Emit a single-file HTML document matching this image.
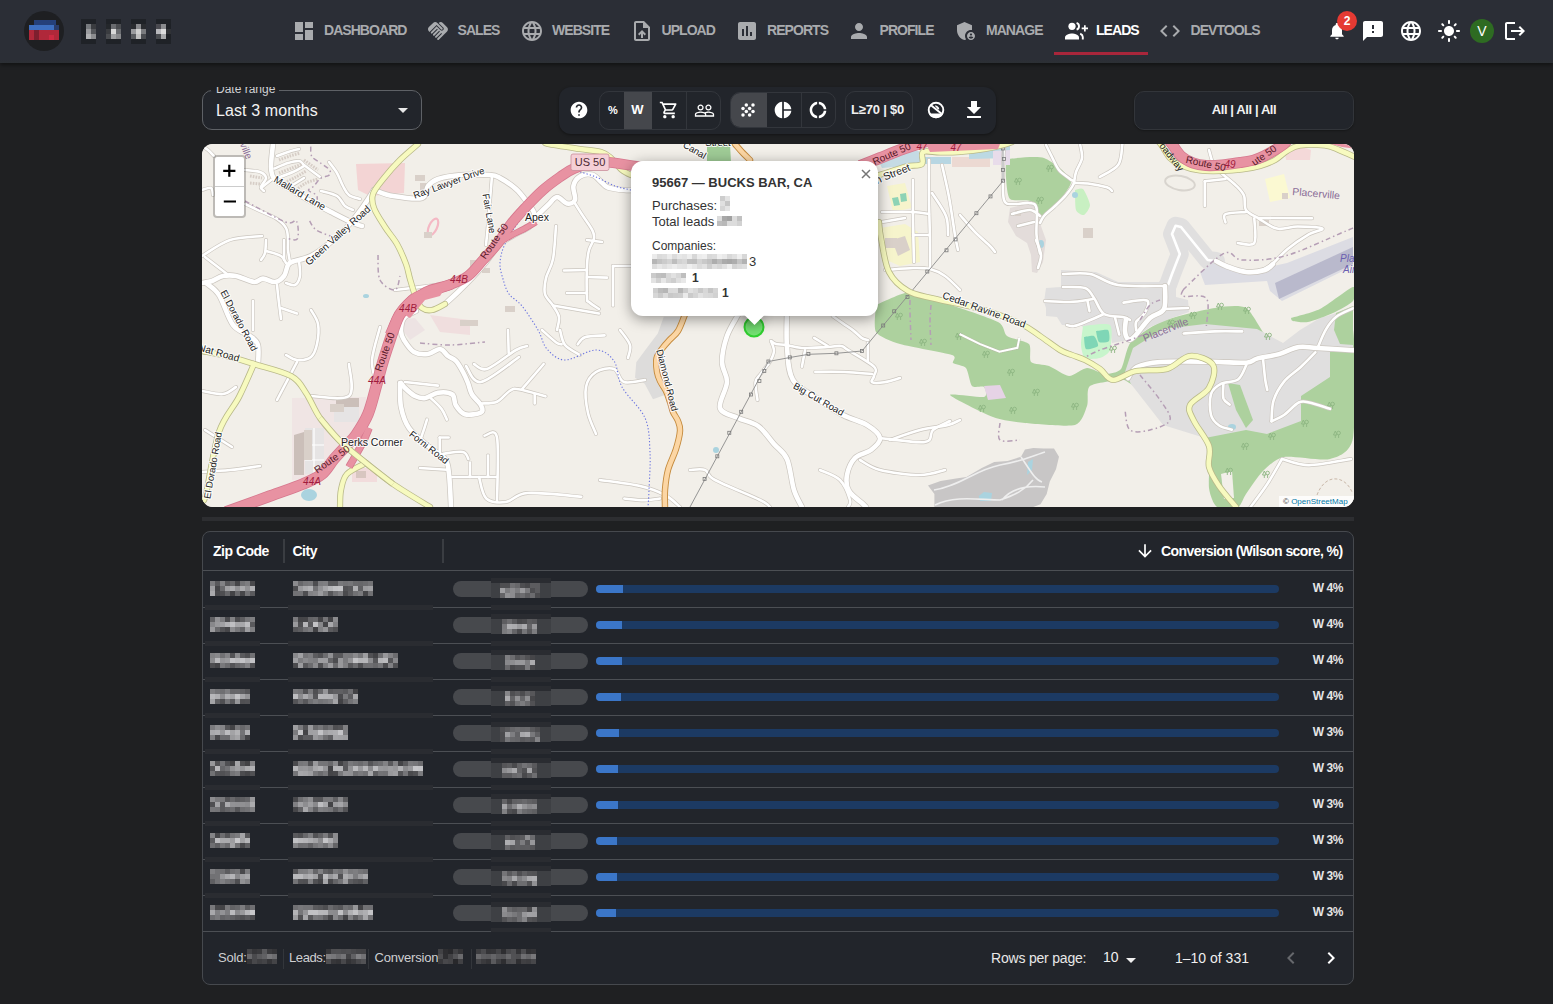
<!DOCTYPE html>
<html><head><meta charset="utf-8">
<style>
*{box-sizing:border-box}
html,body{margin:0;padding:0}
body{width:1553px;height:1004px;overflow:hidden;position:relative;background:#1f2022;font-family:"Liberation Sans",sans-serif;color:#fff}
.a{position:absolute}
svg{display:block}
#hdr{position:absolute;left:0;top:0;width:1553px;height:63px;background:linear-gradient(#2b2e36 0,#2b2e36 59px,#2c3034 63px);box-shadow:0 2px 4px rgba(0,0,0,.45)}
.nv{position:absolute;top:24px;font-size:14px;font-weight:bold;letter-spacing:-0.95px;color:#a9abae;line-height:14px;white-space:nowrap}
.ni{position:absolute;top:19px;width:24px;height:24px;fill:#a9abae}
.px{position:absolute}
.ri{position:absolute;width:24px;height:24px;fill:#fff}
</style></head><body>
<div id="hdr">
  <!-- logo -->
  <div class="a" style="left:24px;top:11px;width:40px;height:40px;border-radius:50%;background:#1e1f22"></div>
  <div class="a" style="left:34px;top:20px;width:22px;height:5px;background:#25407a"></div>
  <div class="a" style="left:29px;top:25px;width:25px;height:5px;background:#3e6fc0"></div>
  <div class="a" style="left:54px;top:25px;width:5px;height:5px;background:#2a3c6a"></div>
  <div class="a" style="left:29px;top:30px;width:30px;height:10px;background:#b0283a"></div>
  <div class="a" style="left:34px;top:30px;width:5px;height:10px;background:#7e1f2e"></div>
  <div class="a" style="left:49px;top:35px;width:5px;height:5px;background:#cc2a42"></div>
  <!-- pixelated name -->
  <div class="a" style="left:81px;top:19px;width:15px;height:25px;background:#1f2227"></div>
  <div class="a" style="left:86px;top:24px;width:5px;height:5px;background:#777a7e"></div>
  <div class="a" style="left:91px;top:24px;width:5px;height:5px;background:#3a3c40"></div>
  <div class="a" style="left:86px;top:29px;width:5px;height:5px;background:#9a9b9e"></div>
  <div class="a" style="left:91px;top:29px;width:5px;height:5px;background:#55575b"></div>
  <div class="a" style="left:86px;top:34px;width:5px;height:5px;background:#b0b1b3"></div>
  <div class="a" style="left:91px;top:34px;width:5px;height:5px;background:#8c8d90"></div>
  <div class="a" style="left:106px;top:19px;width:15px;height:25px;background:#1f2227"></div>
  <div class="a" style="left:106px;top:24px;width:5px;height:5px;background:#24272b"></div>
  <div class="a" style="left:111px;top:24px;width:5px;height:5px;background:#6a6c70"></div>
  <div class="a" style="left:116px;top:24px;width:5px;height:5px;background:#4a4c50"></div>
  <div class="a" style="left:106px;top:29px;width:5px;height:5px;background:#3a3c40"></div>
  <div class="a" style="left:111px;top:29px;width:5px;height:5px;background:#d8d8d8"></div>
  <div class="a" style="left:116px;top:29px;width:5px;height:5px;background:#6a6c70"></div>
  <div class="a" style="left:106px;top:34px;width:5px;height:5px;background:#4a4c50"></div>
  <div class="a" style="left:111px;top:34px;width:5px;height:5px;background:#a0a1a3"></div>
  <div class="a" style="left:116px;top:34px;width:5px;height:5px;background:#88898c"></div>
  <div class="a" style="left:131px;top:19px;width:15px;height:25px;background:#1f2227"></div>
  <div class="a" style="left:131px;top:24px;width:5px;height:5px;background:#2a2c30"></div>
  <div class="a" style="left:136px;top:24px;width:5px;height:5px;background:#8a8b8e"></div>
  <div class="a" style="left:141px;top:24px;width:5px;height:5px;background:#2a2c30"></div>
  <div class="a" style="left:131px;top:29px;width:5px;height:5px;background:#9a9b9e"></div>
  <div class="a" style="left:136px;top:29px;width:5px;height:5px;background:#d0d0d0"></div>
  <div class="a" style="left:141px;top:29px;width:5px;height:5px;background:#7a7b7e"></div>
  <div class="a" style="left:131px;top:34px;width:5px;height:5px;background:#5a5c60"></div>
  <div class="a" style="left:136px;top:34px;width:5px;height:5px;background:#c0c0c0"></div>
  <div class="a" style="left:141px;top:34px;width:5px;height:5px;background:#4a4c50"></div>
  <div class="a" style="left:156px;top:19px;width:15px;height:25px;background:#1f2227"></div>
  <div class="a" style="left:156px;top:24px;width:5px;height:5px;background:#4a4a50"></div>
  <div class="a" style="left:161px;top:24px;width:5px;height:5px;background:#8a8b8e"></div>
  <div class="a" style="left:166px;top:24px;width:5px;height:5px;background:#1e2126"></div>
  <div class="a" style="left:156px;top:29px;width:5px;height:5px;background:#b8b8bc"></div>
  <div class="a" style="left:161px;top:29px;width:5px;height:5px;background:#dcdcdc"></div>
  <div class="a" style="left:166px;top:29px;width:5px;height:5px;background:#303236"></div>
  <div class="a" style="left:156px;top:34px;width:5px;height:5px;background:#4a4c50"></div>
  <div class="a" style="left:161px;top:34px;width:5px;height:5px;background:#a8a9ab"></div>
  <div class="a" style="left:166px;top:34px;width:5px;height:5px;background:#1e2126"></div>
  <!-- nav -->
  <svg class="ni" style="left:292px" viewBox="0 0 24 24"><path d="M3 13h8V3H3v10zm0 8h8v-6H3v6zm10 0h8V11h-8v10zm0-18v6h8V3h-8z"/></svg>
  <div class="nv" style="left:324px;top:23px">DASHBOARD</div>
  <svg class="ni" style="left:426px" viewBox="0 0 24 24"><path d="M16.48 10.41c-.39.39-1.04.39-1.43 0l-4.47-4.46-7.05 7.04-.66-.63c-1.17-1.17-1.17-3.07 0-4.24l4.24-4.24c1.17-1.17 3.07-1.17 4.24 0L16.48 9c.39.39.39 1.02 0 1.41zm.7-2.12c.78.78.78 2.05 0 2.83-1.27 1.27-2.61.22-2.83 0l-3.76-3.76-5.57 5.57c-.39.39-.39 1.02 0 1.41.39.39 1.02.39 1.42 0l4.6-4.6.71.71-4.6 4.6c-.39.39-.39 1.02 0 1.41.39.39 1.02.39 1.42 0l4.6-4.6.71.71-4.6 4.6c-.39.39-.39 1.02 0 1.41.39.39 1.02.39 1.41 0l4.6-4.6.71.71-4.6 4.6c-.39.39-.39 1.02 0 1.41.39.39 1.02.39 1.41 0l8.26-8.26c1.17-1.17 1.17-3.07 0-4.24l-4.24-4.24c-1.15-1.15-3.01-1.17-4.18-.06l4.47 4.48z"/></svg>
  <div class="nv" style="left:457.5px;top:23px">SALES</div>
  <svg class="ni" style="left:520px" viewBox="0 0 24 24"><path d="M11.99 2C6.47 2 2 6.48 2 12s4.47 10 9.99 10C17.52 22 22 17.52 22 12S17.52 2 11.99 2zm6.93 6h-2.95c-.32-1.25-.78-2.45-1.38-3.56 1.84.63 3.370 1.91 4.33 3.56zM12 4.04c.83 1.2 1.48 2.53 1.91 3.96h-3.82c.43-1.43 1.08-2.76 1.91-3.96zM4.26 14C4.1 13.36 4 12.69 4 12s.1-1.36.26-2h3.38c-.08.66-.14 1.32-.14 2 0 .68.06 1.34.14 2H4.26zm.82 2h2.95c.32 1.25.78 2.45 1.38 3.56-1.84-.63-3.37-1.9-4.33-3.56zm2.95-8H5.08c.96-1.66 2.49-2.93 4.33-3.56C8.81 5.55 8.35 6.75 8.03 8zM12 19.96c-.83-1.2-1.48-2.53-1.91-3.96h3.82c-.43 1.430-1.08 2.76-1.91 3.96zM14.34 14H9.660c-.09-.66-.16-1.32-.16-2 0-.68.07-1.35.16-2h4.68c.09.65.16 1.32.16 2 0 .68-.07 1.34-.16 2zm.25 5.56c.6-1.11 1.06-2.31 1.38-3.56h2.95c-.96 1.65-2.49 2.93-4.33 3.56zM16.36 14c.08-.66.14-1.32.14-2 0-.68-.06-1.34-.14-2h3.38c.16.64.26 1.31.26 2s-.1 1.36-.26 2h-3.38z"/></svg>
  <div class="nv" style="left:552px;top:23px">WEBSITE</div>
  <svg class="ni" style="left:630px" viewBox="0 0 24 24"><path d="M14 2H6c-1.1 0-1.99.9-1.99 2L4 20c0 1.1.89 2 1.990 2H18c1.1 0 2-.9 2-2V8l-6-6zm4 18H6V4h7v5h5v11zM8 15.01l1.41 1.41L11 14.84V19h2v-4.16l1.59 1.59L16 15.01 12.01 11 8 15.01z"/></svg>
  <div class="nv" style="left:661.5px;top:23px">UPLOAD</div>
  <svg class="ni" style="left:735px" viewBox="0 0 24 24"><path d="M19 3H5c-1.1 0-2 .9-2 2v14c0 1.1.9 2 2 2h14c1.1 0 2-.9 2-2V5c0-1.1-.9-2-2-2zM9 17H7v-7h2v7zm4 0h-2V7h2v10zm4 0h-2v-4h2v4z"/></svg>
  <div class="nv" style="left:767px;top:23px">REPORTS</div>
  <svg class="ni" style="left:847px" viewBox="0 0 24 24"><path d="M12 12c2.21 0 4-1.79 4-4s-1.79-4-4-4-4 1.79-4 4 1.79 4 4 4zm0 2c-2.67 0-8 1.34-8 4v2h16v-2c0-2.66-5.33-4-8-4z"/></svg>
  <div class="nv" style="left:879.5px;top:23px">PROFILE</div>
  <svg class="ni" style="left:953.5px" viewBox="0 0 24 24"><path d="M17,11c0.34,0,0.67,0.04,1,0.09V6.27L10.5,3L3,6.27v4.91c0,4.54,3.2,8.79,7.5,9.82c0.55-0.13,1.08-0.32,1.6-0.55C11.41,19.47,11,18.28,11,17C11,13.69,13.69,11,17,11z M17,13c-2.21,0-4,1.79-4,4c0,2.21,1.79,4,4,4s4-1.79,4-4C21,14.79,19.21,13,17,13z M17,14.38c0.62,0,1.12,0.51,1.12,1.12s-0.51,1.12-1.12,1.12s-1.12-0.51-1.12-1.12S16.38,14.38,17,14.38z M17,19.75c-0.93,0-1.74-0.46-2.24-1.17c0.05-0.72,1.51-1.08,2.24-1.08s2.19,0.36,2.24,1.08C18.74,19.29,17.930,19.75,17,19.75z"/></svg>
  <div class="nv" style="left:986px;top:23px">MANAGE</div>
  <svg class="ni" style="left:1064px;fill:#fff" viewBox="0 0 24 24"><circle cx="8" cy="7.3" r="3.6"/><path d="M1 20.5v-2.3c0-2.4 4.6-3.8 7-3.8s7 1.4 7 3.8v2.3z"/><path d="M12.6 3.9a3.6 3.6 0 0 1 0 6.8" fill="none" stroke="#fff" stroke-width="1.9"/><path d="M16.2 14.7c1.6.8 2.6 1.9 2.6 3.3v2.5" fill="none" stroke="#fff" stroke-width="1.9"/><path d="M20 6.2h1.7v2.3H24v1.7h-2.3v2.3H20v-2.3h-2.3V8.5H20z"/></svg>
  <div class="nv" style="left:1096px;top:23px;color:#fff">LEADS</div>
  <div class="a" style="left:1054px;top:52px;width:94px;height:3px;background:#a8263b"></div>
  <svg class="ni" style="left:1158px" viewBox="0 0 24 24"><path d="M9.4 16.6L4.8 12l4.6-4.6L8 6l-6 6 6 6 1.4-1.4zm5.2 0l4.6-4.6-4.6-4.6L16 6l6 6-6 6-1.4-1.4z"/></svg>
  <div class="nv" style="left:1190.5px;top:23px">DEVTOOLS</div>
  <!-- right icons -->
  <svg class="ri" style="left:1326.7px;top:20.6px;width:20px;height:20px" viewBox="0 0 24 24"><path d="M12 22c1.1 0 2-.9 2-2h-4c0 1.1.89 2 2 2zm6-6v-5c0-3.07-1.64-5.64-4.5-6.32V4c0-.83-.67-1.5-1.5-1.5s-1.5.67-1.5 1.5v.68C7.63 5.36 6 7.92 6 11v5l-2 2v1h16v-1l-2-2z"/></svg>
  <div class="a" style="left:1337px;top:11px;width:20px;height:20px;border-radius:50%;background:#e53a33;color:#fff;font-size:12px;font-weight:bold;text-align:center;line-height:20px">2</div>
  <svg class="ri" style="left:1361px;top:19px" viewBox="0 0 24 24"><path d="M20 2H4c-1.1 0-1.99.9-1.99 2L2 22l4-4h14c1.1 0 2-.9 2-2V4c0-1.1-.9-2-2-2zm-7 12h-2v-2h2v2zm0-4h-2V6h2v4z"/></svg>
  <svg class="ri" style="left:1399px;top:19px" viewBox="0 0 24 24"><path d="M11.99 2C6.47 2 2 6.48 2 12s4.47 10 9.99 10C17.52 22 22 17.52 22 12S17.52 2 11.99 2zm6.93 6h-2.95c-.32-1.25-.78-2.45-1.38-3.56 1.84.63 3.37 1.91 4.33 3.56zM12 4.04c.83 1.2 1.48 2.53 1.91 3.96h-3.82c.43-1.43 1.08-2.76 1.91-3.96zM4.26 14C4.1 13.36 4 12.69 4 12s.1-1.36.26-2h3.38c-.08.66-.14 1.32-.14 2 0 .68.06 1.34.14 2H4.26zm.82 2h2.95c.32 1.25.78 2.45 1.38 3.56-1.84-.63-3.37-1.9-4.33-3.56zm2.95-8H5.08c.96-1.66 2.49-2.93 4.33-3.56C8.81 5.55 8.35 6.75 8.03 8zM12 19.96c-.83-1.2-1.48-2.53-1.91-3.96h3.82c-.43 1.43-1.08 2.76-1.91 3.96zM14.34 14H9.66c-.09-.66-.16-1.32-.16-2 0-.68.07-1.35.16-2h4.68c.09.65.16 1.32.16 2 0 .68-.07 1.34-.16 2zm.25 5.56c.6-1.11 1.06-2.31 1.38-3.56h2.95c-.96 1.65-2.49 2.93-4.33 3.56zM16.36 14c.08-.66.14-1.32.14-2 0-.68-.06-1.34-.14-2h3.38c.16.64.26 1.31.26 2s-.1 1.36-.26 2h-3.38z"/></svg>
  <svg class="ri" style="left:1437px;top:19px" viewBox="0 0 24 24"><path d="M12 7c-2.76 0-5 2.24-5 5s2.24 5 5 5 5-2.24 5-5-2.24-5-5-5zM2 13h2c.55 0 1-.45 1-1s-.45-1-1-1H2c-.55 0-1 .45-1 1s.45 1 1 1zm18 0h2c.55 0 1-.45 1-1s-.45-1-1-1h-2c-.55 0-1 .45-1 1s.45 1 1 1zM11 2v2c0 .55.45 1 1 1s1-.45 1-1V2c0-.55-.45-1-1-1s-1 .45-1 1zm0 18v2c0 .55.45 1 1 1s1-.45 1-1v-2c0-.55-.45-1-1-1s-1 .45-1 1zM5.99 4.58c-.39-.39-1.03-.39-1.41 0-.39.39-.39 1.03 0 1.41l1.06 1.06c.39.39 1.03.39 1.41 0s.39-1.03 0-1.41L5.99 4.58zm12.37 12.37c-.39-.39-1.03-.39-1.41 0-.39.39-.39 1.03 0 1.41l1.06 1.06c.39.39 1.03.39 1.41 0 .39-.39.39-1.03 0-1.41l-1.06-1.06zm1.06-10.96c.39-.39.39-1.03 0-1.41-.39-.39-1.03-.39-1.41 0l-1.06 1.06c-.39.39-.39 1.03 0 1.41s1.03.39 1.41 0l1.06-1.06zM7.05 18.36c.39-.39.39-1.03 0-1.41-.39-.39-1.03-.39-1.41 0l-1.06 1.06c-.39.39-.39 1.03 0 1.41s1.03.39 1.41 0l1.06-1.06z"/></svg>
  <div class="a" style="left:1470px;top:19px;width:24px;height:24px;border-radius:50%;background:#2e6b22;color:#fff;font-size:14px;text-align:center;line-height:24px">V</div>
  <svg class="ri" style="left:1503px;top:19px" viewBox="0 0 24 24"><path d="M17 7l-1.41 1.41L18.17 11H8v2h10.17l-2.58 2.58L17 17l5-5zM4 5h8V3H4c-1.1 0-2 .9-2 2v14c0 1.1.9 2 2 2h8v-2H4V5z"/></svg>
</div>
<!-- date range -->
<div class="a" style="left:202px;top:90px;width:220px;height:40px;border:1px solid #5e6166;border-radius:10px;background:#22252b"></div>
<div class="a" style="left:211px;top:90px;width:68px;height:1px;background:#212328"></div>
<div class="a" style="left:214px;top:87px;width:64px;height:10px;overflow:hidden"><div class="a" style="left:2px;top:-5px;font-size:12px;color:#cfd0d2;line-height:14px;white-space:nowrap">Date range</div></div>
<div class="a" style="left:216px;top:102px;font-size:16px;color:#f2f2f2;line-height:18px;white-space:nowrap;letter-spacing:0.1px">Last 3 months</div>
<svg class="a" style="left:391px;top:98px;width:24px;height:24px;fill:#e8e8e8" viewBox="0 0 24 24"><path d="M7 10l5 5 5-5z"/></svg>
<!-- toolbar -->
<div class="a" style="left:559px;top:87px;width:437px;height:47px;border-radius:12px;background:#22252b;box-shadow:0 1px 3px rgba(0,0,0,.4)"></div>
<svg class="a" style="left:569px;top:100px;width:20px;height:20px;fill:#fff" viewBox="0 0 24 24"><path d="M12 2C6.48 2 2 6.48 2 12s4.48 10 10 10 10-4.48 10-10S17.52 2 12 2zm1 17h-2v-2h2v2zm2.07-7.75l-.9.92C13.45 12.9 13 13.5 13 15h-2v-.5c0-1.1.45-2.1 1.17-2.83l1.24-1.26c.37-.36.59-.86.59-1.41 0-1.1-.9-2-2-2s-2 .9-2 2H8c0-2.21 1.79-4 4-4s4 1.79 4 4c0 .88-.36 1.68-.93 2.25z"/></svg>
<div class="a" style="left:599px;top:91px;width:122px;height:39px;border:1px solid #33363c;border-radius:10px;overflow:hidden">
  <div class="a" style="left:24px;top:0;width:28px;height:37px;background:#45474c"></div>
  <div class="a" style="left:86px;top:0;width:1px;height:37px;background:#33363c"></div>
</div>
<div class="a" style="left:606px;top:104px;width:14px;font-size:11px;font-weight:bold;color:#fff;text-align:center;line-height:13px">%</div>
<div class="a" style="left:627px;top:103px;width:21px;font-size:13px;font-weight:bold;color:#fff;text-align:center;line-height:14px">W</div>
<svg class="a" style="left:659px;top:100px;width:20px;height:20px;fill:#fff" viewBox="0 0 24 24"><path d="M15.55 13c.75 0 1.41-.41 1.75-1.03l3.58-6.49c.37-.66-.11-1.48-.87-1.48H5.21l-.94-2H1v2h2l3.6 7.59-1.35 2.44C4.52 15.37 5.48 17 7 17h12v-2H7l1.1-2h7.45zM6.16 6h12.15l-2.76 5H8.53L6.16 6zM7 18c-1.1 0-1.99.9-1.99 2S5.9 22 7 22s2-.9 2-2-.9-2-2-2zm10 0c-1.1 0-1.99.9-1.99 2s.89 2 1.99 2 2-.9 2-2-.9-2-2-2z"/></svg>
<svg class="a" style="left:694px;top:99.5px;width:21px;height:21px;fill:#fff" viewBox="0 0 24 24"><path d="M16.5 13c-1.2 0-3.07.34-4.5 1-1.43-.67-3.3-1-4.5-1C5.33 13 1 14.08 1 16.25V19h22v-2.750c0-2.17-4.33-3.25-6.5-3.25zm-4 4.5h-10v-1.25c0-.54 2.56-1.75 5-1.75s5 1.21 5 1.75v1.25zm9 0H14v-1.25c0-.46-.2-.86-.52-1.22.88-.3 1.96-.53 3.02-.53 2.44 0 5 1.21 5 1.75v1.25zM7.5 12c1.93 0 3.5-1.57 3.5-3.5S9.43 5 7.5 5 4 6.57 4 8.5 5.57 12 7.5 12zm0-5.5c1.1 0 2 .9 2 2s-.9 2-2 2-2-.9-2-2 .9-2 2-2zm9 5.5c1.93 0 3.5-1.57 3.5-3.5S18.43 5 16.5 5 13 6.57 13 8.5s1.57 3.5 3.5 3.5zm0-5.5c1.1 0 2 .9 2 2s-.9 2-2 2-2-.9-2-2 .9-2 2-2z"/></svg>
<div class="a" style="left:730px;top:92px;width:106px;height:36px;border:1px solid #33363c;border-radius:10px;overflow:hidden">
  <div class="a" style="left:0;top:0;width:36px;height:34px;background:#45474c"></div>
  <div class="a" style="left:70px;top:0;width:1px;height:34px;background:#33363c"></div>
</div>
<svg class="a" style="left:735px;top:97px;width:25px;height:26px;fill:#fff" viewBox="735 97 25 26"><circle cx="746.3" cy="104.9" r="1.75"/><circle cx="753" cy="104.9" r="1.75"/><circle cx="743" cy="108.4" r="1.75"/><circle cx="749.6" cy="108.4" r="1.75"/><circle cx="746.3" cy="111.6" r="1.75"/><circle cx="753" cy="111.6" r="1.75"/><circle cx="743" cy="115" r="1.75"/><circle cx="749.6" cy="115" r="1.75"/></svg>
<svg class="a" style="left:773px;top:100px;width:20px;height:20px;fill:#fff" viewBox="0 0 24 24"><path d="M11 2v20c-5.07-.5-9-4.79-9-10s3.93-9.5 9-10zm2.03 0v8.99H22c-.47-4.74-4.24-8.52-8.97-8.99zm0 11.01V22c4.74-.47 8.5-4.25 8.97-8.99h-8.97z"/></svg>
<svg class="a" style="left:808px;top:100px;width:20px;height:20px;fill:#fff" viewBox="0 0 24 24"><path d="M11 5.08V2c-5 .5-9 4.81-9 10s4 9.5 9 10v-3.08c-3-.48-6-3.4-6-6.92s3-6.44 6-6.92zM18.97 11H22c-.47-5-4-8.53-9-9v3.08C16 5.51 18.54 8 18.97 11zM13 18.92V22c5-.47 8.53-4 9-9h-3.03c-.43 3-2.97 5.49-5.97 5.92z"/></svg>
<div class="a" style="left:845px;top:91px;width:68px;height:39px;border:1px solid #33363c;border-radius:10px"></div>
<div class="a" style="left:851px;top:102px;font-size:13px;font-weight:bold;color:#f0f0f0;line-height:15px;white-space:nowrap;letter-spacing:-0.2px">L&#8805;70 | $0</div>
<svg class="a" style="left:924px;top:98px;width:24px;height:24px" viewBox="0 0 24 24"><circle cx="12" cy="12" r="7.3" fill="none" stroke="#fff" stroke-width="1.9"/><path d="M4.6 15.5 A8.2 8.2 0 0 0 19.4 15.5 Z" fill="#fff"/><path d="M7 7.2L17.3 15.6" stroke="#fff" stroke-width="1.9"/><path d="M11 7.3 A5.2 5.2 0 0 1 15.4 11.2 L13.6 11.5 A3.4 3.4 0 0 0 11.6 9 Z" fill="#fff"/></svg>
<svg class="a" style="left:962px;top:98px;width:24px;height:24px;fill:#fff" viewBox="0 0 24 24"><path d="M5 20h14v-2H5v2zM19 9h-4V3H9v6H5l7 7 7-7z"/></svg>
<!-- right filter -->
<div class="a" style="left:1134px;top:91px;width:220px;height:39px;border:1px solid #32353a;border-radius:10px;background:#22252b;box-shadow:0 1px 2px rgba(0,0,0,.3)"></div>
<div class="a" style="left:1134px;top:102px;width:220px;text-align:center;font-size:13px;font-weight:bold;color:#f2f2f2;line-height:15px;letter-spacing:-0.4px">All | All | All</div>

<!--MAP--><div class="a" style="left:202px;top:144px;width:1152px;height:363px;border-radius:11px;overflow:hidden;background:#f2efe9">
<div class="a" style="left:-202px;top:-144px;width:1553px;height:1004px"><svg class="a" style="left:202px;top:144px;width:1152px;height:363px" viewBox="202 144 1152 363"><rect x="202" y="144" width="1152" height="363" fill="#f2efe9"/><polygon points="356,164 405,163 404,193 370,196 358,190" fill="#f3d4d4" /><polygon points="292,398 366,397 366,425 345,455 325,478 292,480" fill="#f0e5e4" /><polygon points="294,435 304,432 304,475 294,475" fill="#cbbfb9" /><polygon points="305,428 324,428 324,474 305,474" fill="#e6e4e4" /><polygon points="336,398 359,398 359,407 336,407" fill="#cbbfb9" /><polygon points="334,407 359,407 359,422 334,422" fill="#e6e4e4" /><polygon points="352,468 377,468 377,482 352,482" fill="#f2dcdc" /><polygon points="356,471 366,471 366,478 356,478" fill="#d8c6c0" /><path d="M305,445 H324 M305,460 H324 M314,428 V474" stroke="#fff" stroke-width="1.2"/><polygon points="395,320 415,318 425,330 410,340" fill="#ede3e3" /><polygon points="430,315 470,320 470,335 440,332" fill="#f0dede" /><polygon points="1284,146 1300,146 1311,150 1310,160 1286,160" fill="#f4d9d9" /><polygon points="1265,179 1284,174 1290,198 1270,202" fill="#fbf9d2" /><polygon points="887,186 905,183 912,208 893,212" fill="#f6f4cc" /><polygon points="892,198 898,197 900,205 894,206" fill="#8dd3b5" /><polygon points="900,194 906,193 907,201 901,202" fill="#8dd3b5" /><polygon points="880,228 905,224 918,232 920,262 900,266 882,258" fill="#f6f4cc" /><polygon points="892,240 905,236 910,250 898,256" fill="#d9d0c9" /><polygon points="1010,208 1030,203 1040,210 1041,226 1046,240 1043,262 1037,273 1032,272 1031,255 1027,243 1016,236 1008,222" fill="#e3dcda" /><path d="M876,305 C880.0,303.5 902.0,292.2 910,292 C918.0,291.8 934.7,299.5 945,303 C955.3,306.5 990.8,318.1 998,322 C1005.2,325.9 1003.4,333.4 1007,336 C1010.6,338.6 1026.2,341.0 1029,344 C1031.8,347.0 1028.7,359.4 1031,362 C1033.3,364.6 1044.6,364.4 1049,366 C1053.4,367.6 1064.6,375.8 1069,376 C1073.4,376.2 1082.8,368.2 1087,368 C1091.2,367.8 1101.0,373.9 1105,374 C1109.0,374.1 1118.0,372.7 1121,369 C1124.0,365.3 1126.1,347.6 1131,342 C1135.9,336.4 1153.2,325.0 1163,321 C1172.8,317.0 1205.3,309.5 1215,308 C1224.7,306.5 1239.9,304.6 1246,308 C1252.1,311.4 1261.9,332.8 1267,337 C1272.1,341.2 1282.7,343.6 1290,344 C1297.3,344.4 1322.7,341.6 1330,340 C1337.3,338.4 1350.3,318.6 1353,330 C1355.7,341.4 1355.7,422.9 1353,438 C1350.3,453.1 1338.0,456.8 1330,459 C1322.0,461.2 1291.8,455.6 1284,457 C1276.2,458.4 1267.4,466.7 1263,471 C1258.6,475.3 1248.9,489.8 1246,494 C1243.1,498.2 1241.4,505.5 1238,507 C1234.6,508.5 1220.4,509.2 1217,507 C1213.6,504.8 1209.9,495.1 1209,488 C1208.1,480.9 1210.8,453.8 1209,446 C1207.2,438.2 1203.1,428.2 1194,421 C1184.9,413.8 1139.5,388.8 1131,384 C1122.5,379.2 1125.8,379.8 1121,380 C1116.2,380.2 1094.0,383.0 1090,386 C1086.0,389.0 1088.8,401.4 1087,406 C1085.2,410.6 1082.2,423.0 1075,425 C1067.8,427.0 1034.6,423.9 1025,423 C1015.4,422.1 1001.8,420.3 993,417 C984.2,413.7 951.0,397.3 950,395 C949.0,392.7 980.0,397.9 984,397 C988.0,396.1 985.4,388.3 984,387 C982.6,385.7 974.1,388.2 972,386 C969.9,383.8 968.2,370.7 966,368 C963.8,365.3 954.6,364.5 953,363 C951.4,361.5 958.2,357.2 952,355 C945.8,352.8 908.9,346.7 900,344 C891.1,341.3 878.8,336.6 876,332 C873.2,327.4 876.0,308.1 876,305 Z" fill="#add19e" /><polygon points="1061,270 1096,272 1118,282 1159,282 1167,274 1170,262 1186,262 1176,282 1176,297 1188,300 1189,312 1172,318 1150,327 1134,339 1112,343 1110,326 1085,330 1082,326 1062,325 1057,317 1046,316 1046,308 1044,302 1046,288 1061,287" fill="#e0dfdf" /><path d="M1168,285 L1172,274 L1179.8,254 L1172,234 L1175.6,225.7 L1181,227 L1207.7,260 L1216,261" fill="none" stroke="#e0dfdf" stroke-width="18" stroke-linejoin="round" stroke-linecap="round"/><path d="M1168,285 L1172,274 L1179.8,254 L1172,234 L1175.6,225.7 L1181,227 L1207.7,260 L1216,261 L1240,271" fill="none" stroke="#fff" stroke-width="2.6" stroke-linejoin="round"/><polygon points="1200,272 1215,262 1246,272 1287,263 1353,237 1353,266 1282,301 1270,291 1267,281 1205,285" fill="#dcdce3" /><polygon points="1275,283 1353,247 1353,264 1279,299" fill="#b9b9cc" /><polygon points="1125,372 1133,348 1163,329 1205,324 1257,329 1283,343 1300,330 1320,318 1340,312 1353,308 1353,350 1330,352 1330,377 1301,396 1301,421 1267,434 1246,430 1205,438 1163,425 1131,384" fill="#e0dfdf" /><polygon points="1336,313 1353,306 1353,345 1340,344 1334,330" fill="#add19e" /><polygon points="1221,474 1232,471 1234,498 1224,499" fill="#f2efe9" /><polygon points="1228,383 1240,385 1253,420 1246,428 1236,410" fill="#add19e" /><path d="M1291,318 C1294.4,316.9 1312.8,312.6 1320,309 C1327.2,305.4 1349.2,287.9 1353,287 C1356.8,286.1 1355.3,298.0 1353,301 C1350.7,304.0 1338.2,310.6 1333,313 C1327.8,315.4 1312.7,321.1 1308,322 C1303.3,322.9 1295.0,321.5 1293,321 C1291.0,320.5 1291.2,318.4 1291,318 Z" fill="#add19e" /><path d="M1006,159 C1010.4,158.9 1036.4,155.3 1044,158 C1051.6,160.7 1071.0,175.2 1071,182 C1071.0,188.8 1048.7,213.8 1044,216 C1039.3,218.2 1035.0,203.0 1031,201 C1027.0,199.0 1012.9,201.7 1010,199 C1007.1,196.3 1006.5,182.7 1006,178 C1005.5,173.3 1006.0,161.2 1006,159 Z" fill="#add19e" /><polygon points="707,144 730,144 731,162 707,162" fill="#9fcb96" /><path d="M1075,190 C1075.9,189.9 1081.2,187.2 1083,189 C1084.8,190.8 1089.9,202.0 1090,205 C1090.1,208.0 1085.6,214.4 1084,215 C1082.4,215.6 1077.0,212.9 1076,210 C1075.0,207.1 1075.1,192.3 1075,190 Z" fill="#c8f0c2" /><path d="M1083,326 C1086.2,325.9 1106.8,322.2 1110,325 C1113.2,327.8 1111.2,346.1 1110,350 C1108.8,353.9 1102.9,357.1 1100,358 C1097.1,358.9 1087.2,359.5 1085,358 C1082.8,356.5 1081.2,348.7 1081,345 C1080.8,341.3 1082.8,328.2 1083,326 Z" fill="#c8f5cc" /><path d="M1084,337 C1085.2,336.9 1092.4,334.9 1094,336 C1095.6,337.1 1098.9,344.5 1098,346 C1097.1,347.5 1087.6,350.1 1086,349 C1084.4,347.9 1084.2,338.4 1084,337 Z" fill="#7fd6b6" /><path d="M1096,331 C1097.4,330.9 1106.5,328.8 1108,330 C1109.5,331.2 1110.0,339.6 1109,341 C1108.0,342.4 1100.5,343.2 1099,342 C1097.5,340.8 1096.3,332.3 1096,331 Z" fill="#7fd6b6" /><polygon points="984,386 1000,385 1006,398 988,400" fill="#e6d3e6" /><polygon points="928,485.6 940.6,481 956,478.4 966.4,476.9 981.8,468.1 994.2,462 1007.6,460.9 1021,456.8 1025,449.6 1033.3,448 1043.6,448.5 1054,448.5 1059,456.8 1056,469.2 1049.8,481.5 1046.7,493.9 1040.5,504.2 1033.3,507 934.4,507 934.4,493.9" fill="#c8c6c6" /><polygon points="978.7,496 984,492 992,493 991,501 980,501" fill="#aad3df" /><polygon points="1028,462 1033,459 1032,470 1027,475" fill="#aad3df" /><path d="M934,490 C960,486 975,470 1000,465 C1020,462 1035,455 1045,452 M935,505 C955,495 980,500 1000,500 C1015,495 1025,490 1033,480 M1021,457 C1030,470 1035,480 1042,482 M1002,500 C1010,490 1025,485 1045,487" fill="none" stroke="#eeeeee" stroke-width="1.6"/><polygon points="663.8,316.7 680.5,316.7 677,330 662.6,350 655.4,357.4 657.8,377.7 666.2,394.5 653,399.2 644.7,383.7 635,377.7 636.3,362.2 647,347.8 657.8,333.5" fill="#dddcdb" /><polygon points="879,162 915,150 921,152 920,165 882,168" fill="#c5dbe4" /><polygon points="925,157 951,157 951,164 925,164" fill="#b7d6e2" /><polygon points="952,157 990,157 990,167 952,167" fill="#ecd9d2" /><polygon points="969,148 1010,146 1010,158 969,159" fill="#bcd9e3" /><polygon points="993,151 1010,150 1010,165 993,165" fill="#e8dcea" /><ellipse cx="433" cy="227" rx="4" ry="9" transform="rotate(25 433 227)" fill="none" stroke="#f4b8c4" stroke-width="2.2"/><ellipse cx="309" cy="495" rx="8" ry="6" fill="#aad3df"/><ellipse cx="366" cy="296" rx="3" ry="2" fill="#aad3df"/><ellipse cx="1041" cy="244" rx="3" ry="4" fill="#aad3df"/><ellipse cx="1075" cy="195" rx="3" ry="3" fill="#aad3df"/><ellipse cx="716" cy="450" rx="3" ry="3" fill="#aad3df"/><ellipse cx="1232" cy="427" rx="4" ry="3" fill="#aad3df"/><rect x="415" y="175" width="10" height="6" fill="#d9d0c9"/><rect x="420" y="183" width="6" height="8" fill="#d9d0c9"/><rect x="424" y="232" width="8" height="6" fill="#d9d0c9"/><rect x="470" y="260" width="12" height="8" fill="#d9d0c9"/><rect x="482" y="268" width="8" height="5" fill="#d9d0c9"/><rect x="460" y="320" width="18" height="6" fill="#d9d0c9"/><rect x="330" y="404" width="14" height="8" fill="#d9d0c9"/><rect x="304" y="430" width="8" height="30" fill="#d9d0c9"/><rect x="505" y="306" width="10" height="6" fill="#d9d0c9"/><rect x="1083" y="228" width="10" height="10" fill="#d9d0c9"/><rect x="1015" y="210" width="6" height="6" fill="#d9d0c9"/><rect x="885" y="238" width="12" height="10" fill="#d9d0c9"/><rect x="1259" y="218" width="10" height="8" fill="#d9d0c9"/><rect x="1282" y="193" width="6" height="6" fill="#d9d0c9"/><g fill="none" stroke="#8db682" stroke-width="0.9"><path d="M895.5,317 l1.8,-4 l1.8,4 z M897.3,317 v3"/><circle cx="900.6" cy="315" r="1.8"/><path d="M900.6,316.8 v3.2"/></g><g fill="none" stroke="#8db682" stroke-width="0.9"><path d="M919.5,343 l1.8,-4 l1.8,4 z M921.3,343 v3"/><circle cx="924.6" cy="341" r="1.8"/><path d="M924.6,342.8 v3.2"/></g><g fill="none" stroke="#8db682" stroke-width="0.9"><path d="M955.5,337 l1.8,-4 l1.8,4 z M957.3,337 v3"/><circle cx="960.6" cy="335" r="1.8"/><path d="M960.6,336.8 v3.2"/></g><g fill="none" stroke="#8db682" stroke-width="0.9"><path d="M982.5,355 l1.8,-4 l1.8,4 z M984.3,355 v3"/><circle cx="987.6" cy="353" r="1.8"/><path d="M987.6,354.8 v3.2"/></g><g fill="none" stroke="#8db682" stroke-width="0.9"><path d="M1007.5,373 l1.8,-4 l1.8,4 z M1009.3,373 v3"/><circle cx="1012.6" cy="371" r="1.8"/><path d="M1012.6,372.8 v3.2"/></g><g fill="none" stroke="#8db682" stroke-width="0.9"><path d="M1032.5,393 l1.8,-4 l1.8,4 z M1034.3,393 v3"/><circle cx="1037.6" cy="391" r="1.8"/><path d="M1037.6,392.8 v3.2"/></g><g fill="none" stroke="#8db682" stroke-width="0.9"><path d="M1071.5,407 l1.8,-4 l1.8,4 z M1073.3,407 v3"/><circle cx="1076.6" cy="405" r="1.8"/><path d="M1076.6,406.8 v3.2"/></g><g fill="none" stroke="#8db682" stroke-width="0.9"><path d="M1009.5,411 l1.8,-4 l1.8,4 z M1011.3,411 v3"/><circle cx="1014.6" cy="409" r="1.8"/><path d="M1014.6,410.8 v3.2"/></g><g fill="none" stroke="#8db682" stroke-width="0.9"><path d="M978.5,409 l1.8,-4 l1.8,4 z M980.3,409 v3"/><circle cx="983.6" cy="407" r="1.8"/><path d="M983.6,408.8 v3.2"/></g><g fill="none" stroke="#8db682" stroke-width="0.9"><path d="M1264.5,337 l1.8,-4 l1.8,4 z M1266.3,337 v3"/><circle cx="1269.6" cy="335" r="1.8"/><path d="M1269.6,336.8 v3.2"/></g><g fill="none" stroke="#8db682" stroke-width="0.9"><path d="M1301.5,424 l1.8,-4 l1.8,4 z M1303.3,424 v3"/><circle cx="1306.6" cy="422" r="1.8"/><path d="M1306.6,423.8 v3.2"/></g><g fill="none" stroke="#8db682" stroke-width="0.9"><path d="M1327.5,406 l1.8,-4 l1.8,4 z M1329.3,406 v3"/><circle cx="1332.6" cy="404" r="1.8"/><path d="M1332.6,405.8 v3.2"/></g><g fill="none" stroke="#8db682" stroke-width="0.9"><path d="M1333.5,435 l1.8,-4 l1.8,4 z M1335.3,435 v3"/><circle cx="1338.6" cy="433" r="1.8"/><path d="M1338.6,434.8 v3.2"/></g><g fill="none" stroke="#8db682" stroke-width="0.9"><path d="M1268.5,437 l1.8,-4 l1.8,4 z M1270.3,437 v3"/><circle cx="1273.6" cy="435" r="1.8"/><path d="M1273.6,436.8 v3.2"/></g><g fill="none" stroke="#8db682" stroke-width="0.9"><path d="M1241.5,447 l1.8,-4 l1.8,4 z M1243.3,447 v3"/><circle cx="1246.6" cy="445" r="1.8"/><path d="M1246.6,446.8 v3.2"/></g><g fill="none" stroke="#8db682" stroke-width="0.9"><path d="M1225.5,472 l1.8,-4 l1.8,4 z M1227.3,472 v3"/><circle cx="1230.6" cy="470" r="1.8"/><path d="M1230.6,471.8 v3.2"/></g><g fill="none" stroke="#8db682" stroke-width="0.9"><path d="M1262.5,475 l1.8,-4 l1.8,4 z M1264.3,475 v3"/><circle cx="1267.6" cy="473" r="1.8"/><path d="M1267.6,474.8 v3.2"/></g><g fill="none" stroke="#8db682" stroke-width="0.9"><path d="M1243.5,311 l1.8,-4 l1.8,4 z M1245.3,311 v3"/><circle cx="1248.6" cy="309" r="1.8"/><path d="M1248.6,310.8 v3.2"/></g><g fill="none" stroke="#8db682" stroke-width="0.9"><path d="M1216.5,307 l1.8,-4 l1.8,4 z M1218.3,307 v3"/><circle cx="1221.6" cy="305" r="1.8"/><path d="M1221.6,306.8 v3.2"/></g><g fill="none" stroke="#8db682" stroke-width="0.9"><path d="M1189.5,316 l1.8,-4 l1.8,4 z M1191.3,316 v3"/><circle cx="1194.6" cy="314" r="1.8"/><path d="M1194.6,315.8 v3.2"/></g><g fill="none" stroke="#8db682" stroke-width="0.9"><path d="M1046.5,169 l1.8,-4 l1.8,4 z M1048.3,169 v3"/><circle cx="1051.6" cy="167" r="1.8"/><path d="M1051.6,168.8 v3.2"/></g><g fill="none" stroke="#8db682" stroke-width="0.9"><path d="M1014.5,182 l1.8,-4 l1.8,4 z M1016.3,182 v3"/><circle cx="1019.6" cy="180" r="1.8"/><path d="M1019.6,181.8 v3.2"/></g><g fill="none" stroke="#8db682" stroke-width="0.9"><path d="M1036.5,201 l1.8,-4 l1.8,4 z M1038.3,201 v3"/><circle cx="1041.6" cy="199" r="1.8"/><path d="M1041.6,200.8 v3.2"/></g><g fill="none" stroke="#8db682" stroke-width="0.9"><path d="M1109.5,350 l1.8,-4 l1.8,4 z M1111.3,350 v3"/><circle cx="1114.6" cy="348" r="1.8"/><path d="M1114.6,349.8 v3.2"/></g><g fill="none" stroke="#8db682" stroke-width="0.9"><path d="M1167.5,324 l1.8,-4 l1.8,4 z M1169.3,324 v3"/><circle cx="1172.6" cy="322" r="1.8"/><path d="M1172.6,323.8 v3.2"/></g><path d="M273,144 C272.7,147.8 270.8,161.1 271,167 C271.2,172.9 271.7,176.0 274.5,179.5 C277.3,183.0 282.1,184.4 288,188 C293.9,191.6 302.8,197.0 310,201 C317.2,205.0 323.8,208.3 331,212 C338.2,215.7 347.8,220.7 353,223 C358.2,225.3 360.5,225.5 362,226" fill="none" stroke="#cbc6bf" stroke-width="6.0" stroke-linecap="round" stroke-linejoin="round"/><path d="M277,156 C278.8,155.3 284.3,153.2 288,152 C291.7,150.8 297.2,149.5 299,149" fill="none" stroke="#cbc6bf" stroke-width="3.9" stroke-linecap="round" stroke-linejoin="round"/><path d="M274.5,168.5 C276.8,167.6 283.9,164.2 288,163 C292.1,161.8 296.3,160.7 299,161 C301.7,161.3 300.5,162.3 304,165 C307.5,167.7 317.3,175.0 320,177" fill="none" stroke="#cbc6bf" stroke-width="3.9" stroke-linecap="round" stroke-linejoin="round"/><path d="M277,178 C279.7,177.0 288.5,174.0 293,172 C297.5,170.0 302.2,167.0 304,166" fill="none" stroke="#cbc6bf" stroke-width="3.9" stroke-linecap="round" stroke-linejoin="round"/><path d="M291,186 L304,178" fill="none" stroke="#cbc6bf" stroke-width="3.9" stroke-linecap="round" stroke-linejoin="round"/><path d="M245,170 C247.5,170.3 256.5,170.7 260,172 C263.5,173.3 265.8,175.5 266,178 C266.2,180.5 261.3,184.8 261,187 C260.7,189.2 263.5,190.3 264,191" fill="none" stroke="#cbc6bf" stroke-width="3.9" stroke-linecap="round" stroke-linejoin="round"/><path d="M271,180 L261,188" fill="none" stroke="#cbc6bf" stroke-width="3.9" stroke-linecap="round" stroke-linejoin="round"/><path d="M202,190 C203.5,189.7 209.2,187.2 211,188 C212.8,188.8 212.7,193.8 213,195" fill="none" stroke="#cbc6bf" stroke-width="3.9" stroke-linecap="round" stroke-linejoin="round"/><path d="M245,204 C247.5,205.2 254.7,208.5 260,211 C265.3,213.5 272.7,216.2 277,219 C281.3,221.8 284.2,224.7 286,228 C287.8,231.3 287.7,235.3 288,239 C288.3,242.7 287.7,246.2 288,250 C288.3,253.8 289.7,260.0 290,262" fill="none" stroke="#cbc6bf" stroke-width="3.9" stroke-linecap="round" stroke-linejoin="round"/><path d="M321,191 C323.7,191.8 333.0,193.5 337,196 C341.0,198.5 342.3,203.7 345,206 C347.7,208.3 351.7,209.3 353,210" fill="none" stroke="#cbc6bf" stroke-width="3.9" stroke-linecap="round" stroke-linejoin="round"/><path d="M329,162 C330.3,163.8 334.7,169.0 337,173 C339.3,177.0 341.0,182.3 343,186 C345.0,189.7 346.2,192.8 349,195 C351.8,197.2 358.2,198.3 360,199" fill="none" stroke="#cbc6bf" stroke-width="3.9" stroke-linecap="round" stroke-linejoin="round"/><path d="M374,190 C372.0,193.0 366.5,201.8 362,208 C357.5,214.2 352.2,221.3 347,227 C341.8,232.7 337.0,237.2 331,242 C325.0,246.8 317.3,252.8 311,256 C304.7,259.2 296.8,260.0 293,261.5 C289.2,263.0 289.5,262.6 288,265 C286.5,267.4 286.2,273.2 284,276 C281.8,278.8 278.5,281.6 275,282 C271.5,282.4 266.5,278.6 263,278.6 C259.5,278.6 258.5,282.4 254,282 C249.5,281.6 241.2,277.0 236,276 C230.8,275.0 227.0,275.2 223,276 C219.0,276.8 215.5,279.8 212,281 C208.5,282.2 203.7,282.7 202,283" fill="none" stroke="#cbc6bf" stroke-width="6.0" stroke-linecap="round" stroke-linejoin="round"/><path d="M206,283 C208.2,285.0 214.5,288.0 219,295 C223.5,302.0 227.8,318.2 233,325 C238.2,331.8 245.8,332.7 250,336 C254.2,339.3 256.7,340.2 258,345 C259.3,349.8 258.0,361.7 258,365" fill="none" stroke="#cbc6bf" stroke-width="6.0" stroke-linecap="round" stroke-linejoin="round"/><path d="M374,190 C377.2,191.0 385.0,194.7 393,196 C401.0,197.3 416.2,199.7 422,198 C427.8,196.3 425.3,189.2 428,186 C430.7,182.8 432.5,180.8 438,179 C443.5,177.2 452.3,175.7 461,175 C469.7,174.3 483.5,174.5 490,175 C496.5,175.5 495.7,175.7 500,178 C504.3,180.3 511.5,185.0 516,189 C520.5,193.0 524.1,198.2 527,202 C529.9,205.8 532.2,208.8 533.5,211.5 C534.8,214.2 534.8,216.9 535,218" fill="none" stroke="#cbc6bf" stroke-width="6.0" stroke-linecap="round" stroke-linejoin="round"/><path d="M534,221 C534.2,220.5 532.7,220.7 535,218 C537.3,215.3 544.3,208.5 548,205 C551.7,201.5 553.8,197.2 557,197 C560.2,196.8 564.0,203.0 567,203.5 C570.0,204.0 573.9,202.9 575,200 C576.1,197.1 572.6,189.9 573.4,186 C574.2,182.1 576.8,178.3 580,176.4 C583.2,174.5 588.8,173.7 592.5,174.8 C596.2,175.9 599.4,180.7 602,182.8 C604.6,184.9 604.3,186.3 608,187.5 C611.7,188.7 618.7,189.6 624,190 C629.3,190.4 637.3,190.0 640,190" fill="none" stroke="#cbc6bf" stroke-width="6.0" stroke-linecap="round" stroke-linejoin="round"/><path d="M445,304 C447.2,302.0 453.5,296.3 458,292 C462.5,287.7 467.3,283.0 472,278 C476.7,273.0 481.3,267.7 486,262 C490.7,256.3 495.0,248.7 500,244 C505.0,239.3 511.2,236.8 516,234 C520.8,231.2 525.8,229.7 529,227 C532.2,224.3 534.0,219.5 535,218" fill="none" stroke="#cbc6bf" stroke-width="6.0" stroke-linecap="round" stroke-linejoin="round"/><path d="M556,226 C555.5,231.5 554.7,250.3 553,259 C551.3,267.7 547.3,272.2 546,278 C544.7,283.8 543.8,289.4 545,294 C546.2,298.6 550.7,301.7 553,305.5 C555.3,309.3 558.3,312.9 559,317 C559.7,321.1 557.3,327.8 557,330" fill="none" stroke="#cbc6bf" stroke-width="3.9" stroke-linecap="round" stroke-linejoin="round"/><path d="M575,203.5 C576.3,205.6 580.1,211.5 583,216 C585.9,220.5 590.7,226.8 592.5,230.6 C594.3,234.4 594.6,235.4 594,238.6 C593.4,241.8 590.2,245.4 589,250 C587.8,254.6 587.3,258.1 587,266 C586.7,273.9 586.7,291.6 587,297.6 C587.3,303.6 587.0,300.1 589,302 C591.0,303.9 597.3,307.8 599,309" fill="none" stroke="#cbc6bf" stroke-width="3.9" stroke-linecap="round" stroke-linejoin="round"/><path d="M587,240 L602,242" fill="none" stroke="#cbc6bf" stroke-width="3.9" stroke-linecap="round" stroke-linejoin="round"/><path d="M587,270 L564,270.5" fill="none" stroke="#cbc6bf" stroke-width="3.9" stroke-linecap="round" stroke-linejoin="round"/><path d="M587,277 L607,277.6" fill="none" stroke="#cbc6bf" stroke-width="3.9" stroke-linecap="round" stroke-linejoin="round"/><path d="M587,293 L567,293" fill="none" stroke="#cbc6bf" stroke-width="3.9" stroke-linecap="round" stroke-linejoin="round"/><path d="M553,305.5 L599,313.5" fill="none" stroke="#cbc6bf" stroke-width="3.9" stroke-linecap="round" stroke-linejoin="round"/><path d="M613,266 L613,305.5" fill="none" stroke="#cbc6bf" stroke-width="3.9" stroke-linecap="round" stroke-linejoin="round"/><path d="M613,266 L631,266" fill="none" stroke="#cbc6bf" stroke-width="3.9" stroke-linecap="round" stroke-linejoin="round"/><path d="M492,176 C491.7,180.0 490.7,191.8 490,200 C489.3,208.2 488.7,217.5 488,225 C487.3,232.5 486.3,241.7 486,245" fill="none" stroke="#cbc6bf" stroke-width="3.9" stroke-linecap="round" stroke-linejoin="round"/><path d="M395,290 C399.2,289.5 410.8,288.2 420,287 C429.2,285.8 445.0,283.7 450,283" fill="none" stroke="#cbc6bf" stroke-width="3.9" stroke-linecap="round" stroke-linejoin="round"/><path d="M202,256 C206.7,253.3 220.0,243.3 230,240 C240.0,236.7 256.7,236.7 262,236" fill="none" stroke="#cbc6bf" stroke-width="3.9" stroke-linecap="round" stroke-linejoin="round"/><path d="M400,383 C400.2,387.0 399.5,399.5 401,407 C402.5,414.5 404.5,421.5 409,428 C413.5,434.5 422.0,440.8 428,446 C434.0,451.2 441.5,454.3 445,459 C448.5,463.7 448.0,466.0 449,474 C450.0,482.0 450.7,501.5 451,507" fill="none" stroke="#cbc6bf" stroke-width="6.0" stroke-linecap="round" stroke-linejoin="round"/><path d="M205,430 L232,447" fill="none" stroke="#cbc6bf" stroke-width="3.9" stroke-linecap="round" stroke-linejoin="round"/><path d="M380,327 C378.7,332.5 372.7,350.8 372,360 C371.3,369.2 375.3,378.3 376,382" fill="none" stroke="#cbc6bf" stroke-width="3.9" stroke-linecap="round" stroke-linejoin="round"/><path d="M596,434 C594.7,430.5 589.7,420.8 588,413 C586.3,405.2 584.7,393.8 586,387 C587.3,380.2 591.3,375.0 596,372 C600.7,369.0 609.3,367.3 614,369 C618.7,370.7 618.8,380.2 624,382 C629.2,383.8 641.5,380.3 645,380" fill="none" stroke="#cbc6bf" stroke-width="3.9" stroke-linecap="round" stroke-linejoin="round"/><path d="M560,330 C560.8,332.5 561.7,340.8 565,345 C568.3,349.2 577.5,353.3 580,355" fill="none" stroke="#cbc6bf" stroke-width="3.9" stroke-linecap="round" stroke-linejoin="round"/><path d="M620,330 C621.7,332.5 628.7,340.3 630,345 C631.3,349.7 628.3,355.8 628,358" fill="none" stroke="#cbc6bf" stroke-width="3.9" stroke-linecap="round" stroke-linejoin="round"/><path d="M202,472 C206.7,471.7 220.3,471.0 230,470 C239.7,469.0 255.0,466.7 260,466" fill="none" stroke="#cbc6bf" stroke-width="3.9" stroke-linecap="round" stroke-linejoin="round"/><path d="M738,315 C736.2,318.5 729.7,328.2 727,336 C724.3,343.8 722.0,354.3 722,362 C722.0,369.7 727.3,374.3 727,382 C726.7,389.7 718.2,402.0 720,408 C721.8,414.0 731.7,415.0 738,418 C744.3,421.0 752.0,421.7 758,426 C764.0,430.3 769.2,438.5 774,444 C778.8,449.5 783.7,451.3 787,459 C790.3,466.7 791.5,482.0 794,490 C796.5,498.0 800.7,504.2 802,507" fill="none" stroke="#cbc6bf" stroke-width="6.0" stroke-linecap="round" stroke-linejoin="round"/><path d="M787,310 C787.0,316.2 786.0,335.3 787,347 C788.0,358.7 787.8,371.3 793,380 C798.2,388.7 809.7,393.2 818,399 C826.3,404.8 834.8,410.7 843,415 C851.2,419.3 860.8,421.2 867,425 C873.2,428.8 879.3,433.8 880,438 C880.7,442.2 875.2,446.7 871,450 C866.8,453.3 859.0,453.8 855,458 C851.0,462.2 848.0,469.5 847,475 C846.0,480.5 846.3,486.2 849,491 C851.7,495.8 860.2,501.3 863,504 C865.8,506.7 865.5,506.5 866,507" fill="none" stroke="#cbc6bf" stroke-width="6.0" stroke-linecap="round" stroke-linejoin="round"/><path d="M880,438 C887.5,438.7 916.2,443.3 925,442 C933.8,440.7 928.8,433.5 933,430 C937.2,426.5 947.2,422.5 950,421" fill="none" stroke="#cbc6bf" stroke-width="3.9" stroke-linecap="round" stroke-linejoin="round"/><path d="M690,470 C692.5,470.0 700.8,468.3 705,470 C709.2,471.7 705.8,475.0 715,480 C724.2,485.0 750.8,495.5 760,500 C769.2,504.5 768.3,505.8 770,507" fill="none" stroke="#cbc6bf" stroke-width="3.9" stroke-linecap="round" stroke-linejoin="round"/><path d="M600,480 C606.7,481.0 629.2,483.5 640,486 C650.8,488.5 658.3,491.5 665,495 C671.7,498.5 677.5,505.0 680,507" fill="none" stroke="#cbc6bf" stroke-width="3.9" stroke-linecap="round" stroke-linejoin="round"/><path d="M820,470 C823.3,471.7 835.0,475.0 840,480 C845.0,485.0 848.7,495.5 850,500 C851.3,504.5 848.3,505.8 848,507" fill="none" stroke="#cbc6bf" stroke-width="3.9" stroke-linecap="round" stroke-linejoin="round"/><path d="M771,341 C771.8,341.5 773.4,343.3 776,344 C778.6,344.7 782.1,344.3 786.4,345 C790.7,345.7 795.0,347.7 801.9,348 C808.8,348.3 821.1,347.3 827.6,347 C834.1,346.7 837.6,345.5 841,346 C844.4,346.5 842.7,346.8 848.2,350.2 C853.7,353.6 869.7,362.4 874,366.7 C878.3,371.0 874.3,373.4 874,376 C873.7,378.6 870.3,381.2 872,382.2 C873.7,383.2 879.6,382.9 884.3,382.2 C889.0,381.5 897.4,378.7 900,378" fill="none" stroke="#cbc6bf" stroke-width="3.9" stroke-linecap="round" stroke-linejoin="round"/><path d="M771,341 C771.5,342.7 774.2,347.6 774,351 C773.8,354.4 772.2,357.7 770,361.5 C767.8,365.3 763.0,370.6 760.6,374 C758.2,377.4 756.0,377.9 755.5,382.2 C755.0,386.5 757.2,397.0 757.5,400" fill="none" stroke="#cbc6bf" stroke-width="3.9" stroke-linecap="round" stroke-linejoin="round"/><path d="M814.2,337.8 L827.6,346" fill="none" stroke="#cbc6bf" stroke-width="3.9" stroke-linecap="round" stroke-linejoin="round"/><path d="M832.8,316.2 C834.5,317.4 839.6,321.0 843,323.4 C846.4,325.8 850.3,328.2 853.4,330.6 C856.5,333.0 859.2,336.2 861.6,337.8 C864.0,339.4 866.8,339.6 867.8,340" fill="none" stroke="#cbc6bf" stroke-width="3.9" stroke-linecap="round" stroke-linejoin="round"/><path d="M805,350.2 L801.9,366.7" fill="none" stroke="#cbc6bf" stroke-width="3.9" stroke-linecap="round" stroke-linejoin="round"/><path d="M867.8,343 L867.8,361.5" fill="none" stroke="#cbc6bf" stroke-width="3.9" stroke-linecap="round" stroke-linejoin="round"/><path d="M815.3,371.9 C820.2,371.9 835.5,371.6 845,372 C854.5,372.4 867.5,373.7 872,374" fill="none" stroke="#cbc6bf" stroke-width="3.9" stroke-linecap="round" stroke-linejoin="round"/><path d="M860,460 C863.3,461.7 870.0,467.5 880,470 C890.0,472.5 909.2,475.0 920,475 C930.8,475.0 940.8,470.8 945,470" fill="none" stroke="#cbc6bf" stroke-width="3.9" stroke-linecap="round" stroke-linejoin="round"/><path d="M890,440 C895.0,438.3 910.3,432.5 920,430 C929.7,427.5 941.3,426.7 948,425 C954.7,423.3 958.0,420.8 960,420" fill="none" stroke="#cbc6bf" stroke-width="3.9" stroke-linecap="round" stroke-linejoin="round"/><path d="M760,270 C761.7,275.0 765.0,293.3 770,300 C775.0,306.7 786.7,308.3 790,310" fill="none" stroke="#cbc6bf" stroke-width="3.9" stroke-linecap="round" stroke-linejoin="round"/><path d="M1216,261 C1217.7,261.8 1221.0,264.2 1226,266 C1231.0,267.8 1239.5,271.3 1246,272 C1252.5,272.7 1260.5,271.3 1265,270 C1269.5,268.7 1271.7,265.0 1273,264" fill="none" stroke="#cbc6bf" stroke-width="6.0" stroke-linecap="round" stroke-linejoin="round"/><path d="M1122.4,144 C1121.7,147.4 1122.1,159.2 1118.3,164.7 C1114.5,170.2 1102.9,174.9 1099.8,177" fill="none" stroke="#cbc6bf" stroke-width="3.9" stroke-linecap="round" stroke-linejoin="round"/><path d="M1209,150 C1209.8,152.7 1212.0,162.2 1214,166 C1216.0,169.8 1217.7,169.8 1221.3,173 C1224.9,176.2 1232.0,181.5 1235.8,185.3 C1239.6,189.1 1242.3,191.5 1244,195.6 C1245.7,199.7 1243.6,206.2 1246,210 C1248.4,213.8 1253.2,215.2 1258.4,218.3 C1263.6,221.4 1270.5,227.2 1277,228.6 C1283.5,230.0 1290.0,226.5 1297.6,226.5 C1305.1,226.5 1320.6,227.2 1322.3,228.6 C1324.0,230.0 1313.8,231.4 1308,234.8 C1302.2,238.2 1293.2,244.4 1287.3,249.2 C1281.4,254.0 1276.9,260.2 1272.8,263.6 C1268.7,267.0 1264.2,268.8 1262.5,269.8" fill="none" stroke="#cbc6bf" stroke-width="3.9" stroke-linecap="round" stroke-linejoin="round"/><path d="M1246,212 C1242.6,212.4 1228.9,212.5 1225.5,214.2 C1222.1,215.9 1225.5,221.0 1225.5,222.4" fill="none" stroke="#cbc6bf" stroke-width="3.9" stroke-linecap="round" stroke-linejoin="round"/><path d="M1254.3,218.3 C1254.3,222.4 1257.0,238.9 1254.3,243 C1251.5,247.1 1240.5,243.0 1237.8,243" fill="none" stroke="#cbc6bf" stroke-width="3.9" stroke-linecap="round" stroke-linejoin="round"/><path d="M1258,218 L1312,218.3" fill="none" stroke="#cbc6bf" stroke-width="3.9" stroke-linecap="round" stroke-linejoin="round"/><path d="M1204.8,181.2 L1204.8,206" fill="none" stroke="#cbc6bf" stroke-width="3.9" stroke-linecap="round" stroke-linejoin="round"/><path d="M1204.8,181.2 L1225.5,179" fill="none" stroke="#cbc6bf" stroke-width="3.9" stroke-linecap="round" stroke-linejoin="round"/><path d="M1063,274 C1067.5,274.0 1080.8,272.2 1090,274 C1099.2,275.8 1105.5,283.0 1118,285 C1130.5,287.0 1157.2,285.8 1165,286" fill="none" stroke="#cbc6bf" stroke-width="3.9" stroke-linecap="round" stroke-linejoin="round"/><path d="M1063,287 C1066.7,287.2 1079.8,286.2 1085,288 C1090.2,289.8 1090.8,293.7 1094,298 C1097.2,302.3 1099.2,310.8 1104,314 C1108.8,317.2 1118.7,316.0 1123,317 C1127.3,318.0 1128.8,319.5 1130,320" fill="none" stroke="#cbc6bf" stroke-width="3.9" stroke-linecap="round" stroke-linejoin="round"/><path d="M1045,301 C1049.2,301.2 1062.0,302.3 1070,302 C1078.0,301.7 1089.2,299.5 1093,299" fill="none" stroke="#cbc6bf" stroke-width="3.9" stroke-linecap="round" stroke-linejoin="round"/><path d="M1104,314 C1101.3,315.2 1093.0,319.0 1088,321 C1083.0,323.0 1077.5,325.3 1074,326 C1070.5,326.7 1068.2,325.2 1067,325" fill="none" stroke="#cbc6bf" stroke-width="3.9" stroke-linecap="round" stroke-linejoin="round"/><path d="M1165,286 C1164.8,289.8 1166.5,303.7 1164,309 C1161.5,314.3 1155.0,313.3 1150,318 C1145.0,322.7 1137.7,333.5 1134,337 C1130.3,340.5 1129.5,340.0 1128,339 C1126.5,338.0 1125.3,334.3 1125,331 C1124.7,327.7 1125.8,321.0 1126,319" fill="none" stroke="#cbc6bf" stroke-width="6.0" stroke-linecap="round" stroke-linejoin="round"/><path d="M1164,309 L1188,308" fill="none" stroke="#cbc6bf" stroke-width="3.9" stroke-linecap="round" stroke-linejoin="round"/><path d="M1128,378 C1129.5,376.2 1131.7,369.7 1137,367 C1142.3,364.3 1147.7,362.9 1160,362 C1172.3,361.1 1196.6,361.6 1211,361.7 C1225.4,361.8 1238.7,363.2 1246.4,362.7 C1254.1,362.2 1251.7,360.0 1257,358.6 C1262.3,357.2 1271.0,356.3 1278,354.4 C1285.0,352.5 1292.1,348.1 1298.7,347 C1305.3,345.9 1308.5,347.5 1317.5,348 C1326.5,348.5 1347.1,349.8 1353,350.2" fill="none" stroke="#cbc6bf" stroke-width="6.0" stroke-linecap="round" stroke-linejoin="round"/><path d="M1317.5,348 C1318.9,344.9 1322.9,334.5 1326,329.3 C1329.1,324.1 1331.8,320.2 1336.3,316.7 C1340.8,313.2 1350.2,309.8 1353,308.4" fill="none" stroke="#cbc6bf" stroke-width="3.9" stroke-linecap="round" stroke-linejoin="round"/><path d="M1246.4,364.8 C1245.0,367.2 1242.2,376.4 1238,379.5 C1233.8,382.6 1225.8,381.3 1221.3,383.7 C1216.8,386.1 1212.7,388.8 1211,394 C1209.3,399.2 1209.6,409.8 1211,415 C1212.4,420.2 1215.7,423.1 1219.2,425.5 C1222.7,427.9 1229.7,429.0 1231.8,429.7" fill="none" stroke="#cbc6bf" stroke-width="3.9" stroke-linecap="round" stroke-linejoin="round"/><path d="M1223.4,383.7 C1223.4,386.1 1222.4,394.8 1223.4,398.3 C1224.5,401.8 1228.7,403.6 1229.7,404.6" fill="none" stroke="#cbc6bf" stroke-width="3.9" stroke-linecap="round" stroke-linejoin="round"/><path d="M1263,358.6 C1263.4,362.1 1264.5,374.3 1265.2,379.5 C1265.9,384.7 1267.0,388.2 1267.3,390" fill="none" stroke="#cbc6bf" stroke-width="3.9" stroke-linecap="round" stroke-linejoin="round"/><path d="M1315.4,352.3 C1313.0,354.8 1306.0,362.1 1300.8,367 C1295.6,371.9 1288.5,376.0 1284,381.6 C1279.5,387.2 1275.7,393.8 1273.6,400.4 C1271.5,407.0 1271.8,417.8 1271.5,421.3" fill="none" stroke="#cbc6bf" stroke-width="3.9" stroke-linecap="round" stroke-linejoin="round"/><path d="M1271.5,421.3 C1273.6,420.2 1279.5,418.1 1284,415 C1288.5,411.9 1294.5,404.6 1298.7,402.5 C1302.9,400.4 1304.0,401.4 1309.2,402.5 C1314.4,403.6 1326.5,407.8 1330,408.8" fill="none" stroke="#cbc6bf" stroke-width="3.9" stroke-linecap="round" stroke-linejoin="round"/><path d="M1183.7,333.5 C1188.9,333.1 1205.2,331.8 1215,331.4 C1224.8,331.0 1237.7,331.4 1242.2,331.4" fill="none" stroke="#cbc6bf" stroke-width="3.9" stroke-linecap="round" stroke-linejoin="round"/><path d="M1282,459 C1286.5,460.0 1297.5,465.2 1309,465.2 C1320.5,465.2 1344.0,460.0 1351,459" fill="none" stroke="#cbc6bf" stroke-width="3.9" stroke-linecap="round" stroke-linejoin="round"/><path d="M1250.6,507 C1253.4,503.2 1262.1,492.0 1267.3,484 C1272.5,476.0 1279.5,463.2 1282,459" fill="none" stroke="#cbc6bf" stroke-width="3.9" stroke-linecap="round" stroke-linejoin="round"/><path d="M929,160 C929.0,166.7 928.8,186.7 929,200 C929.2,213.3 929.8,228.5 930,240 C930.2,251.5 930.0,264.2 930,269" fill="none" stroke="#cbc6bf" stroke-width="3.9" stroke-linecap="round" stroke-linejoin="round"/><path d="M913,180 C913.0,186.7 912.8,206.3 913,220 C913.2,233.7 913.8,255.0 914,262" fill="none" stroke="#cbc6bf" stroke-width="3.9" stroke-linecap="round" stroke-linejoin="round"/><path d="M942,165 C943.2,170.3 946.8,185.3 949,197 C951.2,208.7 953.5,226.2 955,235 C956.5,243.8 957.5,247.5 958,250" fill="none" stroke="#cbc6bf" stroke-width="3.9" stroke-linecap="round" stroke-linejoin="round"/><path d="M932,193 C934.3,196.8 943.3,209.0 946,216 C948.7,223.0 947.7,231.8 948,235" fill="none" stroke="#cbc6bf" stroke-width="3.9" stroke-linecap="round" stroke-linejoin="round"/><path d="M882,212 C887.2,212.0 905.2,211.7 913,212 C920.8,212.3 926.3,213.7 929,214" fill="none" stroke="#cbc6bf" stroke-width="3.9" stroke-linecap="round" stroke-linejoin="round"/><path d="M882,222 L905,218" fill="none" stroke="#cbc6bf" stroke-width="3.9" stroke-linecap="round" stroke-linejoin="round"/><path d="M913,235 L929,235" fill="none" stroke="#cbc6bf" stroke-width="3.9" stroke-linecap="round" stroke-linejoin="round"/><path d="M885,270 C889.7,269.7 905.5,268.2 913,268 C920.5,267.8 924.7,267.7 930,269 C935.3,270.3 940.0,272.5 945,276 C950.0,279.5 957.5,287.7 960,290" fill="none" stroke="#cbc6bf" stroke-width="3.9" stroke-linecap="round" stroke-linejoin="round"/><path d="M960,215 C962.5,217.8 970.0,226.8 975,232 C980.0,237.2 986.7,242.7 990,246 C993.3,249.3 994.2,251.0 995,252" fill="none" stroke="#cbc6bf" stroke-width="3.9" stroke-linecap="round" stroke-linejoin="round"/><path d="M1004,144 C1003.8,148.3 1003.0,160.7 1003,170 C1003.0,179.3 1002.2,194.3 1004,200 C1005.8,205.7 1009.8,203.5 1014,204 C1018.2,204.5 1025.2,202.3 1029,203 C1032.8,203.7 1035.2,202.7 1036.5,208 C1037.8,213.3 1035.9,227.0 1036.5,234.6 C1037.1,242.2 1039.4,250.3 1040,253.5" fill="none" stroke="#cbc6bf" stroke-width="3.9" stroke-linecap="round" stroke-linejoin="round"/><path d="M1046,145 C1047.0,147.0 1049.8,152.8 1052,157 C1054.2,161.2 1056.0,166.3 1059,170 C1062.0,173.7 1067.5,176.8 1070,179 C1072.5,181.2 1074.7,180.3 1074,183 C1073.3,185.7 1069.3,191.0 1066,195 C1062.7,199.0 1057.7,203.5 1054,207 C1050.3,210.5 1046.3,213.3 1044,216 C1041.7,218.7 1040.7,221.8 1040,223" fill="none" stroke="#cbc6bf" stroke-width="3.9" stroke-linecap="round" stroke-linejoin="round"/><path d="M1074,183 C1076.3,183.1 1082.5,182.8 1088,183.5 C1093.5,184.2 1103.0,186.1 1107,187.3 C1111.0,188.6 1111.2,190.4 1112,191" fill="none" stroke="#cbc6bf" stroke-width="3.9" stroke-linecap="round" stroke-linejoin="round"/><path d="M1080,144 C1080.3,146.3 1082.7,153.3 1082,158 C1081.3,162.7 1077.3,167.8 1076,172 C1074.7,176.2 1074.3,181.2 1074,183" fill="none" stroke="#cbc6bf" stroke-width="3.9" stroke-linecap="round" stroke-linejoin="round"/><path d="M1012,214 C1015.0,213.3 1025.3,209.7 1030,210 C1034.7,210.3 1038.3,215.0 1040,216" fill="none" stroke="#cbc6bf" stroke-width="3.9" stroke-linecap="round" stroke-linejoin="round"/><path d="M1018,226 L1034,222" fill="none" stroke="#cbc6bf" stroke-width="3.9" stroke-linecap="round" stroke-linejoin="round"/><path d="M1036,240 C1036.8,242.5 1040.7,250.3 1041,255 C1041.3,259.7 1038.5,265.8 1038,268" fill="none" stroke="#cbc6bf" stroke-width="3.9" stroke-linecap="round" stroke-linejoin="round"/><path d="M205,257 L227,274" fill="none" stroke="#cbc6bf" stroke-width="3.9" stroke-linecap="round" stroke-linejoin="round"/><path d="M202,146 C203.0,146.7 206.0,148.3 208,150 C210.0,151.7 213.0,155.0 214,156" fill="none" stroke="#cbc6bf" stroke-width="3.9" stroke-linecap="round" stroke-linejoin="round"/><path d="M266,240 C265.8,242.2 265.8,249.7 265,253 C264.2,256.3 261.7,258.8 261,260" fill="none" stroke="#cbc6bf" stroke-width="3.9" stroke-linecap="round" stroke-linejoin="round"/><path d="M266,251 C268.5,251.8 277.7,254.0 281,256 C284.3,258.0 285.2,261.8 286,263" fill="none" stroke="#cbc6bf" stroke-width="3.9" stroke-linecap="round" stroke-linejoin="round"/><path d="M284,240 L284,260" fill="none" stroke="#cbc6bf" stroke-width="3.9" stroke-linecap="round" stroke-linejoin="round"/><path d="M299,261 C299.2,263.5 300.7,272.0 300,276 C299.3,280.0 297.3,283.8 295,285 C292.7,286.2 287.5,283.3 286,283" fill="none" stroke="#cbc6bf" stroke-width="3.9" stroke-linecap="round" stroke-linejoin="round"/><path d="M277,285 C277.3,288.0 278.3,297.3 279,303 C279.7,308.7 280.7,316.3 281,319" fill="none" stroke="#cbc6bf" stroke-width="3.9" stroke-linecap="round" stroke-linejoin="round"/><path d="M281,308 L297,313.5" fill="none" stroke="#cbc6bf" stroke-width="3.9" stroke-linecap="round" stroke-linejoin="round"/><path d="M311,310 C312.2,312.3 317.0,318.3 318,324 C319.0,329.7 318.2,338.5 317,344 C315.8,349.5 314.3,354.3 311,357 C307.7,359.7 301.2,360.3 297,360 C292.8,359.7 287.8,355.8 286,355" fill="none" stroke="#cbc6bf" stroke-width="3.9" stroke-linecap="round" stroke-linejoin="round"/><path d="M297,362 L277,400" fill="none" stroke="#cbc6bf" stroke-width="3.9" stroke-linecap="round" stroke-linejoin="round"/><path d="M253,301 L253,330" fill="none" stroke="#cbc6bf" stroke-width="3.9" stroke-linecap="round" stroke-linejoin="round"/><path d="M349,364 C349.0,369.3 355.3,390.7 349,396 C342.7,401.3 317.3,396.0 311,396" fill="none" stroke="#cbc6bf" stroke-width="3.9" stroke-linecap="round" stroke-linejoin="round"/><path d="M202,391 C205.5,391.5 217.3,394.7 223,394 C228.7,393.3 233.8,388.2 236,387" fill="none" stroke="#cbc6bf" stroke-width="3.9" stroke-linecap="round" stroke-linejoin="round"/><path d="M416,311 C414.0,312.2 406.5,314.7 404,318 C401.5,321.3 401.0,327.3 401,331 C401.0,334.7 401.8,336.5 404,340 C406.2,343.5 410.0,349.7 414,352 C418.0,354.3 423.7,354.5 428,354 C432.3,353.5 436.7,348.7 440,349 C443.3,349.3 445.3,354.0 448,356 C450.7,358.0 453.5,358.3 456,361 C458.5,363.7 461.0,368.3 463,372 C465.0,375.7 466.5,379.2 468,383 C469.5,386.8 469.8,390.8 472,394.5 C474.2,398.2 479.5,402.3 481,405.3 C482.5,408.3 483.7,411.0 481,412.5 C478.3,414.0 469.0,415.4 464.8,414.2 C460.6,413.0 457.9,408.6 455.8,405.3 C453.7,402.0 455.3,396.6 452.3,394.5 C449.3,392.4 442.5,392.1 438,392.7 C433.5,393.3 429.2,397.4 425.4,398 C421.6,398.6 418.4,397.7 415,396 C411.6,394.3 407.3,390.2 405,388 C402.7,385.8 401.7,383.8 401,383" fill="none" stroke="#cbc6bf" stroke-width="6.0" stroke-linecap="round" stroke-linejoin="round"/><path d="M466,366 C468.5,368.7 472.2,383.5 481,382 C489.8,380.5 512.7,361.2 519,357" fill="none" stroke="#cbc6bf" stroke-width="3.9" stroke-linecap="round" stroke-linejoin="round"/><path d="M474,364 C476.2,364.8 480.0,371.3 487,369 C494.0,366.7 509.3,353.8 516,350 C522.7,346.2 525.2,346.7 527,346" fill="none" stroke="#cbc6bf" stroke-width="3.9" stroke-linecap="round" stroke-linejoin="round"/><path d="M508,330 L508.7,353" fill="none" stroke="#cbc6bf" stroke-width="3.9" stroke-linecap="round" stroke-linejoin="round"/><path d="M481,403.5 C483.7,403.2 492.2,403.8 497,401.7 C501.8,399.6 506.0,393.1 509.6,391 C513.2,388.9 512.6,388.3 518.6,389.2 C524.6,390.1 541.0,395.1 545.5,396.3" fill="none" stroke="#cbc6bf" stroke-width="3.9" stroke-linecap="round" stroke-linejoin="round"/><path d="M522,389.2 L543.7,364" fill="none" stroke="#cbc6bf" stroke-width="3.9" stroke-linecap="round" stroke-linejoin="round"/><path d="M534.7,394.5 L534.7,403.5" fill="none" stroke="#cbc6bf" stroke-width="3.9" stroke-linecap="round" stroke-linejoin="round"/><path d="M541.9,330 C544.3,332.1 552.9,340.1 556.2,342.5 C559.5,344.9 560.7,344.0 561.6,344.3" fill="none" stroke="#cbc6bf" stroke-width="3.9" stroke-linecap="round" stroke-linejoin="round"/><path d="M577.7,344.3 C578.9,343.1 580.5,338.7 585,337.2 C589.5,335.7 601.3,335.7 604.6,335.4" fill="none" stroke="#cbc6bf" stroke-width="3.9" stroke-linecap="round" stroke-linejoin="round"/><path d="M484.5,435.8 C486.6,436.1 494.9,426.5 497,437.5 C499.1,448.5 497.0,491.2 497,502" fill="none" stroke="#cbc6bf" stroke-width="3.9" stroke-linecap="round" stroke-linejoin="round"/><path d="M452.3,477 L497,477" fill="none" stroke="#cbc6bf" stroke-width="3.9" stroke-linecap="round" stroke-linejoin="round"/><path d="M488,455.5 L488,477" fill="none" stroke="#cbc6bf" stroke-width="3.9" stroke-linecap="round" stroke-linejoin="round"/><path d="M470,462.6 L470,477" fill="none" stroke="#cbc6bf" stroke-width="3.9" stroke-linecap="round" stroke-linejoin="round"/><path d="M479,477 C480.2,480.6 481.8,494.3 486.3,498.5 C490.8,502.7 499.1,502.9 506,502 C512.9,501.1 515.0,493.9 527.5,493 C540.0,492.1 572.3,496.1 581.3,496.7" fill="none" stroke="#cbc6bf" stroke-width="3.9" stroke-linecap="round" stroke-linejoin="round"/><path d="M420,468 L446.9,469.8" fill="none" stroke="#cbc6bf" stroke-width="3.9" stroke-linecap="round" stroke-linejoin="round"/><path d="M439.7,437.5 L448.7,437.5" fill="none" stroke="#cbc6bf" stroke-width="3.9" stroke-linecap="round" stroke-linejoin="round"/><path d="M439.7,437.5 L439.7,453.7" fill="none" stroke="#cbc6bf" stroke-width="3.9" stroke-linecap="round" stroke-linejoin="round"/><path d="M443.3,453.7 C446.6,453.4 458.8,451.0 463,451.9 C467.2,452.8 467.5,457.8 468.4,459" fill="none" stroke="#cbc6bf" stroke-width="3.9" stroke-linecap="round" stroke-linejoin="round"/><path d="M624.3,498.5 C627.6,498.8 638.0,500.3 644,500.3 C650.0,500.3 657.3,498.8 660,498.5" fill="none" stroke="#cbc6bf" stroke-width="3.9" stroke-linecap="round" stroke-linejoin="round"/><path d="M427,419.6 C426.4,421.4 424.8,426.8 423.6,430.4 C422.4,434.0 420.6,439.2 420,441" fill="none" stroke="#cbc6bf" stroke-width="3.9" stroke-linecap="round" stroke-linejoin="round"/><path d="M430.8,398.1 C432.6,399.9 438.8,405.3 441.5,408.9 C444.2,412.5 446.0,417.8 446.9,419.6" fill="none" stroke="#cbc6bf" stroke-width="3.9" stroke-linecap="round" stroke-linejoin="round"/><path d="M405,382 L438,385.6" fill="none" stroke="#cbc6bf" stroke-width="3.9" stroke-linecap="round" stroke-linejoin="round"/><path d="M1123.5,302.6 C1127.4,302.2 1143.4,298.7 1146.9,300.5 C1150.4,302.3 1146.5,309.7 1144.7,313.2 C1142.9,316.7 1137.6,318.9 1136.2,321.7 C1134.8,324.5 1136.2,328.8 1136.2,330.2" fill="none" stroke="#cbc6bf" stroke-width="3.9" stroke-linecap="round" stroke-linejoin="round"/><path d="M1115,317.5 L1119.2,334.5" fill="none" stroke="#cbc6bf" stroke-width="3.9" stroke-linecap="round" stroke-linejoin="round"/><path d="M1087.4,300.5 L1089.5,311.1" fill="none" stroke="#cbc6bf" stroke-width="3.9" stroke-linecap="round" stroke-linejoin="round"/><path d="M273,144 C272.7,147.8 270.8,161.1 271,167 C271.2,172.9 271.7,176.0 274.5,179.5 C277.3,183.0 282.1,184.4 288,188 C293.9,191.6 302.8,197.0 310,201 C317.2,205.0 323.8,208.3 331,212 C338.2,215.7 347.8,220.7 353,223 C358.2,225.3 360.5,225.5 362,226" fill="none" stroke="#ffffff" stroke-width="4.6" stroke-linecap="round" stroke-linejoin="round"/><path d="M277,156 C278.8,155.3 284.3,153.2 288,152 C291.7,150.8 297.2,149.5 299,149" fill="none" stroke="#ffffff" stroke-width="2.6" stroke-linecap="round" stroke-linejoin="round"/><path d="M274.5,168.5 C276.8,167.6 283.9,164.2 288,163 C292.1,161.8 296.3,160.7 299,161 C301.7,161.3 300.5,162.3 304,165 C307.5,167.7 317.3,175.0 320,177" fill="none" stroke="#ffffff" stroke-width="2.6" stroke-linecap="round" stroke-linejoin="round"/><path d="M277,178 C279.7,177.0 288.5,174.0 293,172 C297.5,170.0 302.2,167.0 304,166" fill="none" stroke="#ffffff" stroke-width="2.6" stroke-linecap="round" stroke-linejoin="round"/><path d="M291,186 L304,178" fill="none" stroke="#ffffff" stroke-width="2.6" stroke-linecap="round" stroke-linejoin="round"/><path d="M245,170 C247.5,170.3 256.5,170.7 260,172 C263.5,173.3 265.8,175.5 266,178 C266.2,180.5 261.3,184.8 261,187 C260.7,189.2 263.5,190.3 264,191" fill="none" stroke="#ffffff" stroke-width="2.6" stroke-linecap="round" stroke-linejoin="round"/><path d="M271,180 L261,188" fill="none" stroke="#ffffff" stroke-width="2.6" stroke-linecap="round" stroke-linejoin="round"/><path d="M202,190 C203.5,189.7 209.2,187.2 211,188 C212.8,188.8 212.7,193.8 213,195" fill="none" stroke="#ffffff" stroke-width="2.6" stroke-linecap="round" stroke-linejoin="round"/><path d="M245,204 C247.5,205.2 254.7,208.5 260,211 C265.3,213.5 272.7,216.2 277,219 C281.3,221.8 284.2,224.7 286,228 C287.8,231.3 287.7,235.3 288,239 C288.3,242.7 287.7,246.2 288,250 C288.3,253.8 289.7,260.0 290,262" fill="none" stroke="#ffffff" stroke-width="2.6" stroke-linecap="round" stroke-linejoin="round"/><path d="M321,191 C323.7,191.8 333.0,193.5 337,196 C341.0,198.5 342.3,203.7 345,206 C347.7,208.3 351.7,209.3 353,210" fill="none" stroke="#ffffff" stroke-width="2.6" stroke-linecap="round" stroke-linejoin="round"/><path d="M329,162 C330.3,163.8 334.7,169.0 337,173 C339.3,177.0 341.0,182.3 343,186 C345.0,189.7 346.2,192.8 349,195 C351.8,197.2 358.2,198.3 360,199" fill="none" stroke="#ffffff" stroke-width="2.6" stroke-linecap="round" stroke-linejoin="round"/><path d="M374,190 C372.0,193.0 366.5,201.8 362,208 C357.5,214.2 352.2,221.3 347,227 C341.8,232.7 337.0,237.2 331,242 C325.0,246.8 317.3,252.8 311,256 C304.7,259.2 296.8,260.0 293,261.5 C289.2,263.0 289.5,262.6 288,265 C286.5,267.4 286.2,273.2 284,276 C281.8,278.8 278.5,281.6 275,282 C271.5,282.4 266.5,278.6 263,278.6 C259.5,278.6 258.5,282.4 254,282 C249.5,281.6 241.2,277.0 236,276 C230.8,275.0 227.0,275.2 223,276 C219.0,276.8 215.5,279.8 212,281 C208.5,282.2 203.7,282.7 202,283" fill="none" stroke="#ffffff" stroke-width="4.6" stroke-linecap="round" stroke-linejoin="round"/><path d="M206,283 C208.2,285.0 214.5,288.0 219,295 C223.5,302.0 227.8,318.2 233,325 C238.2,331.8 245.8,332.7 250,336 C254.2,339.3 256.7,340.2 258,345 C259.3,349.8 258.0,361.7 258,365" fill="none" stroke="#ffffff" stroke-width="4.6" stroke-linecap="round" stroke-linejoin="round"/><path d="M374,190 C377.2,191.0 385.0,194.7 393,196 C401.0,197.3 416.2,199.7 422,198 C427.8,196.3 425.3,189.2 428,186 C430.7,182.8 432.5,180.8 438,179 C443.5,177.2 452.3,175.7 461,175 C469.7,174.3 483.5,174.5 490,175 C496.5,175.5 495.7,175.7 500,178 C504.3,180.3 511.5,185.0 516,189 C520.5,193.0 524.1,198.2 527,202 C529.9,205.8 532.2,208.8 533.5,211.5 C534.8,214.2 534.8,216.9 535,218" fill="none" stroke="#ffffff" stroke-width="4.6" stroke-linecap="round" stroke-linejoin="round"/><path d="M534,221 C534.2,220.5 532.7,220.7 535,218 C537.3,215.3 544.3,208.5 548,205 C551.7,201.5 553.8,197.2 557,197 C560.2,196.8 564.0,203.0 567,203.5 C570.0,204.0 573.9,202.9 575,200 C576.1,197.1 572.6,189.9 573.4,186 C574.2,182.1 576.8,178.3 580,176.4 C583.2,174.5 588.8,173.7 592.5,174.8 C596.2,175.9 599.4,180.7 602,182.8 C604.6,184.9 604.3,186.3 608,187.5 C611.7,188.7 618.7,189.6 624,190 C629.3,190.4 637.3,190.0 640,190" fill="none" stroke="#ffffff" stroke-width="4.6" stroke-linecap="round" stroke-linejoin="round"/><path d="M445,304 C447.2,302.0 453.5,296.3 458,292 C462.5,287.7 467.3,283.0 472,278 C476.7,273.0 481.3,267.7 486,262 C490.7,256.3 495.0,248.7 500,244 C505.0,239.3 511.2,236.8 516,234 C520.8,231.2 525.8,229.7 529,227 C532.2,224.3 534.0,219.5 535,218" fill="none" stroke="#ffffff" stroke-width="4.6" stroke-linecap="round" stroke-linejoin="round"/><path d="M556,226 C555.5,231.5 554.7,250.3 553,259 C551.3,267.7 547.3,272.2 546,278 C544.7,283.8 543.8,289.4 545,294 C546.2,298.6 550.7,301.7 553,305.5 C555.3,309.3 558.3,312.9 559,317 C559.7,321.1 557.3,327.8 557,330" fill="none" stroke="#ffffff" stroke-width="2.6" stroke-linecap="round" stroke-linejoin="round"/><path d="M575,203.5 C576.3,205.6 580.1,211.5 583,216 C585.9,220.5 590.7,226.8 592.5,230.6 C594.3,234.4 594.6,235.4 594,238.6 C593.4,241.8 590.2,245.4 589,250 C587.8,254.6 587.3,258.1 587,266 C586.7,273.9 586.7,291.6 587,297.6 C587.3,303.6 587.0,300.1 589,302 C591.0,303.9 597.3,307.8 599,309" fill="none" stroke="#ffffff" stroke-width="2.6" stroke-linecap="round" stroke-linejoin="round"/><path d="M587,240 L602,242" fill="none" stroke="#ffffff" stroke-width="2.6" stroke-linecap="round" stroke-linejoin="round"/><path d="M587,270 L564,270.5" fill="none" stroke="#ffffff" stroke-width="2.6" stroke-linecap="round" stroke-linejoin="round"/><path d="M587,277 L607,277.6" fill="none" stroke="#ffffff" stroke-width="2.6" stroke-linecap="round" stroke-linejoin="round"/><path d="M587,293 L567,293" fill="none" stroke="#ffffff" stroke-width="2.6" stroke-linecap="round" stroke-linejoin="round"/><path d="M553,305.5 L599,313.5" fill="none" stroke="#ffffff" stroke-width="2.6" stroke-linecap="round" stroke-linejoin="round"/><path d="M613,266 L613,305.5" fill="none" stroke="#ffffff" stroke-width="2.6" stroke-linecap="round" stroke-linejoin="round"/><path d="M613,266 L631,266" fill="none" stroke="#ffffff" stroke-width="2.6" stroke-linecap="round" stroke-linejoin="round"/><path d="M492,176 C491.7,180.0 490.7,191.8 490,200 C489.3,208.2 488.7,217.5 488,225 C487.3,232.5 486.3,241.7 486,245" fill="none" stroke="#ffffff" stroke-width="2.6" stroke-linecap="round" stroke-linejoin="round"/><path d="M395,290 C399.2,289.5 410.8,288.2 420,287 C429.2,285.8 445.0,283.7 450,283" fill="none" stroke="#ffffff" stroke-width="2.6" stroke-linecap="round" stroke-linejoin="round"/><path d="M202,256 C206.7,253.3 220.0,243.3 230,240 C240.0,236.7 256.7,236.7 262,236" fill="none" stroke="#ffffff" stroke-width="2.6" stroke-linecap="round" stroke-linejoin="round"/><path d="M400,383 C400.2,387.0 399.5,399.5 401,407 C402.5,414.5 404.5,421.5 409,428 C413.5,434.5 422.0,440.8 428,446 C434.0,451.2 441.5,454.3 445,459 C448.5,463.7 448.0,466.0 449,474 C450.0,482.0 450.7,501.5 451,507" fill="none" stroke="#ffffff" stroke-width="4.6" stroke-linecap="round" stroke-linejoin="round"/><path d="M205,430 L232,447" fill="none" stroke="#ffffff" stroke-width="2.6" stroke-linecap="round" stroke-linejoin="round"/><path d="M380,327 C378.7,332.5 372.7,350.8 372,360 C371.3,369.2 375.3,378.3 376,382" fill="none" stroke="#ffffff" stroke-width="2.6" stroke-linecap="round" stroke-linejoin="round"/><path d="M596,434 C594.7,430.5 589.7,420.8 588,413 C586.3,405.2 584.7,393.8 586,387 C587.3,380.2 591.3,375.0 596,372 C600.7,369.0 609.3,367.3 614,369 C618.7,370.7 618.8,380.2 624,382 C629.2,383.8 641.5,380.3 645,380" fill="none" stroke="#ffffff" stroke-width="2.6" stroke-linecap="round" stroke-linejoin="round"/><path d="M560,330 C560.8,332.5 561.7,340.8 565,345 C568.3,349.2 577.5,353.3 580,355" fill="none" stroke="#ffffff" stroke-width="2.6" stroke-linecap="round" stroke-linejoin="round"/><path d="M620,330 C621.7,332.5 628.7,340.3 630,345 C631.3,349.7 628.3,355.8 628,358" fill="none" stroke="#ffffff" stroke-width="2.6" stroke-linecap="round" stroke-linejoin="round"/><path d="M202,472 C206.7,471.7 220.3,471.0 230,470 C239.7,469.0 255.0,466.7 260,466" fill="none" stroke="#ffffff" stroke-width="2.6" stroke-linecap="round" stroke-linejoin="round"/><path d="M738,315 C736.2,318.5 729.7,328.2 727,336 C724.3,343.8 722.0,354.3 722,362 C722.0,369.7 727.3,374.3 727,382 C726.7,389.7 718.2,402.0 720,408 C721.8,414.0 731.7,415.0 738,418 C744.3,421.0 752.0,421.7 758,426 C764.0,430.3 769.2,438.5 774,444 C778.8,449.5 783.7,451.3 787,459 C790.3,466.7 791.5,482.0 794,490 C796.5,498.0 800.7,504.2 802,507" fill="none" stroke="#ffffff" stroke-width="4.6" stroke-linecap="round" stroke-linejoin="round"/><path d="M787,310 C787.0,316.2 786.0,335.3 787,347 C788.0,358.7 787.8,371.3 793,380 C798.2,388.7 809.7,393.2 818,399 C826.3,404.8 834.8,410.7 843,415 C851.2,419.3 860.8,421.2 867,425 C873.2,428.8 879.3,433.8 880,438 C880.7,442.2 875.2,446.7 871,450 C866.8,453.3 859.0,453.8 855,458 C851.0,462.2 848.0,469.5 847,475 C846.0,480.5 846.3,486.2 849,491 C851.7,495.8 860.2,501.3 863,504 C865.8,506.7 865.5,506.5 866,507" fill="none" stroke="#ffffff" stroke-width="4.6" stroke-linecap="round" stroke-linejoin="round"/><path d="M880,438 C887.5,438.7 916.2,443.3 925,442 C933.8,440.7 928.8,433.5 933,430 C937.2,426.5 947.2,422.5 950,421" fill="none" stroke="#ffffff" stroke-width="2.6" stroke-linecap="round" stroke-linejoin="round"/><path d="M690,470 C692.5,470.0 700.8,468.3 705,470 C709.2,471.7 705.8,475.0 715,480 C724.2,485.0 750.8,495.5 760,500 C769.2,504.5 768.3,505.8 770,507" fill="none" stroke="#ffffff" stroke-width="2.6" stroke-linecap="round" stroke-linejoin="round"/><path d="M600,480 C606.7,481.0 629.2,483.5 640,486 C650.8,488.5 658.3,491.5 665,495 C671.7,498.5 677.5,505.0 680,507" fill="none" stroke="#ffffff" stroke-width="2.6" stroke-linecap="round" stroke-linejoin="round"/><path d="M820,470 C823.3,471.7 835.0,475.0 840,480 C845.0,485.0 848.7,495.5 850,500 C851.3,504.5 848.3,505.8 848,507" fill="none" stroke="#ffffff" stroke-width="2.6" stroke-linecap="round" stroke-linejoin="round"/><path d="M771,341 C771.8,341.5 773.4,343.3 776,344 C778.6,344.7 782.1,344.3 786.4,345 C790.7,345.7 795.0,347.7 801.9,348 C808.8,348.3 821.1,347.3 827.6,347 C834.1,346.7 837.6,345.5 841,346 C844.4,346.5 842.7,346.8 848.2,350.2 C853.7,353.6 869.7,362.4 874,366.7 C878.3,371.0 874.3,373.4 874,376 C873.7,378.6 870.3,381.2 872,382.2 C873.7,383.2 879.6,382.9 884.3,382.2 C889.0,381.5 897.4,378.7 900,378" fill="none" stroke="#ffffff" stroke-width="2.6" stroke-linecap="round" stroke-linejoin="round"/><path d="M771,341 C771.5,342.7 774.2,347.6 774,351 C773.8,354.4 772.2,357.7 770,361.5 C767.8,365.3 763.0,370.6 760.6,374 C758.2,377.4 756.0,377.9 755.5,382.2 C755.0,386.5 757.2,397.0 757.5,400" fill="none" stroke="#ffffff" stroke-width="2.6" stroke-linecap="round" stroke-linejoin="round"/><path d="M814.2,337.8 L827.6,346" fill="none" stroke="#ffffff" stroke-width="2.6" stroke-linecap="round" stroke-linejoin="round"/><path d="M832.8,316.2 C834.5,317.4 839.6,321.0 843,323.4 C846.4,325.8 850.3,328.2 853.4,330.6 C856.5,333.0 859.2,336.2 861.6,337.8 C864.0,339.4 866.8,339.6 867.8,340" fill="none" stroke="#ffffff" stroke-width="2.6" stroke-linecap="round" stroke-linejoin="round"/><path d="M805,350.2 L801.9,366.7" fill="none" stroke="#ffffff" stroke-width="2.6" stroke-linecap="round" stroke-linejoin="round"/><path d="M867.8,343 L867.8,361.5" fill="none" stroke="#ffffff" stroke-width="2.6" stroke-linecap="round" stroke-linejoin="round"/><path d="M815.3,371.9 C820.2,371.9 835.5,371.6 845,372 C854.5,372.4 867.5,373.7 872,374" fill="none" stroke="#ffffff" stroke-width="2.6" stroke-linecap="round" stroke-linejoin="round"/><path d="M860,460 C863.3,461.7 870.0,467.5 880,470 C890.0,472.5 909.2,475.0 920,475 C930.8,475.0 940.8,470.8 945,470" fill="none" stroke="#ffffff" stroke-width="2.6" stroke-linecap="round" stroke-linejoin="round"/><path d="M890,440 C895.0,438.3 910.3,432.5 920,430 C929.7,427.5 941.3,426.7 948,425 C954.7,423.3 958.0,420.8 960,420" fill="none" stroke="#ffffff" stroke-width="2.6" stroke-linecap="round" stroke-linejoin="round"/><path d="M760,270 C761.7,275.0 765.0,293.3 770,300 C775.0,306.7 786.7,308.3 790,310" fill="none" stroke="#ffffff" stroke-width="2.6" stroke-linecap="round" stroke-linejoin="round"/><path d="M1216,261 C1217.7,261.8 1221.0,264.2 1226,266 C1231.0,267.8 1239.5,271.3 1246,272 C1252.5,272.7 1260.5,271.3 1265,270 C1269.5,268.7 1271.7,265.0 1273,264" fill="none" stroke="#ffffff" stroke-width="4.6" stroke-linecap="round" stroke-linejoin="round"/><path d="M1122.4,144 C1121.7,147.4 1122.1,159.2 1118.3,164.7 C1114.5,170.2 1102.9,174.9 1099.8,177" fill="none" stroke="#ffffff" stroke-width="2.6" stroke-linecap="round" stroke-linejoin="round"/><path d="M1209,150 C1209.8,152.7 1212.0,162.2 1214,166 C1216.0,169.8 1217.7,169.8 1221.3,173 C1224.9,176.2 1232.0,181.5 1235.8,185.3 C1239.6,189.1 1242.3,191.5 1244,195.6 C1245.7,199.7 1243.6,206.2 1246,210 C1248.4,213.8 1253.2,215.2 1258.4,218.3 C1263.6,221.4 1270.5,227.2 1277,228.6 C1283.5,230.0 1290.0,226.5 1297.6,226.5 C1305.1,226.5 1320.6,227.2 1322.3,228.6 C1324.0,230.0 1313.8,231.4 1308,234.8 C1302.2,238.2 1293.2,244.4 1287.3,249.2 C1281.4,254.0 1276.9,260.2 1272.8,263.6 C1268.7,267.0 1264.2,268.8 1262.5,269.8" fill="none" stroke="#ffffff" stroke-width="2.6" stroke-linecap="round" stroke-linejoin="round"/><path d="M1246,212 C1242.6,212.4 1228.9,212.5 1225.5,214.2 C1222.1,215.9 1225.5,221.0 1225.5,222.4" fill="none" stroke="#ffffff" stroke-width="2.6" stroke-linecap="round" stroke-linejoin="round"/><path d="M1254.3,218.3 C1254.3,222.4 1257.0,238.9 1254.3,243 C1251.5,247.1 1240.5,243.0 1237.8,243" fill="none" stroke="#ffffff" stroke-width="2.6" stroke-linecap="round" stroke-linejoin="round"/><path d="M1258,218 L1312,218.3" fill="none" stroke="#ffffff" stroke-width="2.6" stroke-linecap="round" stroke-linejoin="round"/><path d="M1204.8,181.2 L1204.8,206" fill="none" stroke="#ffffff" stroke-width="2.6" stroke-linecap="round" stroke-linejoin="round"/><path d="M1204.8,181.2 L1225.5,179" fill="none" stroke="#ffffff" stroke-width="2.6" stroke-linecap="round" stroke-linejoin="round"/><path d="M1063,274 C1067.5,274.0 1080.8,272.2 1090,274 C1099.2,275.8 1105.5,283.0 1118,285 C1130.5,287.0 1157.2,285.8 1165,286" fill="none" stroke="#ffffff" stroke-width="2.6" stroke-linecap="round" stroke-linejoin="round"/><path d="M1063,287 C1066.7,287.2 1079.8,286.2 1085,288 C1090.2,289.8 1090.8,293.7 1094,298 C1097.2,302.3 1099.2,310.8 1104,314 C1108.8,317.2 1118.7,316.0 1123,317 C1127.3,318.0 1128.8,319.5 1130,320" fill="none" stroke="#ffffff" stroke-width="2.6" stroke-linecap="round" stroke-linejoin="round"/><path d="M1045,301 C1049.2,301.2 1062.0,302.3 1070,302 C1078.0,301.7 1089.2,299.5 1093,299" fill="none" stroke="#ffffff" stroke-width="2.6" stroke-linecap="round" stroke-linejoin="round"/><path d="M1104,314 C1101.3,315.2 1093.0,319.0 1088,321 C1083.0,323.0 1077.5,325.3 1074,326 C1070.5,326.7 1068.2,325.2 1067,325" fill="none" stroke="#ffffff" stroke-width="2.6" stroke-linecap="round" stroke-linejoin="round"/><path d="M1165,286 C1164.8,289.8 1166.5,303.7 1164,309 C1161.5,314.3 1155.0,313.3 1150,318 C1145.0,322.7 1137.7,333.5 1134,337 C1130.3,340.5 1129.5,340.0 1128,339 C1126.5,338.0 1125.3,334.3 1125,331 C1124.7,327.7 1125.8,321.0 1126,319" fill="none" stroke="#ffffff" stroke-width="4.6" stroke-linecap="round" stroke-linejoin="round"/><path d="M1164,309 L1188,308" fill="none" stroke="#ffffff" stroke-width="2.6" stroke-linecap="round" stroke-linejoin="round"/><path d="M1128,378 C1129.5,376.2 1131.7,369.7 1137,367 C1142.3,364.3 1147.7,362.9 1160,362 C1172.3,361.1 1196.6,361.6 1211,361.7 C1225.4,361.8 1238.7,363.2 1246.4,362.7 C1254.1,362.2 1251.7,360.0 1257,358.6 C1262.3,357.2 1271.0,356.3 1278,354.4 C1285.0,352.5 1292.1,348.1 1298.7,347 C1305.3,345.9 1308.5,347.5 1317.5,348 C1326.5,348.5 1347.1,349.8 1353,350.2" fill="none" stroke="#ffffff" stroke-width="4.6" stroke-linecap="round" stroke-linejoin="round"/><path d="M1317.5,348 C1318.9,344.9 1322.9,334.5 1326,329.3 C1329.1,324.1 1331.8,320.2 1336.3,316.7 C1340.8,313.2 1350.2,309.8 1353,308.4" fill="none" stroke="#ffffff" stroke-width="2.6" stroke-linecap="round" stroke-linejoin="round"/><path d="M1246.4,364.8 C1245.0,367.2 1242.2,376.4 1238,379.5 C1233.8,382.6 1225.8,381.3 1221.3,383.7 C1216.8,386.1 1212.7,388.8 1211,394 C1209.3,399.2 1209.6,409.8 1211,415 C1212.4,420.2 1215.7,423.1 1219.2,425.5 C1222.7,427.9 1229.7,429.0 1231.8,429.7" fill="none" stroke="#ffffff" stroke-width="2.6" stroke-linecap="round" stroke-linejoin="round"/><path d="M1223.4,383.7 C1223.4,386.1 1222.4,394.8 1223.4,398.3 C1224.5,401.8 1228.7,403.6 1229.7,404.6" fill="none" stroke="#ffffff" stroke-width="2.6" stroke-linecap="round" stroke-linejoin="round"/><path d="M1263,358.6 C1263.4,362.1 1264.5,374.3 1265.2,379.5 C1265.9,384.7 1267.0,388.2 1267.3,390" fill="none" stroke="#ffffff" stroke-width="2.6" stroke-linecap="round" stroke-linejoin="round"/><path d="M1315.4,352.3 C1313.0,354.8 1306.0,362.1 1300.8,367 C1295.6,371.9 1288.5,376.0 1284,381.6 C1279.5,387.2 1275.7,393.8 1273.6,400.4 C1271.5,407.0 1271.8,417.8 1271.5,421.3" fill="none" stroke="#ffffff" stroke-width="2.6" stroke-linecap="round" stroke-linejoin="round"/><path d="M1271.5,421.3 C1273.6,420.2 1279.5,418.1 1284,415 C1288.5,411.9 1294.5,404.6 1298.7,402.5 C1302.9,400.4 1304.0,401.4 1309.2,402.5 C1314.4,403.6 1326.5,407.8 1330,408.8" fill="none" stroke="#ffffff" stroke-width="2.6" stroke-linecap="round" stroke-linejoin="round"/><path d="M1183.7,333.5 C1188.9,333.1 1205.2,331.8 1215,331.4 C1224.8,331.0 1237.7,331.4 1242.2,331.4" fill="none" stroke="#ffffff" stroke-width="2.6" stroke-linecap="round" stroke-linejoin="round"/><path d="M1282,459 C1286.5,460.0 1297.5,465.2 1309,465.2 C1320.5,465.2 1344.0,460.0 1351,459" fill="none" stroke="#ffffff" stroke-width="2.6" stroke-linecap="round" stroke-linejoin="round"/><path d="M1250.6,507 C1253.4,503.2 1262.1,492.0 1267.3,484 C1272.5,476.0 1279.5,463.2 1282,459" fill="none" stroke="#ffffff" stroke-width="2.6" stroke-linecap="round" stroke-linejoin="round"/><path d="M929,160 C929.0,166.7 928.8,186.7 929,200 C929.2,213.3 929.8,228.5 930,240 C930.2,251.5 930.0,264.2 930,269" fill="none" stroke="#ffffff" stroke-width="2.6" stroke-linecap="round" stroke-linejoin="round"/><path d="M913,180 C913.0,186.7 912.8,206.3 913,220 C913.2,233.7 913.8,255.0 914,262" fill="none" stroke="#ffffff" stroke-width="2.6" stroke-linecap="round" stroke-linejoin="round"/><path d="M942,165 C943.2,170.3 946.8,185.3 949,197 C951.2,208.7 953.5,226.2 955,235 C956.5,243.8 957.5,247.5 958,250" fill="none" stroke="#ffffff" stroke-width="2.6" stroke-linecap="round" stroke-linejoin="round"/><path d="M932,193 C934.3,196.8 943.3,209.0 946,216 C948.7,223.0 947.7,231.8 948,235" fill="none" stroke="#ffffff" stroke-width="2.6" stroke-linecap="round" stroke-linejoin="round"/><path d="M882,212 C887.2,212.0 905.2,211.7 913,212 C920.8,212.3 926.3,213.7 929,214" fill="none" stroke="#ffffff" stroke-width="2.6" stroke-linecap="round" stroke-linejoin="round"/><path d="M882,222 L905,218" fill="none" stroke="#ffffff" stroke-width="2.6" stroke-linecap="round" stroke-linejoin="round"/><path d="M913,235 L929,235" fill="none" stroke="#ffffff" stroke-width="2.6" stroke-linecap="round" stroke-linejoin="round"/><path d="M885,270 C889.7,269.7 905.5,268.2 913,268 C920.5,267.8 924.7,267.7 930,269 C935.3,270.3 940.0,272.5 945,276 C950.0,279.5 957.5,287.7 960,290" fill="none" stroke="#ffffff" stroke-width="2.6" stroke-linecap="round" stroke-linejoin="round"/><path d="M960,215 C962.5,217.8 970.0,226.8 975,232 C980.0,237.2 986.7,242.7 990,246 C993.3,249.3 994.2,251.0 995,252" fill="none" stroke="#ffffff" stroke-width="2.6" stroke-linecap="round" stroke-linejoin="round"/><path d="M1004,144 C1003.8,148.3 1003.0,160.7 1003,170 C1003.0,179.3 1002.2,194.3 1004,200 C1005.8,205.7 1009.8,203.5 1014,204 C1018.2,204.5 1025.2,202.3 1029,203 C1032.8,203.7 1035.2,202.7 1036.5,208 C1037.8,213.3 1035.9,227.0 1036.5,234.6 C1037.1,242.2 1039.4,250.3 1040,253.5" fill="none" stroke="#ffffff" stroke-width="2.6" stroke-linecap="round" stroke-linejoin="round"/><path d="M1046,145 C1047.0,147.0 1049.8,152.8 1052,157 C1054.2,161.2 1056.0,166.3 1059,170 C1062.0,173.7 1067.5,176.8 1070,179 C1072.5,181.2 1074.7,180.3 1074,183 C1073.3,185.7 1069.3,191.0 1066,195 C1062.7,199.0 1057.7,203.5 1054,207 C1050.3,210.5 1046.3,213.3 1044,216 C1041.7,218.7 1040.7,221.8 1040,223" fill="none" stroke="#ffffff" stroke-width="2.6" stroke-linecap="round" stroke-linejoin="round"/><path d="M1074,183 C1076.3,183.1 1082.5,182.8 1088,183.5 C1093.5,184.2 1103.0,186.1 1107,187.3 C1111.0,188.6 1111.2,190.4 1112,191" fill="none" stroke="#ffffff" stroke-width="2.6" stroke-linecap="round" stroke-linejoin="round"/><path d="M1080,144 C1080.3,146.3 1082.7,153.3 1082,158 C1081.3,162.7 1077.3,167.8 1076,172 C1074.7,176.2 1074.3,181.2 1074,183" fill="none" stroke="#ffffff" stroke-width="2.6" stroke-linecap="round" stroke-linejoin="round"/><path d="M1012,214 C1015.0,213.3 1025.3,209.7 1030,210 C1034.7,210.3 1038.3,215.0 1040,216" fill="none" stroke="#ffffff" stroke-width="2.6" stroke-linecap="round" stroke-linejoin="round"/><path d="M1018,226 L1034,222" fill="none" stroke="#ffffff" stroke-width="2.6" stroke-linecap="round" stroke-linejoin="round"/><path d="M1036,240 C1036.8,242.5 1040.7,250.3 1041,255 C1041.3,259.7 1038.5,265.8 1038,268" fill="none" stroke="#ffffff" stroke-width="2.6" stroke-linecap="round" stroke-linejoin="round"/><path d="M205,257 L227,274" fill="none" stroke="#ffffff" stroke-width="2.6" stroke-linecap="round" stroke-linejoin="round"/><path d="M202,146 C203.0,146.7 206.0,148.3 208,150 C210.0,151.7 213.0,155.0 214,156" fill="none" stroke="#ffffff" stroke-width="2.6" stroke-linecap="round" stroke-linejoin="round"/><path d="M266,240 C265.8,242.2 265.8,249.7 265,253 C264.2,256.3 261.7,258.8 261,260" fill="none" stroke="#ffffff" stroke-width="2.6" stroke-linecap="round" stroke-linejoin="round"/><path d="M266,251 C268.5,251.8 277.7,254.0 281,256 C284.3,258.0 285.2,261.8 286,263" fill="none" stroke="#ffffff" stroke-width="2.6" stroke-linecap="round" stroke-linejoin="round"/><path d="M284,240 L284,260" fill="none" stroke="#ffffff" stroke-width="2.6" stroke-linecap="round" stroke-linejoin="round"/><path d="M299,261 C299.2,263.5 300.7,272.0 300,276 C299.3,280.0 297.3,283.8 295,285 C292.7,286.2 287.5,283.3 286,283" fill="none" stroke="#ffffff" stroke-width="2.6" stroke-linecap="round" stroke-linejoin="round"/><path d="M277,285 C277.3,288.0 278.3,297.3 279,303 C279.7,308.7 280.7,316.3 281,319" fill="none" stroke="#ffffff" stroke-width="2.6" stroke-linecap="round" stroke-linejoin="round"/><path d="M281,308 L297,313.5" fill="none" stroke="#ffffff" stroke-width="2.6" stroke-linecap="round" stroke-linejoin="round"/><path d="M311,310 C312.2,312.3 317.0,318.3 318,324 C319.0,329.7 318.2,338.5 317,344 C315.8,349.5 314.3,354.3 311,357 C307.7,359.7 301.2,360.3 297,360 C292.8,359.7 287.8,355.8 286,355" fill="none" stroke="#ffffff" stroke-width="2.6" stroke-linecap="round" stroke-linejoin="round"/><path d="M297,362 L277,400" fill="none" stroke="#ffffff" stroke-width="2.6" stroke-linecap="round" stroke-linejoin="round"/><path d="M253,301 L253,330" fill="none" stroke="#ffffff" stroke-width="2.6" stroke-linecap="round" stroke-linejoin="round"/><path d="M349,364 C349.0,369.3 355.3,390.7 349,396 C342.7,401.3 317.3,396.0 311,396" fill="none" stroke="#ffffff" stroke-width="2.6" stroke-linecap="round" stroke-linejoin="round"/><path d="M202,391 C205.5,391.5 217.3,394.7 223,394 C228.7,393.3 233.8,388.2 236,387" fill="none" stroke="#ffffff" stroke-width="2.6" stroke-linecap="round" stroke-linejoin="round"/><path d="M416,311 C414.0,312.2 406.5,314.7 404,318 C401.5,321.3 401.0,327.3 401,331 C401.0,334.7 401.8,336.5 404,340 C406.2,343.5 410.0,349.7 414,352 C418.0,354.3 423.7,354.5 428,354 C432.3,353.5 436.7,348.7 440,349 C443.3,349.3 445.3,354.0 448,356 C450.7,358.0 453.5,358.3 456,361 C458.5,363.7 461.0,368.3 463,372 C465.0,375.7 466.5,379.2 468,383 C469.5,386.8 469.8,390.8 472,394.5 C474.2,398.2 479.5,402.3 481,405.3 C482.5,408.3 483.7,411.0 481,412.5 C478.3,414.0 469.0,415.4 464.8,414.2 C460.6,413.0 457.9,408.6 455.8,405.3 C453.7,402.0 455.3,396.6 452.3,394.5 C449.3,392.4 442.5,392.1 438,392.7 C433.5,393.3 429.2,397.4 425.4,398 C421.6,398.6 418.4,397.7 415,396 C411.6,394.3 407.3,390.2 405,388 C402.7,385.8 401.7,383.8 401,383" fill="none" stroke="#ffffff" stroke-width="4.6" stroke-linecap="round" stroke-linejoin="round"/><path d="M466,366 C468.5,368.7 472.2,383.5 481,382 C489.8,380.5 512.7,361.2 519,357" fill="none" stroke="#ffffff" stroke-width="2.6" stroke-linecap="round" stroke-linejoin="round"/><path d="M474,364 C476.2,364.8 480.0,371.3 487,369 C494.0,366.7 509.3,353.8 516,350 C522.7,346.2 525.2,346.7 527,346" fill="none" stroke="#ffffff" stroke-width="2.6" stroke-linecap="round" stroke-linejoin="round"/><path d="M508,330 L508.7,353" fill="none" stroke="#ffffff" stroke-width="2.6" stroke-linecap="round" stroke-linejoin="round"/><path d="M481,403.5 C483.7,403.2 492.2,403.8 497,401.7 C501.8,399.6 506.0,393.1 509.6,391 C513.2,388.9 512.6,388.3 518.6,389.2 C524.6,390.1 541.0,395.1 545.5,396.3" fill="none" stroke="#ffffff" stroke-width="2.6" stroke-linecap="round" stroke-linejoin="round"/><path d="M522,389.2 L543.7,364" fill="none" stroke="#ffffff" stroke-width="2.6" stroke-linecap="round" stroke-linejoin="round"/><path d="M534.7,394.5 L534.7,403.5" fill="none" stroke="#ffffff" stroke-width="2.6" stroke-linecap="round" stroke-linejoin="round"/><path d="M541.9,330 C544.3,332.1 552.9,340.1 556.2,342.5 C559.5,344.9 560.7,344.0 561.6,344.3" fill="none" stroke="#ffffff" stroke-width="2.6" stroke-linecap="round" stroke-linejoin="round"/><path d="M577.7,344.3 C578.9,343.1 580.5,338.7 585,337.2 C589.5,335.7 601.3,335.7 604.6,335.4" fill="none" stroke="#ffffff" stroke-width="2.6" stroke-linecap="round" stroke-linejoin="round"/><path d="M484.5,435.8 C486.6,436.1 494.9,426.5 497,437.5 C499.1,448.5 497.0,491.2 497,502" fill="none" stroke="#ffffff" stroke-width="2.6" stroke-linecap="round" stroke-linejoin="round"/><path d="M452.3,477 L497,477" fill="none" stroke="#ffffff" stroke-width="2.6" stroke-linecap="round" stroke-linejoin="round"/><path d="M488,455.5 L488,477" fill="none" stroke="#ffffff" stroke-width="2.6" stroke-linecap="round" stroke-linejoin="round"/><path d="M470,462.6 L470,477" fill="none" stroke="#ffffff" stroke-width="2.6" stroke-linecap="round" stroke-linejoin="round"/><path d="M479,477 C480.2,480.6 481.8,494.3 486.3,498.5 C490.8,502.7 499.1,502.9 506,502 C512.9,501.1 515.0,493.9 527.5,493 C540.0,492.1 572.3,496.1 581.3,496.7" fill="none" stroke="#ffffff" stroke-width="2.6" stroke-linecap="round" stroke-linejoin="round"/><path d="M420,468 L446.9,469.8" fill="none" stroke="#ffffff" stroke-width="2.6" stroke-linecap="round" stroke-linejoin="round"/><path d="M439.7,437.5 L448.7,437.5" fill="none" stroke="#ffffff" stroke-width="2.6" stroke-linecap="round" stroke-linejoin="round"/><path d="M439.7,437.5 L439.7,453.7" fill="none" stroke="#ffffff" stroke-width="2.6" stroke-linecap="round" stroke-linejoin="round"/><path d="M443.3,453.7 C446.6,453.4 458.8,451.0 463,451.9 C467.2,452.8 467.5,457.8 468.4,459" fill="none" stroke="#ffffff" stroke-width="2.6" stroke-linecap="round" stroke-linejoin="round"/><path d="M624.3,498.5 C627.6,498.8 638.0,500.3 644,500.3 C650.0,500.3 657.3,498.8 660,498.5" fill="none" stroke="#ffffff" stroke-width="2.6" stroke-linecap="round" stroke-linejoin="round"/><path d="M427,419.6 C426.4,421.4 424.8,426.8 423.6,430.4 C422.4,434.0 420.6,439.2 420,441" fill="none" stroke="#ffffff" stroke-width="2.6" stroke-linecap="round" stroke-linejoin="round"/><path d="M430.8,398.1 C432.6,399.9 438.8,405.3 441.5,408.9 C444.2,412.5 446.0,417.8 446.9,419.6" fill="none" stroke="#ffffff" stroke-width="2.6" stroke-linecap="round" stroke-linejoin="round"/><path d="M405,382 L438,385.6" fill="none" stroke="#ffffff" stroke-width="2.6" stroke-linecap="round" stroke-linejoin="round"/><path d="M1123.5,302.6 C1127.4,302.2 1143.4,298.7 1146.9,300.5 C1150.4,302.3 1146.5,309.7 1144.7,313.2 C1142.9,316.7 1137.6,318.9 1136.2,321.7 C1134.8,324.5 1136.2,328.8 1136.2,330.2" fill="none" stroke="#ffffff" stroke-width="2.6" stroke-linecap="round" stroke-linejoin="round"/><path d="M1115,317.5 L1119.2,334.5" fill="none" stroke="#ffffff" stroke-width="2.6" stroke-linecap="round" stroke-linejoin="round"/><path d="M1087.4,300.5 L1089.5,311.1" fill="none" stroke="#ffffff" stroke-width="2.6" stroke-linecap="round" stroke-linejoin="round"/><path d="M279,160 C280.8,159.3 286.5,157.2 290,156 C293.5,154.8 298.3,153.5 300,153" fill="none" stroke="#d6cdc6" stroke-width="3" stroke-dasharray="1.6,1.2"/><path d="M279,173 C281.2,172.2 288.2,169.5 292,168 C295.8,166.5 300.3,164.7 302,164" fill="none" stroke="#d6cdc6" stroke-width="3" stroke-dasharray="1.6,1.2"/><path d="M282,184 C284.3,182.8 292.0,179.2 296,177 C300.0,174.8 304.3,172.0 306,171" fill="none" stroke="#d6cdc6" stroke-width="3" stroke-dasharray="1.6,1.2"/><path d="M296,190 C297.7,188.8 302.3,184.8 306,183 C309.7,181.2 316.0,179.7 318,179" fill="none" stroke="#d6cdc6" stroke-width="3" stroke-dasharray="1.6,1.2"/><path d="M250,176 L262,178" fill="none" stroke="#d6cdc6" stroke-width="3" stroke-dasharray="1.6,1.2"/><path d="M250,183 L260,184" fill="none" stroke="#d6cdc6" stroke-width="3" stroke-dasharray="1.6,1.2"/><path d="M304,160 L318,170" fill="none" stroke="#d6cdc6" stroke-width="3" stroke-dasharray="1.6,1.2"/><ellipse cx="1180" cy="183" rx="15" ry="7" transform="rotate(10 1180 183)" fill="none" stroke="#d8d4ce" stroke-width="2"/><path d="M959.6,334 L979.6,343.9 L999.5,351.8 L1017.4,347.8 L1019.4,337.9" fill="none" stroke="#b8b2a8" stroke-width="3.4" stroke-dasharray="1,1"/><path d="M959.6,334 L979.6,343.9 L999.5,351.8 L1017.4,347.8 L1019.4,337.9" fill="none" stroke="#fff" stroke-width="2"/><path d="M1317,495 C1322,482 1330,478 1337,479 C1345,480 1350,487 1352,492" fill="none" stroke="#c8b7a8" stroke-width="1" stroke-dasharray="3,2"/><path d="M245,201 C251.8,204.5 276.9,218.7 285.5,222 C294.1,225.3 294.4,218.2 296.4,221 C298.4,223.8 298.9,235.7 297.5,238.6 C296.1,241.5 289.3,238.6 287.7,238.6" fill="none" stroke="#b59eb5" stroke-width="1.5" stroke-dasharray="5,3,1.5,3"/><path d="M309.6,221 C310.7,222.5 312.6,227.4 316.2,230 C319.8,232.6 328.9,235.3 331.5,236.4" fill="none" stroke="#b59eb5" stroke-width="1.5" stroke-dasharray="5,3,1.5,3"/><path d="M310.7,146.6 C310.9,148.2 310.2,153.7 311.8,156.4 C313.4,159.1 317.6,160.8 320.5,163 C323.4,165.2 327.8,167.6 329.3,169.6 C330.8,171.6 330.8,173.5 329.3,175 C327.8,176.5 323.1,176.6 320.5,178.4 C317.9,180.2 316.0,184.0 314,186 C312.0,188.0 308.1,188.9 308.5,190.4 C308.9,191.9 314.7,193.2 316.2,194.8 C317.7,196.5 317.1,199.4 317.3,200.3" fill="none" stroke="#b59eb5" stroke-width="1.5" stroke-dasharray="5,3,1.5,3"/><path d="M378,255 C378.3,259.2 377.2,274.2 380,280 C382.8,285.8 391.7,290.7 395,290 C398.3,289.3 399.2,278.3 400,276" fill="none" stroke="#b59eb5" stroke-width="1.5" stroke-dasharray="5,3,1.5,3"/><path d="M420,343 C425.0,343.3 439.2,345.2 450,345 C460.8,344.8 479.2,342.5 485,342" fill="none" stroke="#b59eb5" stroke-width="1.5" stroke-dasharray="5,3,1.5,3"/><path d="M1183,290 C1189.7,283.9 1213.5,258.7 1223.4,253.7 C1233.3,248.7 1232.2,259.6 1242.5,260 C1252.8,260.4 1268.3,260.6 1285,256 C1301.7,251.4 1331.1,237.2 1342.4,232.5 C1353.7,227.8 1351.2,228.8 1353,228" fill="none" stroke="#b59eb5" stroke-width="1.5" stroke-dasharray="5,3,1.5,3"/><path d="M1183,290 C1183.0,291.0 1179.1,294.8 1183,296.2 C1186.9,297.6 1202.5,293.4 1206.4,298.4 C1210.3,303.4 1206.4,321.4 1206.4,326" fill="none" stroke="#b59eb5" stroke-width="1.5" stroke-dasharray="5,3,1.5,3"/><path d="M1140,320 C1141.7,317.5 1146.7,308.3 1150,305 C1153.3,301.7 1158.3,300.8 1160,300" fill="none" stroke="#b59eb5" stroke-width="1.5" stroke-dasharray="5,3,1.5,3"/><path d="M1080,360 C1083.3,358.3 1091.7,353.3 1100,350 C1108.3,346.7 1121.7,343.0 1130,340 C1138.3,337.0 1146.7,333.3 1150,332" fill="none" stroke="#b59eb5" stroke-width="1.5" stroke-dasharray="5,3,1.5,3"/><path d="M1140,375 C1143.3,379.2 1155.0,392.5 1160,400 C1165.0,407.5 1171.7,415.0 1170,420 C1168.3,425.0 1156.7,428.3 1150,430 C1143.3,431.7 1134.2,433.3 1130,430 C1125.8,426.7 1125.8,413.3 1125,410" fill="none" stroke="#b59eb5" stroke-width="1.5" stroke-dasharray="5,3,1.5,3"/><path d="M1000,423 C1000.0,425.8 996.7,437.2 1000,440 C1003.3,442.8 1016.7,440.0 1020,440" fill="none" stroke="#b59eb5" stroke-width="1.5" stroke-dasharray="5,3,1.5,3"/><path d="M910,300 C910.0,302.0 909.8,305.3 910,312 C910.2,318.7 910.8,335.3 911,340" fill="none" stroke="#b59eb5" stroke-width="1.5" stroke-dasharray="5,3,1.5,3"/><path d="M931,305 C930.8,307.8 930.0,315.3 930,322 C930.0,328.7 930.8,341.2 931,345" fill="none" stroke="#b59eb5" stroke-width="1.5" stroke-dasharray="5,3,1.5,3"/><path d="M573,173 C570.3,174.5 562.8,177.8 557,182 C551.2,186.2 544.2,191.7 538,198 C531.8,204.3 525.5,212.3 520,220 C514.5,227.7 508.3,236.8 505,244 C501.7,251.2 500.3,257.2 500,263 C499.7,268.8 501.5,273.8 503,279 C504.5,284.2 505.8,289.5 509,294 C512.2,298.5 517.2,300.0 522,306 C526.8,312.0 533.8,322.8 538,330 C542.2,337.2 542.5,344.0 547,349 C551.5,354.0 556.8,359.8 565,360 C573.2,360.2 587.8,349.8 596,350 C604.2,350.2 609.7,354.8 614,361 C618.3,367.2 616.8,377.5 622,387 C627.2,396.5 640.3,407.2 645,418 C649.7,428.8 649.3,440.0 650,452 C650.7,464.0 649.3,480.8 649,490 C648.7,499.2 648.2,504.2 648,507" fill="none" stroke="#6b74e0" stroke-width="1.1" stroke-dasharray="1.3,2"/><path d="M577,171 C580.2,172.0 589.7,174.5 596,177 C602.3,179.5 609.2,183.8 615,186 C620.8,188.2 628.3,189.3 631,190" fill="none" stroke="#6b74e0" stroke-width="1.1" stroke-dasharray="1.3,2"/><path d="M1003,146 L1003,181 L862,351 L836.4,353.3 L808.6,354.3 L790.5,357.4 L768.4,361.5 L690,507" fill="none" stroke="#8a8a8a" stroke-width="0.9"/><rect x="1001.5" y="147.0" width="3" height="3" fill="none" stroke="#7a7a7a" stroke-width="0.8"/><rect x="1002.5" y="157.5" width="3" height="3" fill="none" stroke="#7a7a7a" stroke-width="0.8"/><rect x="1001.5" y="168.5" width="3" height="3" fill="none" stroke="#7a7a7a" stroke-width="0.8"/><rect x="1001.5" y="179.2" width="3" height="3" fill="none" stroke="#7a7a7a" stroke-width="0.8"/><rect x="989.0" y="194.9" width="3" height="3" fill="none" stroke="#7a7a7a" stroke-width="0.8"/><rect x="974.9" y="211.7" width="3" height="3" fill="none" stroke="#7a7a7a" stroke-width="0.8"/><rect x="954.0" y="237.9" width="3" height="3" fill="none" stroke="#7a7a7a" stroke-width="0.8"/><rect x="945.0" y="248.8" width="3" height="3" fill="none" stroke="#7a7a7a" stroke-width="0.8"/><rect x="925.8" y="270.0" width="3" height="3" fill="none" stroke="#7a7a7a" stroke-width="0.8"/><rect x="906.0" y="295.5" width="3" height="3" fill="none" stroke="#7a7a7a" stroke-width="0.8"/><rect x="892.7" y="309.8" width="3" height="3" fill="none" stroke="#7a7a7a" stroke-width="0.8"/><rect x="881.7" y="324.0" width="3" height="3" fill="none" stroke="#7a7a7a" stroke-width="0.8"/><rect x="860.5" y="349.5" width="3" height="3" fill="none" stroke="#7a7a7a" stroke-width="0.8"/><rect x="834.9" y="351.8" width="3" height="3" fill="none" stroke="#7a7a7a" stroke-width="0.8"/><rect x="806.9" y="352.5" width="3" height="3" fill="none" stroke="#7a7a7a" stroke-width="0.8"/><rect x="788.3" y="355.9" width="3" height="3" fill="none" stroke="#7a7a7a" stroke-width="0.8"/><rect x="766.9" y="360.0" width="3" height="3" fill="none" stroke="#7a7a7a" stroke-width="0.8"/><rect x="762.8" y="369.5" width="3" height="3" fill="none" stroke="#7a7a7a" stroke-width="0.8"/><rect x="757.9" y="379.5" width="3" height="3" fill="none" stroke="#7a7a7a" stroke-width="0.8"/><rect x="749.6" y="393.0" width="3" height="3" fill="none" stroke="#7a7a7a" stroke-width="0.8"/><rect x="739.7" y="410.3" width="3" height="3" fill="none" stroke="#7a7a7a" stroke-width="0.8"/><rect x="727.8" y="431.3" width="3" height="3" fill="none" stroke="#7a7a7a" stroke-width="0.8"/><rect x="715.8" y="454.8" width="3" height="3" fill="none" stroke="#7a7a7a" stroke-width="0.8"/><rect x="703.1" y="477.5" width="3" height="3" fill="none" stroke="#7a7a7a" stroke-width="0.8"/><path d="M202,351 C206.7,352.0 221.3,354.8 230,357 C238.7,359.2 243.8,360.8 254,364 C264.2,367.2 282.3,371.2 291,376 C299.7,380.8 301.2,386.0 306,393 C310.8,400.0 314.2,409.8 320,418 C325.8,426.2 333.3,434.5 341,442 C348.7,449.5 357.3,456.0 366,463 C374.7,470.0 382.3,476.7 393,484 C403.7,491.3 423.8,503.2 430,507" fill="none" stroke="#b9b98a" stroke-width="6.2" stroke-linecap="round" stroke-linejoin="round"/><path d="M254,364 C251.5,369.5 244.8,385.7 239,397 C233.2,408.3 224.5,415.8 219,432 C213.5,448.2 208.8,482.7 206,494 C203.2,505.3 202.7,499.0 202,500" fill="none" stroke="#b9b98a" stroke-width="6.2" stroke-linecap="round" stroke-linejoin="round"/><path d="M366,463 C362.8,464.8 351.2,469.5 347,474 C342.8,478.5 342.2,484.5 341,490 C339.8,495.5 340.2,504.2 340,507" fill="none" stroke="#b9b98a" stroke-width="6.2" stroke-linecap="round" stroke-linejoin="round"/><path d="M546,142 C546.3,142.3 542.3,142.8 548,144 C553.7,145.2 571.2,147.7 580,149 C588.8,150.3 595.8,150.5 601,152 C606.2,153.5 607.5,155.0 611,158 C614.5,161.0 618.3,167.0 622,170 C625.7,173.0 631.2,175.0 633,176" fill="none" stroke="#b9b98a" stroke-width="6.2" stroke-linecap="round" stroke-linejoin="round"/><path d="M418,144 C415.0,146.7 405.7,154.3 400,160 C394.3,165.7 388.5,172.3 384,178 C379.5,183.7 374.7,189.0 373,194 C371.3,199.0 372.0,202.5 374,208 C376.0,213.5 381.2,221.0 385,227 C388.8,233.0 393.5,237.8 397,244 C400.5,250.2 403.8,258.2 406,264 C408.2,269.8 408.3,273.3 410,279 C411.7,284.7 414.0,293.2 416,298 C418.0,302.8 419.3,306.0 422,308 C424.7,310.0 428.2,310.7 432,310 C435.8,309.3 442.8,305.0 445,304" fill="none" stroke="#b9b98a" stroke-width="6.2" stroke-linecap="round" stroke-linejoin="round"/><path d="M862,180 C864.3,179.3 870.5,177.7 876,176 C881.5,174.3 889.7,171.7 895,170 C900.3,168.3 903.5,167.0 908,166 C912.5,165.0 919.5,166.3 922,164 C924.5,161.7 920.0,153.9 923,152 C926.0,150.1 933.8,152.5 940,152.5 C946.2,152.5 952.5,152.6 960,152 C967.5,151.4 977.8,150.2 985,149 C992.2,147.8 998.5,146.2 1003,145 C1007.5,143.8 1010.5,142.5 1012,142" fill="none" stroke="#b9b98a" stroke-width="6.2" stroke-linecap="round" stroke-linejoin="round"/><path d="M879,222 C879.3,224.7 879.3,229.7 881,238 C882.7,246.3 884.5,263.2 889,272 C893.5,280.8 900.2,286.5 908,291 C915.8,295.5 923.3,295.8 936,299 C948.7,302.2 969.8,305.8 984,310 C998.2,314.2 1011.7,319.7 1021,324 C1030.3,328.3 1033.5,331.7 1040,336 C1046.5,340.3 1054.7,346.8 1060,350 C1065.3,353.2 1067.8,353.3 1072,355 C1076.2,356.7 1080.3,357.7 1085,360 C1089.7,362.3 1095.3,365.7 1100,369 C1104.7,372.3 1107.0,379.7 1113,380 C1119.0,380.3 1127.0,372.8 1136,371 C1145.0,369.2 1158.0,371.5 1167,369 C1176.0,366.5 1182.3,356.7 1190,356 C1197.7,355.3 1209.8,359.7 1213,365 C1216.2,370.3 1212.8,381.3 1209,388 C1205.2,394.7 1192.5,399.5 1190,405 C1187.5,410.5 1190.8,414.2 1194,421 C1197.2,427.8 1206.5,438.3 1209,446 C1211.5,453.7 1207.3,460.3 1209,467 C1210.7,473.7 1214.5,479.3 1219,486 C1223.5,492.7 1233.2,503.5 1236,507" fill="none" stroke="#b9b98a" stroke-width="6.2" stroke-linecap="round" stroke-linejoin="round"/><path d="M1158,141 C1158.7,141.8 1160.0,143.2 1162,146 C1164.0,148.8 1166.7,154.7 1170,158 C1173.3,161.3 1177.0,163.9 1182,166 C1187.0,168.1 1193.5,169.7 1200,170.5 C1206.5,171.3 1214.0,171.2 1221,171 C1228.0,170.8 1235.5,170.3 1242,169.5 C1248.5,168.7 1254.5,167.6 1260,166 C1265.5,164.4 1270.5,162.5 1275,160 C1279.5,157.5 1282.8,153.4 1287,151 C1291.2,148.6 1293.7,146.4 1300,145.5 C1306.3,144.6 1318.5,144.8 1325,145.5 C1331.5,146.2 1334.0,148.1 1339,150 C1344.0,151.9 1352.3,155.8 1355,157" fill="none" stroke="#b9b98a" stroke-width="6.2" stroke-linecap="round" stroke-linejoin="round"/><path d="M202,351 C206.7,352.0 221.3,354.8 230,357 C238.7,359.2 243.8,360.8 254,364 C264.2,367.2 282.3,371.2 291,376 C299.7,380.8 301.2,386.0 306,393 C310.8,400.0 314.2,409.8 320,418 C325.8,426.2 333.3,434.5 341,442 C348.7,449.5 357.3,456.0 366,463 C374.7,470.0 382.3,476.7 393,484 C403.7,491.3 423.8,503.2 430,507" fill="none" stroke="#f7fabf" stroke-width="4.6" stroke-linecap="round" stroke-linejoin="round"/><path d="M254,364 C251.5,369.5 244.8,385.7 239,397 C233.2,408.3 224.5,415.8 219,432 C213.5,448.2 208.8,482.7 206,494 C203.2,505.3 202.7,499.0 202,500" fill="none" stroke="#f7fabf" stroke-width="4.6" stroke-linecap="round" stroke-linejoin="round"/><path d="M366,463 C362.8,464.8 351.2,469.5 347,474 C342.8,478.5 342.2,484.5 341,490 C339.8,495.5 340.2,504.2 340,507" fill="none" stroke="#f7fabf" stroke-width="4.6" stroke-linecap="round" stroke-linejoin="round"/><path d="M546,142 C546.3,142.3 542.3,142.8 548,144 C553.7,145.2 571.2,147.7 580,149 C588.8,150.3 595.8,150.5 601,152 C606.2,153.5 607.5,155.0 611,158 C614.5,161.0 618.3,167.0 622,170 C625.7,173.0 631.2,175.0 633,176" fill="none" stroke="#f7fabf" stroke-width="4.6" stroke-linecap="round" stroke-linejoin="round"/><path d="M418,144 C415.0,146.7 405.7,154.3 400,160 C394.3,165.7 388.5,172.3 384,178 C379.5,183.7 374.7,189.0 373,194 C371.3,199.0 372.0,202.5 374,208 C376.0,213.5 381.2,221.0 385,227 C388.8,233.0 393.5,237.8 397,244 C400.5,250.2 403.8,258.2 406,264 C408.2,269.8 408.3,273.3 410,279 C411.7,284.7 414.0,293.2 416,298 C418.0,302.8 419.3,306.0 422,308 C424.7,310.0 428.2,310.7 432,310 C435.8,309.3 442.8,305.0 445,304" fill="none" stroke="#f7fabf" stroke-width="4.6" stroke-linecap="round" stroke-linejoin="round"/><path d="M862,180 C864.3,179.3 870.5,177.7 876,176 C881.5,174.3 889.7,171.7 895,170 C900.3,168.3 903.5,167.0 908,166 C912.5,165.0 919.5,166.3 922,164 C924.5,161.7 920.0,153.9 923,152 C926.0,150.1 933.8,152.5 940,152.5 C946.2,152.5 952.5,152.6 960,152 C967.5,151.4 977.8,150.2 985,149 C992.2,147.8 998.5,146.2 1003,145 C1007.5,143.8 1010.5,142.5 1012,142" fill="none" stroke="#f7fabf" stroke-width="4.6" stroke-linecap="round" stroke-linejoin="round"/><path d="M879,222 C879.3,224.7 879.3,229.7 881,238 C882.7,246.3 884.5,263.2 889,272 C893.5,280.8 900.2,286.5 908,291 C915.8,295.5 923.3,295.8 936,299 C948.7,302.2 969.8,305.8 984,310 C998.2,314.2 1011.7,319.7 1021,324 C1030.3,328.3 1033.5,331.7 1040,336 C1046.5,340.3 1054.7,346.8 1060,350 C1065.3,353.2 1067.8,353.3 1072,355 C1076.2,356.7 1080.3,357.7 1085,360 C1089.7,362.3 1095.3,365.7 1100,369 C1104.7,372.3 1107.0,379.7 1113,380 C1119.0,380.3 1127.0,372.8 1136,371 C1145.0,369.2 1158.0,371.5 1167,369 C1176.0,366.5 1182.3,356.7 1190,356 C1197.7,355.3 1209.8,359.7 1213,365 C1216.2,370.3 1212.8,381.3 1209,388 C1205.2,394.7 1192.5,399.5 1190,405 C1187.5,410.5 1190.8,414.2 1194,421 C1197.2,427.8 1206.5,438.3 1209,446 C1211.5,453.7 1207.3,460.3 1209,467 C1210.7,473.7 1214.5,479.3 1219,486 C1223.5,492.7 1233.2,503.5 1236,507" fill="none" stroke="#f7fabf" stroke-width="4.6" stroke-linecap="round" stroke-linejoin="round"/><path d="M1158,141 C1158.7,141.8 1160.0,143.2 1162,146 C1164.0,148.8 1166.7,154.7 1170,158 C1173.3,161.3 1177.0,163.9 1182,166 C1187.0,168.1 1193.5,169.7 1200,170.5 C1206.5,171.3 1214.0,171.2 1221,171 C1228.0,170.8 1235.5,170.3 1242,169.5 C1248.5,168.7 1254.5,167.6 1260,166 C1265.5,164.4 1270.5,162.5 1275,160 C1279.5,157.5 1282.8,153.4 1287,151 C1291.2,148.6 1293.7,146.4 1300,145.5 C1306.3,144.6 1318.5,144.8 1325,145.5 C1331.5,146.2 1334.0,148.1 1339,150 C1344.0,151.9 1352.3,155.8 1355,157" fill="none" stroke="#f7fabf" stroke-width="4.6" stroke-linecap="round" stroke-linejoin="round"/><path d="M735,144 C736.2,145.3 739.5,149.3 742,152 C744.5,154.7 748.7,158.7 750,160" fill="none" stroke="#c48a3d" stroke-width="6.4" stroke-linecap="round" stroke-linejoin="round"/><path d="M686,312 C685.7,312.8 685.3,313.8 684,317 C682.7,320.2 680.3,327.2 678,331 C675.7,334.8 672.6,336.7 670,339.5 C667.4,342.3 664.8,344.9 662.6,348 C660.4,351.1 657.5,354.0 656.6,358 C655.7,362.0 656.4,368.2 657,372 C657.6,375.8 658.5,377.8 660,381 C661.5,384.2 664.3,387.5 666,391 C667.7,394.5 668.8,398.5 670,402 C671.2,405.5 671.7,408.8 673,412 C674.3,415.2 676.8,417.8 678,421 C679.2,424.2 680.3,426.3 680,431 C679.7,435.7 678.0,442.5 676,449 C674.0,455.5 669.8,463.2 668,470 C666.2,476.8 665.5,483.8 665,490 C664.5,496.2 665.0,504.2 665,507" fill="none" stroke="#c48a3d" stroke-width="6.4" stroke-linecap="round" stroke-linejoin="round"/><path d="M735,144 C736.2,145.3 739.5,149.3 742,152 C744.5,154.7 748.7,158.7 750,160" fill="none" stroke="#fcd6a4" stroke-width="4.6" stroke-linecap="round" stroke-linejoin="round"/><path d="M686,312 C685.7,312.8 685.3,313.8 684,317 C682.7,320.2 680.3,327.2 678,331 C675.7,334.8 672.6,336.7 670,339.5 C667.4,342.3 664.8,344.9 662.6,348 C660.4,351.1 657.5,354.0 656.6,358 C655.7,362.0 656.4,368.2 657,372 C657.6,375.8 658.5,377.8 660,381 C661.5,384.2 664.3,387.5 666,391 C667.7,394.5 668.8,398.5 670,402 C671.2,405.5 671.7,408.8 673,412 C674.3,415.2 676.8,417.8 678,421 C679.2,424.2 680.3,426.3 680,431 C679.7,435.7 678.0,442.5 676,449 C674.0,455.5 669.8,463.2 668,470 C666.2,476.8 665.5,483.8 665,490 C664.5,496.2 665.0,504.2 665,507" fill="none" stroke="#fcd6a4" stroke-width="4.6" stroke-linecap="round" stroke-linejoin="round"/><path d="M226,512 C233.3,509.3 257.2,500.7 270,496 C282.8,491.3 294.3,487.7 303,484 C311.7,480.3 316.8,478.2 322,474 C327.2,469.8 329.8,463.8 334,459 C338.2,454.2 343.3,449.0 347,445 C350.7,441.0 352.5,440.2 356,435 C359.5,429.8 364.7,422.0 368,414 C371.3,406.0 373.7,395.2 376,387 C378.3,378.8 380.2,371.3 382,365 C383.8,358.7 384.5,356.5 387,349 C389.5,341.5 394.2,326.7 397,320 C399.8,313.3 401.0,312.7 404,309 C407.0,305.3 413.2,299.8 415,298" fill="none" stroke="#d6788e" stroke-width="11.6" stroke-linecap="butt" stroke-linejoin="round"/><path d="M404,309 C407.7,306.2 418.5,296.0 426,292 C433.5,288.0 442.0,287.7 449,285 C456.0,282.3 462.3,280.2 468,276 C473.7,271.8 478.0,265.5 483,260 C488.0,254.5 493.3,249.0 498,243 C502.7,237.0 506.3,230.0 511,224 C515.7,218.0 520.7,212.7 526,207 C531.3,201.3 537.3,195.0 543,190 C548.7,185.0 554.8,180.6 560,177 C565.2,173.4 568.0,171.0 574,168.5 C580.0,166.0 589.2,162.9 596,162 C602.8,161.1 607.7,162.2 615,163 C622.3,163.8 635.8,166.3 640,167" fill="none" stroke="#d6788e" stroke-width="10.6" stroke-linecap="butt" stroke-linejoin="round"/><path d="M349,467 C350.3,464.7 354.5,457.5 357,453 C359.5,448.5 362.0,444.2 364,440 C366.0,435.8 368.2,430.0 369,428" fill="none" stroke="#d6788e" stroke-width="7.6" stroke-linecap="butt" stroke-linejoin="round"/><path d="M390,335 C391.7,331.5 395.8,320.2 400,314 C404.2,307.8 409.7,301.8 415,298 C420.3,294.2 425.8,293.3 432,291 C438.2,288.7 448.7,285.2 452,284" fill="none" stroke="#d6788e" stroke-width="10.6" stroke-linecap="butt" stroke-linejoin="round"/><path d="M497,244 C499.2,242.7 505.5,238.5 510,236 C514.5,233.5 519.7,231.3 524,229 C528.3,226.7 534.0,223.2 536,222" fill="none" stroke="#d6788e" stroke-width="6.6" stroke-linecap="butt" stroke-linejoin="round"/><path d="M860,166 C863.3,164.7 873.3,160.7 880,158 C886.7,155.3 893.7,152.3 900,150 C906.3,147.7 913.0,145.7 918,144 C923.0,142.3 928.0,140.7 930,140" fill="none" stroke="#d6788e" stroke-width="11.6" stroke-linecap="butt" stroke-linejoin="round"/><path d="M1169,140 C1169.5,140.7 1170.0,141.3 1172,144 C1174.0,146.7 1177.5,152.8 1181,156 C1184.5,159.2 1188.8,161.4 1193,163 C1197.2,164.6 1201.2,165.2 1206,165.5 C1210.8,165.8 1216.3,165.5 1222,165 C1227.7,164.5 1234.7,163.3 1240,162.5 C1245.3,161.7 1250.0,161.1 1254,160 C1258.0,158.9 1260.5,157.7 1264,156 C1267.5,154.3 1271.7,152.0 1275,150 C1278.3,148.0 1281.8,145.8 1284,144 C1286.2,142.2 1287.3,139.8 1288,139" fill="none" stroke="#d6788e" stroke-width="11.1" stroke-linecap="butt" stroke-linejoin="round"/><path d="M226,512 C233.3,509.3 257.2,500.7 270,496 C282.8,491.3 294.3,487.7 303,484 C311.7,480.3 316.8,478.2 322,474 C327.2,469.8 329.8,463.8 334,459 C338.2,454.2 343.3,449.0 347,445 C350.7,441.0 352.5,440.2 356,435 C359.5,429.8 364.7,422.0 368,414 C371.3,406.0 373.7,395.2 376,387 C378.3,378.8 380.2,371.3 382,365 C383.8,358.7 384.5,356.5 387,349 C389.5,341.5 394.2,326.7 397,320 C399.8,313.3 401.0,312.7 404,309 C407.0,305.3 413.2,299.8 415,298" fill="none" stroke="#e892a2" stroke-width="10" stroke-linecap="butt" stroke-linejoin="round"/><path d="M404,309 C407.7,306.2 418.5,296.0 426,292 C433.5,288.0 442.0,287.7 449,285 C456.0,282.3 462.3,280.2 468,276 C473.7,271.8 478.0,265.5 483,260 C488.0,254.5 493.3,249.0 498,243 C502.7,237.0 506.3,230.0 511,224 C515.7,218.0 520.7,212.7 526,207 C531.3,201.3 537.3,195.0 543,190 C548.7,185.0 554.8,180.6 560,177 C565.2,173.4 568.0,171.0 574,168.5 C580.0,166.0 589.2,162.9 596,162 C602.8,161.1 607.7,162.2 615,163 C622.3,163.8 635.8,166.3 640,167" fill="none" stroke="#e892a2" stroke-width="9" stroke-linecap="butt" stroke-linejoin="round"/><path d="M349,467 C350.3,464.7 354.5,457.5 357,453 C359.5,448.5 362.0,444.2 364,440 C366.0,435.8 368.2,430.0 369,428" fill="none" stroke="#e892a2" stroke-width="6" stroke-linecap="butt" stroke-linejoin="round"/><path d="M390,335 C391.7,331.5 395.8,320.2 400,314 C404.2,307.8 409.7,301.8 415,298 C420.3,294.2 425.8,293.3 432,291 C438.2,288.7 448.7,285.2 452,284" fill="none" stroke="#e892a2" stroke-width="9" stroke-linecap="butt" stroke-linejoin="round"/><path d="M497,244 C499.2,242.7 505.5,238.5 510,236 C514.5,233.5 519.7,231.3 524,229 C528.3,226.7 534.0,223.2 536,222" fill="none" stroke="#e892a2" stroke-width="5" stroke-linecap="butt" stroke-linejoin="round"/><path d="M860,166 C863.3,164.7 873.3,160.7 880,158 C886.7,155.3 893.7,152.3 900,150 C906.3,147.7 913.0,145.7 918,144 C923.0,142.3 928.0,140.7 930,140" fill="none" stroke="#e892a2" stroke-width="10" stroke-linecap="butt" stroke-linejoin="round"/><path d="M1169,140 C1169.5,140.7 1170.0,141.3 1172,144 C1174.0,146.7 1177.5,152.8 1181,156 C1184.5,159.2 1188.8,161.4 1193,163 C1197.2,164.6 1201.2,165.2 1206,165.5 C1210.8,165.8 1216.3,165.5 1222,165 C1227.7,164.5 1234.7,163.3 1240,162.5 C1245.3,161.7 1250.0,161.1 1254,160 C1258.0,158.9 1260.5,157.7 1264,156 C1267.5,154.3 1271.7,152.0 1275,150 C1278.3,148.0 1281.8,145.8 1284,144 C1286.2,142.2 1287.3,139.8 1288,139" fill="none" stroke="#e892a2" stroke-width="9.5" stroke-linecap="butt" stroke-linejoin="round"/><path d="M320,418 C323.5,422.0 333.3,434.5 341,442 C348.7,449.5 357.3,456.0 366,463 C374.7,470.0 388.5,480.5 393,484" fill="none" stroke="#b9b98a" stroke-width="6.2" stroke-linecap="butt"/><path d="M320,418 C323.5,422.0 333.3,434.5 341,442 C348.7,449.5 357.3,456.0 366,463 C374.7,470.0 388.5,480.5 393,484" fill="none" stroke="#f7fabf" stroke-width="4.6" stroke-linecap="butt"/><polygon points="926,144 1000,144 998,149 930,152" fill="#e892a2" /><polygon points="1331,144 1353,144 1353,148.5 1342,147" fill="#e892a2" /><polygon points="400,312 420,295 445,288 440,296 425,300 410,318" fill="#e892a2" /><rect x="571" y="154" width="38" height="16.5" rx="2" fill="#f5cfd6" stroke="#c98d9b" stroke-width="0.8"/><text x="590" y="166.3" font-size="11" fill="#4a2a32" text-anchor="middle" font-family="Liberation Sans">US 50</text><text x="298" y="196" font-size="10" text-anchor="middle" font-family="Liberation Sans" transform="rotate(30 298 196)" fill="none" stroke="#fff" stroke-width="2.2" stroke-linejoin="round" opacity="0.85">Mallard Lane</text><text x="298" y="196" font-size="10" text-anchor="middle" font-family="Liberation Sans" transform="rotate(30 298 196)" fill="#222">Mallard Lane</text><text x="243" y="152" font-size="10" text-anchor="middle" font-family="Liberation Sans" transform="rotate(68 243 152)" fill="#8a6d97">ville</text><text x="340" y="238" font-size="10" text-anchor="middle" font-family="Liberation Sans" transform="rotate(-42 340 238)" fill="none" stroke="#fff" stroke-width="2.2" stroke-linejoin="round" opacity="0.85">Green Valley Road</text><text x="340" y="238" font-size="10" text-anchor="middle" font-family="Liberation Sans" transform="rotate(-42 340 238)" fill="#222">Green Valley Road</text><text x="450" y="186" font-size="9.5" text-anchor="middle" font-family="Liberation Sans" transform="rotate(-20 450 186)" fill="none" stroke="#fff" stroke-width="2.2" stroke-linejoin="round" opacity="0.85">Ray Lawyer Drive</text><text x="450" y="186" font-size="9.5" text-anchor="middle" font-family="Liberation Sans" transform="rotate(-20 450 186)" fill="#222">Ray Lawyer Drive</text><text x="486" y="214" font-size="9.5" text-anchor="middle" font-family="Liberation Sans" transform="rotate(80 486 214)" fill="none" stroke="#fff" stroke-width="2.2" stroke-linejoin="round" opacity="0.85">Fair Lane</text><text x="486" y="214" font-size="9.5" text-anchor="middle" font-family="Liberation Sans" transform="rotate(80 486 214)" fill="#222">Fair Lane</text><text x="537" y="221" font-size="10.5" text-anchor="middle" font-family="Liberation Sans" fill="none" stroke="#fff" stroke-width="2.2" stroke-linejoin="round" opacity="0.85">Apex</text><text x="537" y="221" font-size="10.5" text-anchor="middle" font-family="Liberation Sans" fill="#222">Apex</text><text x="497" y="243" font-size="10" text-anchor="middle" font-family="Liberation Sans" transform="rotate(-55 497 243)" fill="#5a1a2a">Route 50</text><text x="459" y="283" font-size="10" text-anchor="middle" font-family="Liberation Sans" font-style="italic" fill="#a01c3c">44B</text><text x="408" y="312" font-size="10" text-anchor="middle" font-family="Liberation Sans" font-style="italic" fill="#a01c3c">44B</text><text x="388" y="353" font-size="10" text-anchor="middle" font-family="Liberation Sans" transform="rotate(-70 388 353)" fill="#5a1a2a">Route 50</text><text x="377" y="384" font-size="10" text-anchor="middle" font-family="Liberation Sans" font-style="italic" fill="#a01c3c">44A</text><text x="334" y="462" font-size="10" text-anchor="middle" font-family="Liberation Sans" transform="rotate(-35 334 462)" fill="#5a1a2a">Route 50</text><text x="312" y="485" font-size="10" text-anchor="middle" font-family="Liberation Sans" font-style="italic" fill="#a01c3c">44A</text><text x="236" y="322" font-size="9.5" text-anchor="middle" font-family="Liberation Sans" transform="rotate(62 236 322)" fill="none" stroke="#fff" stroke-width="2.2" stroke-linejoin="round" opacity="0.85">El Dorado Road</text><text x="236" y="322" font-size="9.5" text-anchor="middle" font-family="Liberation Sans" transform="rotate(62 236 322)" fill="#222">El Dorado Road</text><text x="218" y="356" font-size="10" text-anchor="middle" font-family="Liberation Sans" transform="rotate(16 218 356)" fill="none" stroke="#fff" stroke-width="2.2" stroke-linejoin="round" opacity="0.85">Nat Road</text><text x="218" y="356" font-size="10" text-anchor="middle" font-family="Liberation Sans" transform="rotate(16 218 356)" fill="#222">Nat Road</text><text x="216" y="466" font-size="9.5" text-anchor="middle" font-family="Liberation Sans" transform="rotate(-80 216 466)" fill="none" stroke="#fff" stroke-width="2.2" stroke-linejoin="round" opacity="0.85">El Dorado Road</text><text x="216" y="466" font-size="9.5" text-anchor="middle" font-family="Liberation Sans" transform="rotate(-80 216 466)" fill="#222">El Dorado Road</text><text x="372" y="446" font-size="10.5" text-anchor="middle" font-family="Liberation Sans" fill="none" stroke="#fff" stroke-width="2.2" stroke-linejoin="round" opacity="0.85">Perks Corner</text><text x="372" y="446" font-size="10.5" text-anchor="middle" font-family="Liberation Sans" fill="#222">Perks Corner</text><text x="427" y="450" font-size="9.5" text-anchor="middle" font-family="Liberation Sans" transform="rotate(38 427 450)" fill="none" stroke="#fff" stroke-width="2.2" stroke-linejoin="round" opacity="0.85">Forni Road</text><text x="427" y="450" font-size="9.5" text-anchor="middle" font-family="Liberation Sans" transform="rotate(38 427 450)" fill="#222">Forni Road</text><text x="664" y="381" font-size="9.5" text-anchor="middle" font-family="Liberation Sans" transform="rotate(76 664 381)" fill="none" stroke="#fff" stroke-width="2.2" stroke-linejoin="round" opacity="0.85">Diamond Road</text><text x="664" y="381" font-size="9.5" text-anchor="middle" font-family="Liberation Sans" transform="rotate(76 664 381)" fill="#222">Diamond Road</text><text x="817" y="402" font-size="9.5" text-anchor="middle" font-family="Liberation Sans" transform="rotate(30 817 402)" fill="none" stroke="#fff" stroke-width="2.2" stroke-linejoin="round" opacity="0.85">Big Cut Road</text><text x="817" y="402" font-size="9.5" text-anchor="middle" font-family="Liberation Sans" transform="rotate(30 817 402)" fill="#222">Big Cut Road</text><text x="983" y="313" font-size="10" text-anchor="middle" font-family="Liberation Sans" transform="rotate(20 983 313)" fill="none" stroke="#fff" stroke-width="2.2" stroke-linejoin="round" opacity="0.85">Cedar Ravine Road</text><text x="983" y="313" font-size="10" text-anchor="middle" font-family="Liberation Sans" transform="rotate(20 983 313)" fill="#222">Cedar Ravine Road</text><text x="1167" y="333" font-size="10.5" text-anchor="middle" font-family="Liberation Sans" transform="rotate(-22 1167 333)" fill="#8a6d97">Placerville</text><text x="1292" y="195" font-size="10.5" text-anchor="start" font-family="Liberation Sans" transform="rotate(5 1292 195)" fill="#8a6d97">Placerville</text><text x="1340" y="262" font-size="10" text-anchor="start" font-family="Liberation Sans" font-style="italic" fill="#6b5fb0">Plac</text><text x="1343" y="273" font-size="10" text-anchor="start" font-family="Liberation Sans" font-style="italic" fill="#6b5fb0">Air</text><text x="1205" y="167" font-size="10" text-anchor="middle" font-family="Liberation Sans" transform="rotate(12 1205 167)" fill="#5a1a2a">Route 50</text><text x="1230" y="168" font-size="10" text-anchor="middle" font-family="Liberation Sans" font-style="italic" fill="#a01c3c">49</text><text x="1266" y="158" font-size="10" text-anchor="middle" font-family="Liberation Sans" transform="rotate(-35 1266 158)" fill="#5a1a2a">ute 50</text><text x="1169" y="159" font-size="9.5" text-anchor="middle" font-family="Liberation Sans" transform="rotate(52 1169 159)" fill="#222">oadway</text><text x="893" y="157" font-size="10" text-anchor="middle" font-family="Liberation Sans" transform="rotate(-24 893 157)" fill="#5a1a2a">Route 50</text><text x="956" y="151" font-size="10" text-anchor="middle" font-family="Liberation Sans" font-style="italic" fill="#a01c3c">47</text><text x="922" y="150" font-size="10" text-anchor="middle" font-family="Liberation Sans" font-style="italic" fill="#a01c3c">47</text><text x="894" y="177" font-size="10.5" text-anchor="middle" font-family="Liberation Sans" transform="rotate(-22 894 177)" fill="none" stroke="#fff" stroke-width="2.2" stroke-linejoin="round" opacity="0.85">n Street</text><text x="894" y="177" font-size="10.5" text-anchor="middle" font-family="Liberation Sans" transform="rotate(-22 894 177)" fill="#222">n Street</text><text x="693" y="153" font-size="9.5" text-anchor="middle" font-family="Liberation Sans" transform="rotate(30 693 153)" fill="none" stroke="#fff" stroke-width="2.2" stroke-linejoin="round" opacity="0.85">Canal</text><text x="693" y="153" font-size="9.5" text-anchor="middle" font-family="Liberation Sans" transform="rotate(30 693 153)" fill="#222">Canal</text><text x="718" y="146" font-size="9.5" text-anchor="middle" font-family="Liberation Sans" fill="none" stroke="#fff" stroke-width="2.2" stroke-linejoin="round" opacity="0.85">Street</text><text x="718" y="146" font-size="9.5" text-anchor="middle" font-family="Liberation Sans" fill="#222">Street</text><circle cx="754" cy="327" r="9.5" fill="#5fe05f" fill-opacity="0.85" stroke="#30d030" stroke-width="2"/></svg></div>
</div>
<!-- zoom control -->
<div class="a" style="left:212.5px;top:154.5px;width:33px;height:63px;border:2px solid rgba(0,0,0,.22);border-radius:4px;background:#fff;background-clip:padding-box"></div>
<div class="a" style="left:214.5px;top:186px;width:29px;height:1px;background:#ccc"></div>
<svg class="a" style="left:215px;top:157px;width:28px;height:58px" viewBox="215 157 28 58"><path d="M223.2,170.8 H235.4 M229.3,164.8 V176.8 M223.8,201.5 H236" stroke="#000" stroke-width="2.2"/></svg>
<!-- attribution -->
<div class="a" style="left:1279px;top:496px;width:75px;height:11px;border-bottom-right-radius:11px;background:rgba(255,255,255,.8);font:8px/11px 'Liberation Sans';color:#333;white-space:nowrap;padding-left:4px">&#169; <span style="color:#0078a8">OpenStreetMap</span></div>
<!-- popup -->
<div class="a" style="left:631px;top:161px;width:247px;height:155px;background:#fff;border-radius:12px;box-shadow:0 3px 14px rgba(0,0,0,.4)"></div>
<div class="a" style="left:734px;top:315px;width:40px;height:20px;overflow:hidden"><div style="width:15px;height:15px;background:#fff;transform:rotate(45deg);margin:-8px auto 0;box-shadow:0 3px 14px rgba(0,0,0,.4)"></div></div>
<svg class="a" style="left:859px;top:167px;width:14px;height:14px" viewBox="0 0 14 14"><path d="M3 3L11 11M11 3L3 11" stroke="#757575" stroke-width="1.5"/></svg>
<div class="a" style="left:652px;top:174.5px;font-size:13px;font-weight:bold;color:#333;line-height:15px;white-space:nowrap">95667 &#8212; BUCKS BAR, CA</div>
<div class="a" style="left:652px;top:197.6px;font-size:13px;color:#333;line-height:16px;white-space:nowrap">Purchases:</div>
<div class="a" style="left:652px;top:213.6px;font-size:13px;color:#333;line-height:16px;white-space:nowrap">Total leads</div>
<div class="a" style="left:652px;top:238px;font-size:12px;color:#333;line-height:16px;white-space:nowrap">Companies:</div>
<div class="a" style="left:749px;top:253.5px;font-size:13px;color:#333;line-height:16px">3</div>
<div class="a" style="left:692px;top:270px;font-size:12px;font-weight:bold;color:#333;line-height:16px">1</div>
<div class="a" style="left:722px;top:285px;font-size:12px;font-weight:bold;color:#333;line-height:16px">1</div>
<div class="px" style="left:720px;top:196px;width:5px;height:5px;background:rgb(205,205,205)"></div><div class="px" style="left:725px;top:196px;width:5px;height:5px;background:rgb(227,227,227)"></div><div class="px" style="left:720px;top:201px;width:5px;height:5px;background:rgb(224,224,224)"></div><div class="px" style="left:725px;top:201px;width:5px;height:5px;background:rgb(198,198,198)"></div><div class="px" style="left:720px;top:206px;width:5px;height:5px;background:rgb(213,213,213)"></div><div class="px" style="left:725px;top:206px;width:5px;height:5px;background:rgb(228,228,228)"></div><div class="px" style="left:717px;top:216px;width:5px;height:5px;background:rgb(220,220,220)"></div><div class="px" style="left:722px;top:216px;width:5px;height:5px;background:rgb(168,168,168)"></div><div class="px" style="left:727px;top:216px;width:5px;height:5px;background:rgb(161,161,161)"></div><div class="px" style="left:732px;top:216px;width:5px;height:5px;background:rgb(220,220,220)"></div><div class="px" style="left:737px;top:216px;width:5px;height:5px;background:rgb(193,193,193)"></div><div class="px" style="left:717px;top:221px;width:5px;height:5px;background:rgb(189,189,189)"></div><div class="px" style="left:722px;top:221px;width:5px;height:5px;background:rgb(184,184,184)"></div><div class="px" style="left:727px;top:221px;width:5px;height:5px;background:rgb(220,220,220)"></div><div class="px" style="left:732px;top:221px;width:5px;height:5px;background:rgb(220,220,220)"></div><div class="px" style="left:737px;top:221px;width:5px;height:5px;background:rgb(210,210,210)"></div><div class="px" style="left:652px;top:254px;width:5px;height:5px;background:rgb(235,235,235)"></div><div class="px" style="left:657px;top:254px;width:5px;height:5px;background:rgb(219,219,219)"></div><div class="px" style="left:662px;top:254px;width:5px;height:5px;background:rgb(222,222,222)"></div><div class="px" style="left:667px;top:254px;width:5px;height:5px;background:rgb(235,235,235)"></div><div class="px" style="left:672px;top:254px;width:5px;height:5px;background:rgb(219,219,219)"></div><div class="px" style="left:677px;top:254px;width:5px;height:5px;background:rgb(231,231,231)"></div><div class="px" style="left:682px;top:254px;width:5px;height:5px;background:rgb(227,227,227)"></div><div class="px" style="left:687px;top:254px;width:5px;height:5px;background:rgb(238,238,238)"></div><div class="px" style="left:692px;top:254px;width:5px;height:5px;background:rgb(215,215,215)"></div><div class="px" style="left:697px;top:254px;width:5px;height:5px;background:rgb(236,236,236)"></div><div class="px" style="left:702px;top:254px;width:5px;height:5px;background:rgb(239,239,239)"></div><div class="px" style="left:707px;top:254px;width:5px;height:5px;background:rgb(217,217,217)"></div><div class="px" style="left:712px;top:254px;width:5px;height:5px;background:rgb(220,220,220)"></div><div class="px" style="left:717px;top:254px;width:5px;height:5px;background:rgb(239,239,239)"></div><div class="px" style="left:722px;top:254px;width:5px;height:5px;background:rgb(233,233,233)"></div><div class="px" style="left:727px;top:254px;width:5px;height:5px;background:rgb(216,216,216)"></div><div class="px" style="left:732px;top:254px;width:5px;height:5px;background:rgb(224,224,224)"></div><div class="px" style="left:737px;top:254px;width:5px;height:5px;background:rgb(239,239,239)"></div><div class="px" style="left:742px;top:254px;width:5px;height:5px;background:rgb(215,215,215)"></div><div class="px" style="left:652px;top:259px;width:5px;height:5px;background:rgb(182,182,182)"></div><div class="px" style="left:657px;top:259px;width:5px;height:5px;background:rgb(195,195,195)"></div><div class="px" style="left:662px;top:259px;width:5px;height:5px;background:rgb(203,203,203)"></div><div class="px" style="left:667px;top:259px;width:5px;height:5px;background:rgb(211,211,211)"></div><div class="px" style="left:672px;top:259px;width:5px;height:5px;background:rgb(189,189,189)"></div><div class="px" style="left:677px;top:259px;width:5px;height:5px;background:rgb(210,210,210)"></div><div class="px" style="left:682px;top:259px;width:5px;height:5px;background:rgb(215,215,215)"></div><div class="px" style="left:687px;top:259px;width:5px;height:5px;background:rgb(192,192,192)"></div><div class="px" style="left:692px;top:259px;width:5px;height:5px;background:rgb(190,190,190)"></div><div class="px" style="left:697px;top:259px;width:5px;height:5px;background:rgb(211,211,211)"></div><div class="px" style="left:702px;top:259px;width:5px;height:5px;background:rgb(201,201,201)"></div><div class="px" style="left:707px;top:259px;width:5px;height:5px;background:rgb(193,193,193)"></div><div class="px" style="left:712px;top:259px;width:5px;height:5px;background:rgb(173,173,173)"></div><div class="px" style="left:717px;top:259px;width:5px;height:5px;background:rgb(188,188,188)"></div><div class="px" style="left:722px;top:259px;width:5px;height:5px;background:rgb(171,171,171)"></div><div class="px" style="left:727px;top:259px;width:5px;height:5px;background:rgb(167,167,167)"></div><div class="px" style="left:732px;top:259px;width:5px;height:5px;background:rgb(173,173,173)"></div><div class="px" style="left:737px;top:259px;width:5px;height:5px;background:rgb(196,196,196)"></div><div class="px" style="left:742px;top:259px;width:5px;height:5px;background:rgb(178,178,178)"></div><div class="px" style="left:652px;top:264px;width:5px;height:5px;background:rgb(221,221,221)"></div><div class="px" style="left:657px;top:264px;width:5px;height:5px;background:rgb(232,232,232)"></div><div class="px" style="left:662px;top:264px;width:5px;height:5px;background:rgb(224,224,224)"></div><div class="px" style="left:667px;top:264px;width:5px;height:5px;background:rgb(231,231,231)"></div><div class="px" style="left:672px;top:264px;width:5px;height:5px;background:rgb(237,237,237)"></div><div class="px" style="left:677px;top:264px;width:5px;height:5px;background:rgb(229,229,229)"></div><div class="px" style="left:682px;top:264px;width:5px;height:5px;background:rgb(227,227,227)"></div><div class="px" style="left:687px;top:264px;width:5px;height:5px;background:rgb(239,239,239)"></div><div class="px" style="left:692px;top:264px;width:5px;height:5px;background:rgb(231,231,231)"></div><div class="px" style="left:697px;top:264px;width:5px;height:5px;background:rgb(219,219,219)"></div><div class="px" style="left:702px;top:264px;width:5px;height:5px;background:rgb(226,226,226)"></div><div class="px" style="left:707px;top:264px;width:5px;height:5px;background:rgb(206,206,206)"></div><div class="px" style="left:712px;top:264px;width:5px;height:5px;background:rgb(222,222,222)"></div><div class="px" style="left:717px;top:264px;width:5px;height:5px;background:rgb(215,215,215)"></div><div class="px" style="left:722px;top:264px;width:5px;height:5px;background:rgb(225,225,225)"></div><div class="px" style="left:727px;top:264px;width:5px;height:5px;background:rgb(239,239,239)"></div><div class="px" style="left:732px;top:264px;width:5px;height:5px;background:rgb(211,211,211)"></div><div class="px" style="left:737px;top:264px;width:5px;height:5px;background:rgb(218,218,218)"></div><div class="px" style="left:742px;top:264px;width:5px;height:5px;background:rgb(222,222,222)"></div><div class="px" style="left:651px;top:273px;width:5px;height:5px;background:rgb(203,203,203)"></div><div class="px" style="left:656px;top:273px;width:5px;height:5px;background:rgb(192,192,192)"></div><div class="px" style="left:661px;top:273px;width:5px;height:5px;background:rgb(189,189,189)"></div><div class="px" style="left:666px;top:273px;width:5px;height:5px;background:rgb(215,215,215)"></div><div class="px" style="left:671px;top:273px;width:5px;height:5px;background:rgb(225,225,225)"></div><div class="px" style="left:676px;top:273px;width:5px;height:5px;background:rgb(215,215,215)"></div><div class="px" style="left:681px;top:273px;width:5px;height:5px;background:rgb(190,190,190)"></div><div class="px" style="left:651px;top:278px;width:5px;height:5px;background:rgb(227,227,227)"></div><div class="px" style="left:656px;top:278px;width:5px;height:5px;background:rgb(209,209,209)"></div><div class="px" style="left:661px;top:278px;width:5px;height:5px;background:rgb(231,231,231)"></div><div class="px" style="left:666px;top:278px;width:5px;height:5px;background:rgb(214,214,214)"></div><div class="px" style="left:671px;top:278px;width:5px;height:5px;background:rgb(206,206,206)"></div><div class="px" style="left:676px;top:278px;width:5px;height:5px;background:rgb(223,223,223)"></div><div class="px" style="left:681px;top:278px;width:5px;height:5px;background:rgb(232,232,232)"></div><div class="px" style="left:653px;top:288px;width:5px;height:5px;background:rgb(206,206,206)"></div><div class="px" style="left:658px;top:288px;width:5px;height:5px;background:rgb(187,187,187)"></div><div class="px" style="left:663px;top:288px;width:5px;height:5px;background:rgb(182,182,182)"></div><div class="px" style="left:668px;top:288px;width:5px;height:5px;background:rgb(218,218,218)"></div><div class="px" style="left:673px;top:288px;width:5px;height:5px;background:rgb(219,219,219)"></div><div class="px" style="left:678px;top:288px;width:5px;height:5px;background:rgb(182,182,182)"></div><div class="px" style="left:683px;top:288px;width:5px;height:5px;background:rgb(204,204,204)"></div><div class="px" style="left:688px;top:288px;width:5px;height:5px;background:rgb(225,225,225)"></div><div class="px" style="left:693px;top:288px;width:5px;height:5px;background:rgb(217,217,217)"></div><div class="px" style="left:698px;top:288px;width:5px;height:5px;background:rgb(201,201,201)"></div><div class="px" style="left:703px;top:288px;width:5px;height:5px;background:rgb(215,215,215)"></div><div class="px" style="left:708px;top:288px;width:5px;height:5px;background:rgb(197,197,197)"></div><div class="px" style="left:713px;top:288px;width:5px;height:5px;background:rgb(212,212,212)"></div><div class="px" style="left:653px;top:293px;width:5px;height:5px;background:rgb(215,215,215)"></div><div class="px" style="left:658px;top:293px;width:5px;height:5px;background:rgb(202,202,202)"></div><div class="px" style="left:663px;top:293px;width:5px;height:5px;background:rgb(219,219,219)"></div><div class="px" style="left:668px;top:293px;width:5px;height:5px;background:rgb(200,200,200)"></div><div class="px" style="left:673px;top:293px;width:5px;height:5px;background:rgb(204,204,204)"></div><div class="px" style="left:678px;top:293px;width:5px;height:5px;background:rgb(206,206,206)"></div><div class="px" style="left:683px;top:293px;width:5px;height:5px;background:rgb(234,234,234)"></div><div class="px" style="left:688px;top:293px;width:5px;height:5px;background:rgb(202,202,202)"></div><div class="px" style="left:693px;top:293px;width:5px;height:5px;background:rgb(212,212,212)"></div><div class="px" style="left:698px;top:293px;width:5px;height:5px;background:rgb(226,226,226)"></div><div class="px" style="left:703px;top:293px;width:5px;height:5px;background:rgb(218,218,218)"></div><div class="px" style="left:708px;top:293px;width:5px;height:5px;background:rgb(216,216,216)"></div><div class="px" style="left:713px;top:293px;width:5px;height:5px;background:rgb(209,209,209)"></div><!--/MAP-->
<!--TABLE-->
<div class="a" style="left:202px;top:517px;width:1152px;height:4px;background:#2d2e31"></div>
<div class="a" style="left:202px;top:531px;width:1152px;height:454px;border:1px solid #46494e;border-radius:8px;background:#22252b"></div>
<div class="a" style="left:203px;top:570px;width:1150px;height:1px;background:#4c4f54"></div>
<div class="a" style="left:283px;top:539px;width:2px;height:24px;background:#3a3d42"></div>
<div class="a" style="left:442px;top:539px;width:2px;height:24px;background:#3a3d42"></div>
<div class="a" style="left:213px;top:543px;font-size:14px;font-weight:bold;color:#fff;line-height:16px;letter-spacing:-0.5px;white-space:nowrap">Zip Code</div>
<div class="a" style="left:292.5px;top:543px;font-size:14px;font-weight:bold;color:#fff;line-height:16px;letter-spacing:-0.5px;white-space:nowrap">City</div>
<svg class="a" style="left:1135px;top:541px;width:20px;height:20px;fill:#fff" viewBox="0 0 24 24"><path d="M20 12l-1.41-1.41L13 16.17V4h-2v12.17l-5.58-5.59L4 12l8 8 8-8z"/></svg>
<div class="a" style="left:1161px;top:543px;font-size:14px;font-weight:bold;color:#fff;line-height:16px;letter-spacing:-0.57px;white-space:nowrap">Conversion (Wilson score, %)</div>
<div class="a" style="left:203px;top:607px;width:1150px;height:1px;background:#4c4f54"></div>
<div class="a" style="left:205px;top:605px;width:55px;height:5px;background:#2a2c31"></div>
<div class="a" style="left:288px;top:605px;width:145px;height:5px;background:#2a2c31"></div>
<div class="a" style="left:491px;top:605px;width:60px;height:5px;background:#2a2c31"></div>
<div class="px" style="left:210px;top:581px;width:5px;height:5px;background:rgb(124,124,127)"></div>
<div class="px" style="left:215px;top:581px;width:5px;height:5px;background:rgb(89,89,92)"></div>
<div class="px" style="left:220px;top:581px;width:5px;height:5px;background:rgb(130,130,133)"></div>
<div class="px" style="left:225px;top:581px;width:5px;height:5px;background:rgb(88,88,91)"></div>
<div class="px" style="left:230px;top:581px;width:5px;height:5px;background:rgb(103,103,106)"></div>
<div class="px" style="left:235px;top:581px;width:5px;height:5px;background:rgb(70,70,73)"></div>
<div class="px" style="left:240px;top:581px;width:5px;height:5px;background:rgb(115,115,118)"></div>
<div class="px" style="left:245px;top:581px;width:5px;height:5px;background:rgb(125,125,128)"></div>
<div class="px" style="left:250px;top:581px;width:5px;height:5px;background:rgb(73,73,76)"></div>
<div class="px" style="left:210px;top:586px;width:5px;height:5px;background:rgb(159,159,162)"></div>
<div class="px" style="left:215px;top:586px;width:5px;height:5px;background:rgb(68,68,71)"></div>
<div class="px" style="left:220px;top:586px;width:5px;height:5px;background:rgb(106,106,109)"></div>
<div class="px" style="left:225px;top:586px;width:5px;height:5px;background:rgb(160,160,163)"></div>
<div class="px" style="left:230px;top:586px;width:5px;height:5px;background:rgb(172,172,175)"></div>
<div class="px" style="left:235px;top:586px;width:5px;height:5px;background:rgb(145,145,148)"></div>
<div class="px" style="left:240px;top:586px;width:5px;height:5px;background:rgb(170,170,173)"></div>
<div class="px" style="left:245px;top:586px;width:5px;height:5px;background:rgb(145,145,148)"></div>
<div class="px" style="left:250px;top:586px;width:5px;height:5px;background:rgb(175,175,178)"></div>
<div class="px" style="left:210px;top:591px;width:5px;height:5px;background:rgb(170,170,173)"></div>
<div class="px" style="left:215px;top:591px;width:5px;height:5px;background:rgb(73,73,76)"></div>
<div class="px" style="left:220px;top:591px;width:5px;height:5px;background:rgb(78,78,81)"></div>
<div class="px" style="left:225px;top:591px;width:5px;height:5px;background:rgb(102,102,105)"></div>
<div class="px" style="left:230px;top:591px;width:5px;height:5px;background:rgb(67,67,70)"></div>
<div class="px" style="left:235px;top:591px;width:5px;height:5px;background:rgb(105,105,108)"></div>
<div class="px" style="left:240px;top:591px;width:5px;height:5px;background:rgb(71,71,74)"></div>
<div class="px" style="left:245px;top:591px;width:5px;height:5px;background:rgb(115,115,118)"></div>
<div class="px" style="left:250px;top:591px;width:5px;height:5px;background:rgb(90,90,93)"></div>
<div class="px" style="left:293px;top:581px;width:5px;height:5px;background:rgb(139,139,142)"></div>
<div class="px" style="left:298px;top:581px;width:5px;height:5px;background:rgb(104,104,107)"></div>
<div class="px" style="left:303px;top:581px;width:5px;height:5px;background:rgb(117,117,120)"></div>
<div class="px" style="left:308px;top:581px;width:5px;height:5px;background:rgb(120,120,123)"></div>
<div class="px" style="left:313px;top:581px;width:5px;height:5px;background:rgb(77,77,80)"></div>
<div class="px" style="left:318px;top:581px;width:5px;height:5px;background:rgb(124,124,127)"></div>
<div class="px" style="left:323px;top:581px;width:5px;height:5px;background:rgb(127,127,130)"></div>
<div class="px" style="left:328px;top:581px;width:5px;height:5px;background:rgb(89,89,92)"></div>
<div class="px" style="left:333px;top:581px;width:5px;height:5px;background:rgb(89,89,92)"></div>
<div class="px" style="left:338px;top:581px;width:5px;height:5px;background:rgb(121,121,124)"></div>
<div class="px" style="left:343px;top:581px;width:5px;height:5px;background:rgb(114,114,117)"></div>
<div class="px" style="left:348px;top:581px;width:5px;height:5px;background:rgb(118,118,121)"></div>
<div class="px" style="left:353px;top:581px;width:5px;height:5px;background:rgb(105,105,108)"></div>
<div class="px" style="left:358px;top:581px;width:5px;height:5px;background:rgb(103,103,106)"></div>
<div class="px" style="left:363px;top:581px;width:5px;height:5px;background:rgb(107,107,110)"></div>
<div class="px" style="left:368px;top:581px;width:5px;height:5px;background:rgb(115,115,118)"></div>
<div class="px" style="left:293px;top:586px;width:5px;height:5px;background:rgb(77,77,80)"></div>
<div class="px" style="left:298px;top:586px;width:5px;height:5px;background:rgb(153,153,156)"></div>
<div class="px" style="left:303px;top:586px;width:5px;height:5px;background:rgb(168,168,171)"></div>
<div class="px" style="left:308px;top:586px;width:5px;height:5px;background:rgb(177,177,180)"></div>
<div class="px" style="left:313px;top:586px;width:5px;height:5px;background:rgb(114,114,117)"></div>
<div class="px" style="left:318px;top:586px;width:5px;height:5px;background:rgb(146,146,149)"></div>
<div class="px" style="left:323px;top:586px;width:5px;height:5px;background:rgb(166,166,169)"></div>
<div class="px" style="left:328px;top:586px;width:5px;height:5px;background:rgb(182,182,185)"></div>
<div class="px" style="left:333px;top:586px;width:5px;height:5px;background:rgb(193,193,196)"></div>
<div class="px" style="left:338px;top:586px;width:5px;height:5px;background:rgb(196,196,199)"></div>
<div class="px" style="left:343px;top:586px;width:5px;height:5px;background:rgb(82,82,85)"></div>
<div class="px" style="left:348px;top:586px;width:5px;height:5px;background:rgb(88,88,91)"></div>
<div class="px" style="left:353px;top:586px;width:5px;height:5px;background:rgb(174,174,177)"></div>
<div class="px" style="left:358px;top:586px;width:5px;height:5px;background:rgb(96,96,99)"></div>
<div class="px" style="left:363px;top:586px;width:5px;height:5px;background:rgb(155,155,158)"></div>
<div class="px" style="left:368px;top:586px;width:5px;height:5px;background:rgb(160,160,163)"></div>
<div class="px" style="left:293px;top:591px;width:5px;height:5px;background:rgb(114,114,117)"></div>
<div class="px" style="left:298px;top:591px;width:5px;height:5px;background:rgb(115,115,118)"></div>
<div class="px" style="left:303px;top:591px;width:5px;height:5px;background:rgb(78,78,81)"></div>
<div class="px" style="left:308px;top:591px;width:5px;height:5px;background:rgb(130,130,133)"></div>
<div class="px" style="left:313px;top:591px;width:5px;height:5px;background:rgb(135,135,138)"></div>
<div class="px" style="left:318px;top:591px;width:5px;height:5px;background:rgb(155,155,158)"></div>
<div class="px" style="left:323px;top:591px;width:5px;height:5px;background:rgb(127,127,130)"></div>
<div class="px" style="left:328px;top:591px;width:5px;height:5px;background:rgb(87,87,90)"></div>
<div class="px" style="left:333px;top:591px;width:5px;height:5px;background:rgb(113,113,116)"></div>
<div class="px" style="left:338px;top:591px;width:5px;height:5px;background:rgb(126,126,129)"></div>
<div class="px" style="left:343px;top:591px;width:5px;height:5px;background:rgb(74,74,77)"></div>
<div class="px" style="left:348px;top:591px;width:5px;height:5px;background:rgb(91,91,94)"></div>
<div class="px" style="left:353px;top:591px;width:5px;height:5px;background:rgb(113,113,116)"></div>
<div class="px" style="left:358px;top:591px;width:5px;height:5px;background:rgb(122,122,125)"></div>
<div class="px" style="left:363px;top:591px;width:5px;height:5px;background:rgb(70,70,73)"></div>
<div class="px" style="left:368px;top:591px;width:5px;height:5px;background:rgb(112,112,115)"></div>
<div class="a" style="left:453px;top:581px;width:135px;height:16px;border-radius:8px;background:#47494d"></div>
<div class="a" style="left:491px;top:578px;width:60px;height:5px;background:#2a2c31"></div>
<div class="a" style="left:491px;top:583px;width:60px;height:15px;background:#3e4044"></div>
<div class="px" style="left:500px;top:583px;width:5px;height:5px;background:rgb(78,78,81)"></div>
<div class="px" style="left:505px;top:583px;width:5px;height:5px;background:rgb(78,78,81)"></div>
<div class="px" style="left:510px;top:583px;width:5px;height:5px;background:rgb(111,111,114)"></div>
<div class="px" style="left:515px;top:583px;width:5px;height:5px;background:rgb(103,103,106)"></div>
<div class="px" style="left:520px;top:583px;width:5px;height:5px;background:rgb(78,78,81)"></div>
<div class="px" style="left:525px;top:583px;width:5px;height:5px;background:rgb(71,71,74)"></div>
<div class="px" style="left:530px;top:583px;width:5px;height:5px;background:rgb(92,92,95)"></div>
<div class="px" style="left:535px;top:583px;width:5px;height:5px;background:rgb(92,92,95)"></div>
<div class="px" style="left:500px;top:588px;width:5px;height:5px;background:rgb(160,160,163)"></div>
<div class="px" style="left:505px;top:588px;width:5px;height:5px;background:rgb(124,124,127)"></div>
<div class="px" style="left:510px;top:588px;width:5px;height:5px;background:rgb(140,140,143)"></div>
<div class="px" style="left:515px;top:588px;width:5px;height:5px;background:rgb(124,124,127)"></div>
<div class="px" style="left:520px;top:588px;width:5px;height:5px;background:rgb(154,154,157)"></div>
<div class="px" style="left:525px;top:588px;width:5px;height:5px;background:rgb(122,122,125)"></div>
<div class="px" style="left:530px;top:588px;width:5px;height:5px;background:rgb(78,78,81)"></div>
<div class="px" style="left:535px;top:588px;width:5px;height:5px;background:rgb(91,91,94)"></div>
<div class="px" style="left:500px;top:593px;width:5px;height:5px;background:rgb(100,100,103)"></div>
<div class="px" style="left:505px;top:593px;width:5px;height:5px;background:rgb(145,145,148)"></div>
<div class="px" style="left:510px;top:593px;width:5px;height:5px;background:rgb(140,140,143)"></div>
<div class="px" style="left:515px;top:593px;width:5px;height:5px;background:rgb(101,101,104)"></div>
<div class="px" style="left:520px;top:593px;width:5px;height:5px;background:rgb(109,109,112)"></div>
<div class="px" style="left:525px;top:593px;width:5px;height:5px;background:rgb(94,94,97)"></div>
<div class="px" style="left:530px;top:593px;width:5px;height:5px;background:rgb(108,108,111)"></div>
<div class="px" style="left:535px;top:593px;width:5px;height:5px;background:rgb(75,75,78)"></div>
<div class="a" style="left:596px;top:585px;width:683px;height:8px;border-radius:4px;background:#1c3a63;overflow:hidden"><div style="width:27px;height:8px;background:#3b76c8"></div></div>
<div class="a" style="left:1300px;top:581px;width:43px;text-align:right;font-size:12px;font-weight:bold;color:#e6e6e6;line-height:14px;letter-spacing:-0.45px;white-space:nowrap">W 4%</div>
<div class="a" style="left:203px;top:643px;width:1150px;height:1px;background:#4c4f54"></div>
<div class="a" style="left:205px;top:641px;width:55px;height:5px;background:#2a2c31"></div>
<div class="a" style="left:288px;top:641px;width:145px;height:5px;background:#2a2c31"></div>
<div class="a" style="left:491px;top:641px;width:60px;height:5px;background:#2a2c31"></div>
<div class="px" style="left:210px;top:617px;width:5px;height:5px;background:rgb(97,97,100)"></div>
<div class="px" style="left:215px;top:617px;width:5px;height:5px;background:rgb(147,147,150)"></div>
<div class="px" style="left:220px;top:617px;width:5px;height:5px;background:rgb(123,123,126)"></div>
<div class="px" style="left:225px;top:617px;width:5px;height:5px;background:rgb(75,75,78)"></div>
<div class="px" style="left:230px;top:617px;width:5px;height:5px;background:rgb(130,130,133)"></div>
<div class="px" style="left:235px;top:617px;width:5px;height:5px;background:rgb(76,76,79)"></div>
<div class="px" style="left:240px;top:617px;width:5px;height:5px;background:rgb(94,94,97)"></div>
<div class="px" style="left:245px;top:617px;width:5px;height:5px;background:rgb(119,119,122)"></div>
<div class="px" style="left:250px;top:617px;width:5px;height:5px;background:rgb(127,127,130)"></div>
<div class="px" style="left:210px;top:622px;width:5px;height:5px;background:rgb(136,136,139)"></div>
<div class="px" style="left:215px;top:622px;width:5px;height:5px;background:rgb(153,153,156)"></div>
<div class="px" style="left:220px;top:622px;width:5px;height:5px;background:rgb(160,160,163)"></div>
<div class="px" style="left:225px;top:622px;width:5px;height:5px;background:rgb(178,178,181)"></div>
<div class="px" style="left:230px;top:622px;width:5px;height:5px;background:rgb(191,191,194)"></div>
<div class="px" style="left:235px;top:622px;width:5px;height:5px;background:rgb(165,165,168)"></div>
<div class="px" style="left:240px;top:622px;width:5px;height:5px;background:rgb(167,167,170)"></div>
<div class="px" style="left:245px;top:622px;width:5px;height:5px;background:rgb(190,190,193)"></div>
<div class="px" style="left:250px;top:622px;width:5px;height:5px;background:rgb(90,90,93)"></div>
<div class="px" style="left:210px;top:627px;width:5px;height:5px;background:rgb(154,154,157)"></div>
<div class="px" style="left:215px;top:627px;width:5px;height:5px;background:rgb(105,105,108)"></div>
<div class="px" style="left:220px;top:627px;width:5px;height:5px;background:rgb(82,82,85)"></div>
<div class="px" style="left:225px;top:627px;width:5px;height:5px;background:rgb(70,70,73)"></div>
<div class="px" style="left:230px;top:627px;width:5px;height:5px;background:rgb(140,140,143)"></div>
<div class="px" style="left:235px;top:627px;width:5px;height:5px;background:rgb(119,119,122)"></div>
<div class="px" style="left:240px;top:627px;width:5px;height:5px;background:rgb(100,100,103)"></div>
<div class="px" style="left:245px;top:627px;width:5px;height:5px;background:rgb(157,157,160)"></div>
<div class="px" style="left:250px;top:627px;width:5px;height:5px;background:rgb(128,128,131)"></div>
<div class="px" style="left:293px;top:617px;width:5px;height:5px;background:rgb(122,122,125)"></div>
<div class="px" style="left:298px;top:617px;width:5px;height:5px;background:rgb(69,69,72)"></div>
<div class="px" style="left:303px;top:617px;width:5px;height:5px;background:rgb(70,70,73)"></div>
<div class="px" style="left:308px;top:617px;width:5px;height:5px;background:rgb(100,100,103)"></div>
<div class="px" style="left:313px;top:617px;width:5px;height:5px;background:rgb(104,104,107)"></div>
<div class="px" style="left:318px;top:617px;width:5px;height:5px;background:rgb(67,67,70)"></div>
<div class="px" style="left:323px;top:617px;width:5px;height:5px;background:rgb(116,116,119)"></div>
<div class="px" style="left:328px;top:617px;width:5px;height:5px;background:rgb(68,68,71)"></div>
<div class="px" style="left:333px;top:617px;width:5px;height:5px;background:rgb(139,139,142)"></div>
<div class="px" style="left:293px;top:622px;width:5px;height:5px;background:rgb(153,153,156)"></div>
<div class="px" style="left:298px;top:622px;width:5px;height:5px;background:rgb(79,79,82)"></div>
<div class="px" style="left:303px;top:622px;width:5px;height:5px;background:rgb(182,182,185)"></div>
<div class="px" style="left:308px;top:622px;width:5px;height:5px;background:rgb(90,90,93)"></div>
<div class="px" style="left:313px;top:622px;width:5px;height:5px;background:rgb(195,195,198)"></div>
<div class="px" style="left:318px;top:622px;width:5px;height:5px;background:rgb(136,136,139)"></div>
<div class="px" style="left:323px;top:622px;width:5px;height:5px;background:rgb(69,69,72)"></div>
<div class="px" style="left:328px;top:622px;width:5px;height:5px;background:rgb(169,169,172)"></div>
<div class="px" style="left:333px;top:622px;width:5px;height:5px;background:rgb(129,129,132)"></div>
<div class="px" style="left:293px;top:627px;width:5px;height:5px;background:rgb(85,85,88)"></div>
<div class="px" style="left:298px;top:627px;width:5px;height:5px;background:rgb(93,93,96)"></div>
<div class="px" style="left:303px;top:627px;width:5px;height:5px;background:rgb(114,114,117)"></div>
<div class="px" style="left:308px;top:627px;width:5px;height:5px;background:rgb(123,123,126)"></div>
<div class="px" style="left:313px;top:627px;width:5px;height:5px;background:rgb(65,65,68)"></div>
<div class="px" style="left:318px;top:627px;width:5px;height:5px;background:rgb(129,129,132)"></div>
<div class="px" style="left:323px;top:627px;width:5px;height:5px;background:rgb(148,148,151)"></div>
<div class="px" style="left:328px;top:627px;width:5px;height:5px;background:rgb(91,91,94)"></div>
<div class="px" style="left:333px;top:627px;width:5px;height:5px;background:rgb(80,80,83)"></div>
<div class="a" style="left:453px;top:617px;width:135px;height:16px;border-radius:8px;background:#47494d"></div>
<div class="a" style="left:491px;top:614px;width:60px;height:5px;background:#2a2c31"></div>
<div class="a" style="left:491px;top:619px;width:60px;height:15px;background:#3e4044"></div>
<div class="px" style="left:502px;top:619px;width:5px;height:5px;background:rgb(94,94,97)"></div>
<div class="px" style="left:507px;top:619px;width:5px;height:5px;background:rgb(109,109,112)"></div>
<div class="px" style="left:512px;top:619px;width:5px;height:5px;background:rgb(90,90,93)"></div>
<div class="px" style="left:517px;top:619px;width:5px;height:5px;background:rgb(71,71,74)"></div>
<div class="px" style="left:522px;top:619px;width:5px;height:5px;background:rgb(75,75,78)"></div>
<div class="px" style="left:527px;top:619px;width:5px;height:5px;background:rgb(91,91,94)"></div>
<div class="px" style="left:532px;top:619px;width:5px;height:5px;background:rgb(87,87,90)"></div>
<div class="px" style="left:502px;top:624px;width:5px;height:5px;background:rgb(121,121,124)"></div>
<div class="px" style="left:507px;top:624px;width:5px;height:5px;background:rgb(175,175,178)"></div>
<div class="px" style="left:512px;top:624px;width:5px;height:5px;background:rgb(171,171,174)"></div>
<div class="px" style="left:517px;top:624px;width:5px;height:5px;background:rgb(154,154,157)"></div>
<div class="px" style="left:522px;top:624px;width:5px;height:5px;background:rgb(170,170,173)"></div>
<div class="px" style="left:527px;top:624px;width:5px;height:5px;background:rgb(100,100,103)"></div>
<div class="px" style="left:532px;top:624px;width:5px;height:5px;background:rgb(153,153,156)"></div>
<div class="px" style="left:502px;top:629px;width:5px;height:5px;background:rgb(123,123,126)"></div>
<div class="px" style="left:507px;top:629px;width:5px;height:5px;background:rgb(134,134,137)"></div>
<div class="px" style="left:512px;top:629px;width:5px;height:5px;background:rgb(101,101,104)"></div>
<div class="px" style="left:517px;top:629px;width:5px;height:5px;background:rgb(75,75,78)"></div>
<div class="px" style="left:522px;top:629px;width:5px;height:5px;background:rgb(118,118,121)"></div>
<div class="px" style="left:527px;top:629px;width:5px;height:5px;background:rgb(88,88,91)"></div>
<div class="px" style="left:532px;top:629px;width:5px;height:5px;background:rgb(125,125,128)"></div>
<div class="a" style="left:596px;top:621px;width:683px;height:8px;border-radius:4px;background:#1c3a63;overflow:hidden"><div style="width:26px;height:8px;background:#3b76c8"></div></div>
<div class="a" style="left:1300px;top:617px;width:43px;text-align:right;font-size:12px;font-weight:bold;color:#e6e6e6;line-height:14px;letter-spacing:-0.45px;white-space:nowrap">W 4%</div>
<div class="a" style="left:203px;top:679px;width:1150px;height:1px;background:#4c4f54"></div>
<div class="a" style="left:205px;top:677px;width:55px;height:5px;background:#2a2c31"></div>
<div class="a" style="left:288px;top:677px;width:145px;height:5px;background:#2a2c31"></div>
<div class="a" style="left:491px;top:677px;width:60px;height:5px;background:#2a2c31"></div>
<div class="px" style="left:210px;top:653px;width:5px;height:5px;background:rgb(130,130,133)"></div>
<div class="px" style="left:215px;top:653px;width:5px;height:5px;background:rgb(137,137,140)"></div>
<div class="px" style="left:220px;top:653px;width:5px;height:5px;background:rgb(113,113,116)"></div>
<div class="px" style="left:225px;top:653px;width:5px;height:5px;background:rgb(131,131,134)"></div>
<div class="px" style="left:230px;top:653px;width:5px;height:5px;background:rgb(83,83,86)"></div>
<div class="px" style="left:235px;top:653px;width:5px;height:5px;background:rgb(139,139,142)"></div>
<div class="px" style="left:240px;top:653px;width:5px;height:5px;background:rgb(90,90,93)"></div>
<div class="px" style="left:245px;top:653px;width:5px;height:5px;background:rgb(79,79,82)"></div>
<div class="px" style="left:250px;top:653px;width:5px;height:5px;background:rgb(113,113,116)"></div>
<div class="px" style="left:210px;top:658px;width:5px;height:5px;background:rgb(140,140,143)"></div>
<div class="px" style="left:215px;top:658px;width:5px;height:5px;background:rgb(186,186,189)"></div>
<div class="px" style="left:220px;top:658px;width:5px;height:5px;background:rgb(150,150,153)"></div>
<div class="px" style="left:225px;top:658px;width:5px;height:5px;background:rgb(156,156,159)"></div>
<div class="px" style="left:230px;top:658px;width:5px;height:5px;background:rgb(193,193,196)"></div>
<div class="px" style="left:235px;top:658px;width:5px;height:5px;background:rgb(186,186,189)"></div>
<div class="px" style="left:240px;top:658px;width:5px;height:5px;background:rgb(195,195,198)"></div>
<div class="px" style="left:245px;top:658px;width:5px;height:5px;background:rgb(178,178,181)"></div>
<div class="px" style="left:250px;top:658px;width:5px;height:5px;background:rgb(195,195,198)"></div>
<div class="px" style="left:210px;top:663px;width:5px;height:5px;background:rgb(78,78,81)"></div>
<div class="px" style="left:215px;top:663px;width:5px;height:5px;background:rgb(68,68,71)"></div>
<div class="px" style="left:220px;top:663px;width:5px;height:5px;background:rgb(121,121,124)"></div>
<div class="px" style="left:225px;top:663px;width:5px;height:5px;background:rgb(107,107,110)"></div>
<div class="px" style="left:230px;top:663px;width:5px;height:5px;background:rgb(84,84,87)"></div>
<div class="px" style="left:235px;top:663px;width:5px;height:5px;background:rgb(101,101,104)"></div>
<div class="px" style="left:240px;top:663px;width:5px;height:5px;background:rgb(110,110,113)"></div>
<div class="px" style="left:245px;top:663px;width:5px;height:5px;background:rgb(128,128,131)"></div>
<div class="px" style="left:250px;top:663px;width:5px;height:5px;background:rgb(80,80,83)"></div>
<div class="px" style="left:293px;top:653px;width:5px;height:5px;background:rgb(137,137,140)"></div>
<div class="px" style="left:298px;top:653px;width:5px;height:5px;background:rgb(160,160,163)"></div>
<div class="px" style="left:303px;top:653px;width:5px;height:5px;background:rgb(117,117,120)"></div>
<div class="px" style="left:308px;top:653px;width:5px;height:5px;background:rgb(125,125,128)"></div>
<div class="px" style="left:313px;top:653px;width:5px;height:5px;background:rgb(92,92,95)"></div>
<div class="px" style="left:318px;top:653px;width:5px;height:5px;background:rgb(82,82,85)"></div>
<div class="px" style="left:323px;top:653px;width:5px;height:5px;background:rgb(109,109,112)"></div>
<div class="px" style="left:328px;top:653px;width:5px;height:5px;background:rgb(145,145,148)"></div>
<div class="px" style="left:333px;top:653px;width:5px;height:5px;background:rgb(89,89,92)"></div>
<div class="px" style="left:338px;top:653px;width:5px;height:5px;background:rgb(89,89,92)"></div>
<div class="px" style="left:343px;top:653px;width:5px;height:5px;background:rgb(122,122,125)"></div>
<div class="px" style="left:348px;top:653px;width:5px;height:5px;background:rgb(121,121,124)"></div>
<div class="px" style="left:353px;top:653px;width:5px;height:5px;background:rgb(138,138,141)"></div>
<div class="px" style="left:358px;top:653px;width:5px;height:5px;background:rgb(120,120,123)"></div>
<div class="px" style="left:363px;top:653px;width:5px;height:5px;background:rgb(158,158,161)"></div>
<div class="px" style="left:368px;top:653px;width:5px;height:5px;background:rgb(81,81,84)"></div>
<div class="px" style="left:373px;top:653px;width:5px;height:5px;background:rgb(67,67,70)"></div>
<div class="px" style="left:378px;top:653px;width:5px;height:5px;background:rgb(110,110,113)"></div>
<div class="px" style="left:383px;top:653px;width:5px;height:5px;background:rgb(151,151,154)"></div>
<div class="px" style="left:388px;top:653px;width:5px;height:5px;background:rgb(129,129,132)"></div>
<div class="px" style="left:393px;top:653px;width:5px;height:5px;background:rgb(108,108,111)"></div>
<div class="px" style="left:293px;top:658px;width:5px;height:5px;background:rgb(159,159,162)"></div>
<div class="px" style="left:298px;top:658px;width:5px;height:5px;background:rgb(126,126,129)"></div>
<div class="px" style="left:303px;top:658px;width:5px;height:5px;background:rgb(139,139,142)"></div>
<div class="px" style="left:308px;top:658px;width:5px;height:5px;background:rgb(130,130,133)"></div>
<div class="px" style="left:313px;top:658px;width:5px;height:5px;background:rgb(126,126,129)"></div>
<div class="px" style="left:318px;top:658px;width:5px;height:5px;background:rgb(158,158,161)"></div>
<div class="px" style="left:323px;top:658px;width:5px;height:5px;background:rgb(157,157,160)"></div>
<div class="px" style="left:328px;top:658px;width:5px;height:5px;background:rgb(101,101,104)"></div>
<div class="px" style="left:333px;top:658px;width:5px;height:5px;background:rgb(77,77,80)"></div>
<div class="px" style="left:338px;top:658px;width:5px;height:5px;background:rgb(152,152,155)"></div>
<div class="px" style="left:343px;top:658px;width:5px;height:5px;background:rgb(124,124,127)"></div>
<div class="px" style="left:348px;top:658px;width:5px;height:5px;background:rgb(147,147,150)"></div>
<div class="px" style="left:353px;top:658px;width:5px;height:5px;background:rgb(194,194,197)"></div>
<div class="px" style="left:358px;top:658px;width:5px;height:5px;background:rgb(180,180,183)"></div>
<div class="px" style="left:363px;top:658px;width:5px;height:5px;background:rgb(182,182,185)"></div>
<div class="px" style="left:368px;top:658px;width:5px;height:5px;background:rgb(140,140,143)"></div>
<div class="px" style="left:373px;top:658px;width:5px;height:5px;background:rgb(88,88,91)"></div>
<div class="px" style="left:378px;top:658px;width:5px;height:5px;background:rgb(181,181,184)"></div>
<div class="px" style="left:383px;top:658px;width:5px;height:5px;background:rgb(186,186,189)"></div>
<div class="px" style="left:388px;top:658px;width:5px;height:5px;background:rgb(86,86,89)"></div>
<div class="px" style="left:393px;top:658px;width:5px;height:5px;background:rgb(136,136,139)"></div>
<div class="px" style="left:293px;top:663px;width:5px;height:5px;background:rgb(75,75,78)"></div>
<div class="px" style="left:298px;top:663px;width:5px;height:5px;background:rgb(156,156,159)"></div>
<div class="px" style="left:303px;top:663px;width:5px;height:5px;background:rgb(89,89,92)"></div>
<div class="px" style="left:308px;top:663px;width:5px;height:5px;background:rgb(108,108,111)"></div>
<div class="px" style="left:313px;top:663px;width:5px;height:5px;background:rgb(138,138,141)"></div>
<div class="px" style="left:318px;top:663px;width:5px;height:5px;background:rgb(79,79,82)"></div>
<div class="px" style="left:323px;top:663px;width:5px;height:5px;background:rgb(125,125,128)"></div>
<div class="px" style="left:328px;top:663px;width:5px;height:5px;background:rgb(156,156,159)"></div>
<div class="px" style="left:333px;top:663px;width:5px;height:5px;background:rgb(107,107,110)"></div>
<div class="px" style="left:338px;top:663px;width:5px;height:5px;background:rgb(152,152,155)"></div>
<div class="px" style="left:343px;top:663px;width:5px;height:5px;background:rgb(128,128,131)"></div>
<div class="px" style="left:348px;top:663px;width:5px;height:5px;background:rgb(88,88,91)"></div>
<div class="px" style="left:353px;top:663px;width:5px;height:5px;background:rgb(108,108,111)"></div>
<div class="px" style="left:358px;top:663px;width:5px;height:5px;background:rgb(77,77,80)"></div>
<div class="px" style="left:363px;top:663px;width:5px;height:5px;background:rgb(110,110,113)"></div>
<div class="px" style="left:368px;top:663px;width:5px;height:5px;background:rgb(111,111,114)"></div>
<div class="px" style="left:373px;top:663px;width:5px;height:5px;background:rgb(103,103,106)"></div>
<div class="px" style="left:378px;top:663px;width:5px;height:5px;background:rgb(116,116,119)"></div>
<div class="px" style="left:383px;top:663px;width:5px;height:5px;background:rgb(74,74,77)"></div>
<div class="px" style="left:388px;top:663px;width:5px;height:5px;background:rgb(128,128,131)"></div>
<div class="px" style="left:393px;top:663px;width:5px;height:5px;background:rgb(80,80,83)"></div>
<div class="a" style="left:453px;top:653px;width:135px;height:16px;border-radius:8px;background:#47494d"></div>
<div class="a" style="left:491px;top:650px;width:60px;height:5px;background:#2a2c31"></div>
<div class="a" style="left:491px;top:655px;width:60px;height:15px;background:#3e4044"></div>
<div class="px" style="left:505px;top:655px;width:5px;height:5px;background:rgb(126,126,129)"></div>
<div class="px" style="left:510px;top:655px;width:5px;height:5px;background:rgb(109,109,112)"></div>
<div class="px" style="left:515px;top:655px;width:5px;height:5px;background:rgb(85,85,88)"></div>
<div class="px" style="left:520px;top:655px;width:5px;height:5px;background:rgb(95,95,98)"></div>
<div class="px" style="left:525px;top:655px;width:5px;height:5px;background:rgb(82,82,85)"></div>
<div class="px" style="left:530px;top:655px;width:5px;height:5px;background:rgb(70,70,73)"></div>
<div class="px" style="left:505px;top:660px;width:5px;height:5px;background:rgb(136,136,139)"></div>
<div class="px" style="left:510px;top:660px;width:5px;height:5px;background:rgb(141,141,144)"></div>
<div class="px" style="left:515px;top:660px;width:5px;height:5px;background:rgb(152,152,155)"></div>
<div class="px" style="left:520px;top:660px;width:5px;height:5px;background:rgb(153,153,156)"></div>
<div class="px" style="left:525px;top:660px;width:5px;height:5px;background:rgb(126,126,129)"></div>
<div class="px" style="left:530px;top:660px;width:5px;height:5px;background:rgb(171,171,174)"></div>
<div class="px" style="left:505px;top:665px;width:5px;height:5px;background:rgb(105,105,108)"></div>
<div class="px" style="left:510px;top:665px;width:5px;height:5px;background:rgb(72,72,75)"></div>
<div class="px" style="left:515px;top:665px;width:5px;height:5px;background:rgb(80,80,83)"></div>
<div class="px" style="left:520px;top:665px;width:5px;height:5px;background:rgb(80,80,83)"></div>
<div class="px" style="left:525px;top:665px;width:5px;height:5px;background:rgb(124,124,127)"></div>
<div class="px" style="left:530px;top:665px;width:5px;height:5px;background:rgb(73,73,76)"></div>
<div class="a" style="left:596px;top:657px;width:683px;height:8px;border-radius:4px;background:#1c3a63;overflow:hidden"><div style="width:26px;height:8px;background:#3b76c8"></div></div>
<div class="a" style="left:1300px;top:653px;width:43px;text-align:right;font-size:12px;font-weight:bold;color:#e6e6e6;line-height:14px;letter-spacing:-0.45px;white-space:nowrap">W 4%</div>
<div class="a" style="left:203px;top:715px;width:1150px;height:1px;background:#4c4f54"></div>
<div class="a" style="left:205px;top:713px;width:55px;height:5px;background:#2a2c31"></div>
<div class="a" style="left:288px;top:713px;width:145px;height:5px;background:#2a2c31"></div>
<div class="a" style="left:491px;top:713px;width:60px;height:5px;background:#2a2c31"></div>
<div class="px" style="left:210px;top:689px;width:5px;height:5px;background:rgb(128,128,131)"></div>
<div class="px" style="left:215px;top:689px;width:5px;height:5px;background:rgb(116,116,119)"></div>
<div class="px" style="left:220px;top:689px;width:5px;height:5px;background:rgb(111,111,114)"></div>
<div class="px" style="left:225px;top:689px;width:5px;height:5px;background:rgb(126,126,129)"></div>
<div class="px" style="left:230px;top:689px;width:5px;height:5px;background:rgb(101,101,104)"></div>
<div class="px" style="left:235px;top:689px;width:5px;height:5px;background:rgb(102,102,105)"></div>
<div class="px" style="left:240px;top:689px;width:5px;height:5px;background:rgb(96,96,99)"></div>
<div class="px" style="left:245px;top:689px;width:5px;height:5px;background:rgb(85,85,88)"></div>
<div class="px" style="left:210px;top:694px;width:5px;height:5px;background:rgb(184,184,187)"></div>
<div class="px" style="left:215px;top:694px;width:5px;height:5px;background:rgb(175,175,178)"></div>
<div class="px" style="left:220px;top:694px;width:5px;height:5px;background:rgb(141,141,144)"></div>
<div class="px" style="left:225px;top:694px;width:5px;height:5px;background:rgb(175,175,178)"></div>
<div class="px" style="left:230px;top:694px;width:5px;height:5px;background:rgb(163,163,166)"></div>
<div class="px" style="left:235px;top:694px;width:5px;height:5px;background:rgb(196,196,199)"></div>
<div class="px" style="left:240px;top:694px;width:5px;height:5px;background:rgb(166,166,169)"></div>
<div class="px" style="left:245px;top:694px;width:5px;height:5px;background:rgb(147,147,150)"></div>
<div class="px" style="left:210px;top:699px;width:5px;height:5px;background:rgb(164,164,167)"></div>
<div class="px" style="left:215px;top:699px;width:5px;height:5px;background:rgb(96,96,99)"></div>
<div class="px" style="left:220px;top:699px;width:5px;height:5px;background:rgb(79,79,82)"></div>
<div class="px" style="left:225px;top:699px;width:5px;height:5px;background:rgb(118,118,121)"></div>
<div class="px" style="left:230px;top:699px;width:5px;height:5px;background:rgb(91,91,94)"></div>
<div class="px" style="left:235px;top:699px;width:5px;height:5px;background:rgb(150,150,153)"></div>
<div class="px" style="left:240px;top:699px;width:5px;height:5px;background:rgb(80,80,83)"></div>
<div class="px" style="left:245px;top:699px;width:5px;height:5px;background:rgb(82,82,85)"></div>
<div class="px" style="left:293px;top:689px;width:5px;height:5px;background:rgb(123,123,126)"></div>
<div class="px" style="left:298px;top:689px;width:5px;height:5px;background:rgb(118,118,121)"></div>
<div class="px" style="left:303px;top:689px;width:5px;height:5px;background:rgb(82,82,85)"></div>
<div class="px" style="left:308px;top:689px;width:5px;height:5px;background:rgb(121,121,124)"></div>
<div class="px" style="left:313px;top:689px;width:5px;height:5px;background:rgb(79,79,82)"></div>
<div class="px" style="left:318px;top:689px;width:5px;height:5px;background:rgb(104,104,107)"></div>
<div class="px" style="left:323px;top:689px;width:5px;height:5px;background:rgb(150,150,153)"></div>
<div class="px" style="left:328px;top:689px;width:5px;height:5px;background:rgb(89,89,92)"></div>
<div class="px" style="left:333px;top:689px;width:5px;height:5px;background:rgb(95,95,98)"></div>
<div class="px" style="left:338px;top:689px;width:5px;height:5px;background:rgb(96,96,99)"></div>
<div class="px" style="left:343px;top:689px;width:5px;height:5px;background:rgb(90,90,93)"></div>
<div class="px" style="left:348px;top:689px;width:5px;height:5px;background:rgb(110,110,113)"></div>
<div class="px" style="left:353px;top:689px;width:5px;height:5px;background:rgb(66,66,69)"></div>
<div class="px" style="left:293px;top:694px;width:5px;height:5px;background:rgb(189,189,192)"></div>
<div class="px" style="left:298px;top:694px;width:5px;height:5px;background:rgb(139,139,142)"></div>
<div class="px" style="left:303px;top:694px;width:5px;height:5px;background:rgb(170,170,173)"></div>
<div class="px" style="left:308px;top:694px;width:5px;height:5px;background:rgb(146,146,149)"></div>
<div class="px" style="left:313px;top:694px;width:5px;height:5px;background:rgb(85,85,88)"></div>
<div class="px" style="left:318px;top:694px;width:5px;height:5px;background:rgb(182,182,185)"></div>
<div class="px" style="left:323px;top:694px;width:5px;height:5px;background:rgb(180,180,183)"></div>
<div class="px" style="left:328px;top:694px;width:5px;height:5px;background:rgb(178,178,181)"></div>
<div class="px" style="left:333px;top:694px;width:5px;height:5px;background:rgb(152,152,155)"></div>
<div class="px" style="left:338px;top:694px;width:5px;height:5px;background:rgb(74,74,77)"></div>
<div class="px" style="left:343px;top:694px;width:5px;height:5px;background:rgb(122,122,125)"></div>
<div class="px" style="left:348px;top:694px;width:5px;height:5px;background:rgb(92,92,95)"></div>
<div class="px" style="left:353px;top:694px;width:5px;height:5px;background:rgb(168,168,171)"></div>
<div class="px" style="left:293px;top:699px;width:5px;height:5px;background:rgb(84,84,87)"></div>
<div class="px" style="left:298px;top:699px;width:5px;height:5px;background:rgb(106,106,109)"></div>
<div class="px" style="left:303px;top:699px;width:5px;height:5px;background:rgb(88,88,91)"></div>
<div class="px" style="left:308px;top:699px;width:5px;height:5px;background:rgb(112,112,115)"></div>
<div class="px" style="left:313px;top:699px;width:5px;height:5px;background:rgb(124,124,127)"></div>
<div class="px" style="left:318px;top:699px;width:5px;height:5px;background:rgb(115,115,118)"></div>
<div class="px" style="left:323px;top:699px;width:5px;height:5px;background:rgb(120,120,123)"></div>
<div class="px" style="left:328px;top:699px;width:5px;height:5px;background:rgb(127,127,130)"></div>
<div class="px" style="left:333px;top:699px;width:5px;height:5px;background:rgb(164,164,167)"></div>
<div class="px" style="left:338px;top:699px;width:5px;height:5px;background:rgb(66,66,69)"></div>
<div class="px" style="left:343px;top:699px;width:5px;height:5px;background:rgb(92,92,95)"></div>
<div class="px" style="left:348px;top:699px;width:5px;height:5px;background:rgb(115,115,118)"></div>
<div class="px" style="left:353px;top:699px;width:5px;height:5px;background:rgb(128,128,131)"></div>
<div class="a" style="left:453px;top:689px;width:135px;height:16px;border-radius:8px;background:#47494d"></div>
<div class="a" style="left:491px;top:686px;width:60px;height:5px;background:#2a2c31"></div>
<div class="a" style="left:491px;top:691px;width:60px;height:15px;background:#3e4044"></div>
<div class="px" style="left:505px;top:691px;width:5px;height:5px;background:rgb(134,134,137)"></div>
<div class="px" style="left:510px;top:691px;width:5px;height:5px;background:rgb(79,79,82)"></div>
<div class="px" style="left:515px;top:691px;width:5px;height:5px;background:rgb(90,90,93)"></div>
<div class="px" style="left:520px;top:691px;width:5px;height:5px;background:rgb(77,77,80)"></div>
<div class="px" style="left:525px;top:691px;width:5px;height:5px;background:rgb(98,98,101)"></div>
<div class="px" style="left:530px;top:691px;width:5px;height:5px;background:rgb(87,87,90)"></div>
<div class="px" style="left:505px;top:696px;width:5px;height:5px;background:rgb(171,171,174)"></div>
<div class="px" style="left:510px;top:696px;width:5px;height:5px;background:rgb(99,99,102)"></div>
<div class="px" style="left:515px;top:696px;width:5px;height:5px;background:rgb(145,145,148)"></div>
<div class="px" style="left:520px;top:696px;width:5px;height:5px;background:rgb(103,103,106)"></div>
<div class="px" style="left:525px;top:696px;width:5px;height:5px;background:rgb(143,143,146)"></div>
<div class="px" style="left:530px;top:696px;width:5px;height:5px;background:rgb(71,71,74)"></div>
<div class="px" style="left:505px;top:701px;width:5px;height:5px;background:rgb(95,95,98)"></div>
<div class="px" style="left:510px;top:701px;width:5px;height:5px;background:rgb(82,82,85)"></div>
<div class="px" style="left:515px;top:701px;width:5px;height:5px;background:rgb(113,113,116)"></div>
<div class="px" style="left:520px;top:701px;width:5px;height:5px;background:rgb(124,124,127)"></div>
<div class="px" style="left:525px;top:701px;width:5px;height:5px;background:rgb(107,107,110)"></div>
<div class="px" style="left:530px;top:701px;width:5px;height:5px;background:rgb(81,81,84)"></div>
<div class="a" style="left:596px;top:693px;width:683px;height:8px;border-radius:4px;background:#1c3a63;overflow:hidden"><div style="width:25px;height:8px;background:#3b76c8"></div></div>
<div class="a" style="left:1300px;top:689px;width:43px;text-align:right;font-size:12px;font-weight:bold;color:#e6e6e6;line-height:14px;letter-spacing:-0.45px;white-space:nowrap">W 4%</div>
<div class="a" style="left:203px;top:751px;width:1150px;height:1px;background:#4c4f54"></div>
<div class="a" style="left:205px;top:749px;width:55px;height:5px;background:#2a2c31"></div>
<div class="a" style="left:288px;top:749px;width:145px;height:5px;background:#2a2c31"></div>
<div class="a" style="left:491px;top:749px;width:60px;height:5px;background:#2a2c31"></div>
<div class="px" style="left:210px;top:725px;width:5px;height:5px;background:rgb(123,123,126)"></div>
<div class="px" style="left:215px;top:725px;width:5px;height:5px;background:rgb(141,141,144)"></div>
<div class="px" style="left:220px;top:725px;width:5px;height:5px;background:rgb(133,133,136)"></div>
<div class="px" style="left:225px;top:725px;width:5px;height:5px;background:rgb(85,85,88)"></div>
<div class="px" style="left:230px;top:725px;width:5px;height:5px;background:rgb(67,67,70)"></div>
<div class="px" style="left:235px;top:725px;width:5px;height:5px;background:rgb(119,119,122)"></div>
<div class="px" style="left:240px;top:725px;width:5px;height:5px;background:rgb(104,104,107)"></div>
<div class="px" style="left:245px;top:725px;width:5px;height:5px;background:rgb(115,115,118)"></div>
<div class="px" style="left:210px;top:730px;width:5px;height:5px;background:rgb(170,170,173)"></div>
<div class="px" style="left:215px;top:730px;width:5px;height:5px;background:rgb(175,175,178)"></div>
<div class="px" style="left:220px;top:730px;width:5px;height:5px;background:rgb(153,153,156)"></div>
<div class="px" style="left:225px;top:730px;width:5px;height:5px;background:rgb(189,189,192)"></div>
<div class="px" style="left:230px;top:730px;width:5px;height:5px;background:rgb(163,163,166)"></div>
<div class="px" style="left:235px;top:730px;width:5px;height:5px;background:rgb(178,178,181)"></div>
<div class="px" style="left:240px;top:730px;width:5px;height:5px;background:rgb(115,115,118)"></div>
<div class="px" style="left:245px;top:730px;width:5px;height:5px;background:rgb(177,177,180)"></div>
<div class="px" style="left:210px;top:735px;width:5px;height:5px;background:rgb(128,128,131)"></div>
<div class="px" style="left:215px;top:735px;width:5px;height:5px;background:rgb(74,74,77)"></div>
<div class="px" style="left:220px;top:735px;width:5px;height:5px;background:rgb(110,110,113)"></div>
<div class="px" style="left:225px;top:735px;width:5px;height:5px;background:rgb(109,109,112)"></div>
<div class="px" style="left:230px;top:735px;width:5px;height:5px;background:rgb(153,153,156)"></div>
<div class="px" style="left:235px;top:735px;width:5px;height:5px;background:rgb(164,164,167)"></div>
<div class="px" style="left:240px;top:735px;width:5px;height:5px;background:rgb(108,108,111)"></div>
<div class="px" style="left:245px;top:735px;width:5px;height:5px;background:rgb(66,66,69)"></div>
<div class="px" style="left:293px;top:725px;width:5px;height:5px;background:rgb(158,158,161)"></div>
<div class="px" style="left:298px;top:725px;width:5px;height:5px;background:rgb(123,123,126)"></div>
<div class="px" style="left:303px;top:725px;width:5px;height:5px;background:rgb(85,85,88)"></div>
<div class="px" style="left:308px;top:725px;width:5px;height:5px;background:rgb(153,153,156)"></div>
<div class="px" style="left:313px;top:725px;width:5px;height:5px;background:rgb(106,106,109)"></div>
<div class="px" style="left:318px;top:725px;width:5px;height:5px;background:rgb(119,119,122)"></div>
<div class="px" style="left:323px;top:725px;width:5px;height:5px;background:rgb(100,100,103)"></div>
<div class="px" style="left:328px;top:725px;width:5px;height:5px;background:rgb(112,112,115)"></div>
<div class="px" style="left:333px;top:725px;width:5px;height:5px;background:rgb(79,79,82)"></div>
<div class="px" style="left:338px;top:725px;width:5px;height:5px;background:rgb(84,84,87)"></div>
<div class="px" style="left:343px;top:725px;width:5px;height:5px;background:rgb(127,127,130)"></div>
<div class="px" style="left:293px;top:730px;width:5px;height:5px;background:rgb(123,123,126)"></div>
<div class="px" style="left:298px;top:730px;width:5px;height:5px;background:rgb(196,196,199)"></div>
<div class="px" style="left:303px;top:730px;width:5px;height:5px;background:rgb(69,69,72)"></div>
<div class="px" style="left:308px;top:730px;width:5px;height:5px;background:rgb(160,160,163)"></div>
<div class="px" style="left:313px;top:730px;width:5px;height:5px;background:rgb(162,162,165)"></div>
<div class="px" style="left:318px;top:730px;width:5px;height:5px;background:rgb(195,195,198)"></div>
<div class="px" style="left:323px;top:730px;width:5px;height:5px;background:rgb(163,163,166)"></div>
<div class="px" style="left:328px;top:730px;width:5px;height:5px;background:rgb(170,170,173)"></div>
<div class="px" style="left:333px;top:730px;width:5px;height:5px;background:rgb(174,174,177)"></div>
<div class="px" style="left:338px;top:730px;width:5px;height:5px;background:rgb(196,196,199)"></div>
<div class="px" style="left:343px;top:730px;width:5px;height:5px;background:rgb(127,127,130)"></div>
<div class="px" style="left:293px;top:735px;width:5px;height:5px;background:rgb(148,148,151)"></div>
<div class="px" style="left:298px;top:735px;width:5px;height:5px;background:rgb(76,76,79)"></div>
<div class="px" style="left:303px;top:735px;width:5px;height:5px;background:rgb(93,93,96)"></div>
<div class="px" style="left:308px;top:735px;width:5px;height:5px;background:rgb(92,92,95)"></div>
<div class="px" style="left:313px;top:735px;width:5px;height:5px;background:rgb(154,154,157)"></div>
<div class="px" style="left:318px;top:735px;width:5px;height:5px;background:rgb(140,140,143)"></div>
<div class="px" style="left:323px;top:735px;width:5px;height:5px;background:rgb(112,112,115)"></div>
<div class="px" style="left:328px;top:735px;width:5px;height:5px;background:rgb(95,95,98)"></div>
<div class="px" style="left:333px;top:735px;width:5px;height:5px;background:rgb(165,165,168)"></div>
<div class="px" style="left:338px;top:735px;width:5px;height:5px;background:rgb(162,162,165)"></div>
<div class="px" style="left:343px;top:735px;width:5px;height:5px;background:rgb(158,158,161)"></div>
<div class="a" style="left:453px;top:725px;width:135px;height:16px;border-radius:8px;background:#47494d"></div>
<div class="a" style="left:491px;top:722px;width:60px;height:5px;background:#2a2c31"></div>
<div class="a" style="left:491px;top:727px;width:60px;height:15px;background:#3e4044"></div>
<div class="px" style="left:500px;top:727px;width:5px;height:5px;background:rgb(80,80,83)"></div>
<div class="px" style="left:505px;top:727px;width:5px;height:5px;background:rgb(90,90,93)"></div>
<div class="px" style="left:510px;top:727px;width:5px;height:5px;background:rgb(103,103,106)"></div>
<div class="px" style="left:515px;top:727px;width:5px;height:5px;background:rgb(109,109,112)"></div>
<div class="px" style="left:520px;top:727px;width:5px;height:5px;background:rgb(104,104,107)"></div>
<div class="px" style="left:525px;top:727px;width:5px;height:5px;background:rgb(106,106,109)"></div>
<div class="px" style="left:530px;top:727px;width:5px;height:5px;background:rgb(90,90,93)"></div>
<div class="px" style="left:535px;top:727px;width:5px;height:5px;background:rgb(79,79,82)"></div>
<div class="px" style="left:500px;top:732px;width:5px;height:5px;background:rgb(75,75,78)"></div>
<div class="px" style="left:505px;top:732px;width:5px;height:5px;background:rgb(159,159,162)"></div>
<div class="px" style="left:510px;top:732px;width:5px;height:5px;background:rgb(126,126,129)"></div>
<div class="px" style="left:515px;top:732px;width:5px;height:5px;background:rgb(99,99,102)"></div>
<div class="px" style="left:520px;top:732px;width:5px;height:5px;background:rgb(167,167,170)"></div>
<div class="px" style="left:525px;top:732px;width:5px;height:5px;background:rgb(174,174,177)"></div>
<div class="px" style="left:530px;top:732px;width:5px;height:5px;background:rgb(121,121,124)"></div>
<div class="px" style="left:535px;top:732px;width:5px;height:5px;background:rgb(96,96,99)"></div>
<div class="px" style="left:500px;top:737px;width:5px;height:5px;background:rgb(75,75,78)"></div>
<div class="px" style="left:505px;top:737px;width:5px;height:5px;background:rgb(118,118,121)"></div>
<div class="px" style="left:510px;top:737px;width:5px;height:5px;background:rgb(104,104,107)"></div>
<div class="px" style="left:515px;top:737px;width:5px;height:5px;background:rgb(101,101,104)"></div>
<div class="px" style="left:520px;top:737px;width:5px;height:5px;background:rgb(89,89,92)"></div>
<div class="px" style="left:525px;top:737px;width:5px;height:5px;background:rgb(95,95,98)"></div>
<div class="px" style="left:530px;top:737px;width:5px;height:5px;background:rgb(89,89,92)"></div>
<div class="px" style="left:535px;top:737px;width:5px;height:5px;background:rgb(132,132,135)"></div>
<div class="a" style="left:596px;top:729px;width:683px;height:8px;border-radius:4px;background:#1c3a63;overflow:hidden"><div style="width:23px;height:8px;background:#3b76c8"></div></div>
<div class="a" style="left:1300px;top:725px;width:43px;text-align:right;font-size:12px;font-weight:bold;color:#e6e6e6;line-height:14px;letter-spacing:-0.45px;white-space:nowrap">W 3%</div>
<div class="a" style="left:203px;top:787px;width:1150px;height:1px;background:#4c4f54"></div>
<div class="a" style="left:205px;top:785px;width:55px;height:5px;background:#2a2c31"></div>
<div class="a" style="left:288px;top:785px;width:145px;height:5px;background:#2a2c31"></div>
<div class="a" style="left:491px;top:785px;width:60px;height:5px;background:#2a2c31"></div>
<div class="px" style="left:210px;top:761px;width:5px;height:5px;background:rgb(151,151,154)"></div>
<div class="px" style="left:215px;top:761px;width:5px;height:5px;background:rgb(82,82,85)"></div>
<div class="px" style="left:220px;top:761px;width:5px;height:5px;background:rgb(115,115,118)"></div>
<div class="px" style="left:225px;top:761px;width:5px;height:5px;background:rgb(80,80,83)"></div>
<div class="px" style="left:230px;top:761px;width:5px;height:5px;background:rgb(66,66,69)"></div>
<div class="px" style="left:235px;top:761px;width:5px;height:5px;background:rgb(165,165,168)"></div>
<div class="px" style="left:240px;top:761px;width:5px;height:5px;background:rgb(79,79,82)"></div>
<div class="px" style="left:245px;top:761px;width:5px;height:5px;background:rgb(66,66,69)"></div>
<div class="px" style="left:250px;top:761px;width:5px;height:5px;background:rgb(131,131,134)"></div>
<div class="px" style="left:210px;top:766px;width:5px;height:5px;background:rgb(84,84,87)"></div>
<div class="px" style="left:215px;top:766px;width:5px;height:5px;background:rgb(183,183,186)"></div>
<div class="px" style="left:220px;top:766px;width:5px;height:5px;background:rgb(103,103,106)"></div>
<div class="px" style="left:225px;top:766px;width:5px;height:5px;background:rgb(115,115,118)"></div>
<div class="px" style="left:230px;top:766px;width:5px;height:5px;background:rgb(146,146,149)"></div>
<div class="px" style="left:235px;top:766px;width:5px;height:5px;background:rgb(160,160,163)"></div>
<div class="px" style="left:240px;top:766px;width:5px;height:5px;background:rgb(149,149,152)"></div>
<div class="px" style="left:245px;top:766px;width:5px;height:5px;background:rgb(170,170,173)"></div>
<div class="px" style="left:250px;top:766px;width:5px;height:5px;background:rgb(177,177,180)"></div>
<div class="px" style="left:210px;top:771px;width:5px;height:5px;background:rgb(113,113,116)"></div>
<div class="px" style="left:215px;top:771px;width:5px;height:5px;background:rgb(83,83,86)"></div>
<div class="px" style="left:220px;top:771px;width:5px;height:5px;background:rgb(81,81,84)"></div>
<div class="px" style="left:225px;top:771px;width:5px;height:5px;background:rgb(87,87,90)"></div>
<div class="px" style="left:230px;top:771px;width:5px;height:5px;background:rgb(116,116,119)"></div>
<div class="px" style="left:235px;top:771px;width:5px;height:5px;background:rgb(124,124,127)"></div>
<div class="px" style="left:240px;top:771px;width:5px;height:5px;background:rgb(76,76,79)"></div>
<div class="px" style="left:245px;top:771px;width:5px;height:5px;background:rgb(69,69,72)"></div>
<div class="px" style="left:250px;top:771px;width:5px;height:5px;background:rgb(80,80,83)"></div>
<div class="px" style="left:293px;top:761px;width:5px;height:5px;background:rgb(74,74,77)"></div>
<div class="px" style="left:298px;top:761px;width:5px;height:5px;background:rgb(119,119,122)"></div>
<div class="px" style="left:303px;top:761px;width:5px;height:5px;background:rgb(122,122,125)"></div>
<div class="px" style="left:308px;top:761px;width:5px;height:5px;background:rgb(83,83,86)"></div>
<div class="px" style="left:313px;top:761px;width:5px;height:5px;background:rgb(154,154,157)"></div>
<div class="px" style="left:318px;top:761px;width:5px;height:5px;background:rgb(117,117,120)"></div>
<div class="px" style="left:323px;top:761px;width:5px;height:5px;background:rgb(116,116,119)"></div>
<div class="px" style="left:328px;top:761px;width:5px;height:5px;background:rgb(105,105,108)"></div>
<div class="px" style="left:333px;top:761px;width:5px;height:5px;background:rgb(136,136,139)"></div>
<div class="px" style="left:338px;top:761px;width:5px;height:5px;background:rgb(67,67,70)"></div>
<div class="px" style="left:343px;top:761px;width:5px;height:5px;background:rgb(89,89,92)"></div>
<div class="px" style="left:348px;top:761px;width:5px;height:5px;background:rgb(121,121,124)"></div>
<div class="px" style="left:353px;top:761px;width:5px;height:5px;background:rgb(113,113,116)"></div>
<div class="px" style="left:358px;top:761px;width:5px;height:5px;background:rgb(107,107,110)"></div>
<div class="px" style="left:363px;top:761px;width:5px;height:5px;background:rgb(118,118,121)"></div>
<div class="px" style="left:368px;top:761px;width:5px;height:5px;background:rgb(85,85,88)"></div>
<div class="px" style="left:373px;top:761px;width:5px;height:5px;background:rgb(103,103,106)"></div>
<div class="px" style="left:378px;top:761px;width:5px;height:5px;background:rgb(110,110,113)"></div>
<div class="px" style="left:383px;top:761px;width:5px;height:5px;background:rgb(130,130,133)"></div>
<div class="px" style="left:388px;top:761px;width:5px;height:5px;background:rgb(90,90,93)"></div>
<div class="px" style="left:393px;top:761px;width:5px;height:5px;background:rgb(130,130,133)"></div>
<div class="px" style="left:398px;top:761px;width:5px;height:5px;background:rgb(68,68,71)"></div>
<div class="px" style="left:403px;top:761px;width:5px;height:5px;background:rgb(90,90,93)"></div>
<div class="px" style="left:408px;top:761px;width:5px;height:5px;background:rgb(122,122,125)"></div>
<div class="px" style="left:413px;top:761px;width:5px;height:5px;background:rgb(118,118,121)"></div>
<div class="px" style="left:418px;top:761px;width:5px;height:5px;background:rgb(107,107,110)"></div>
<div class="px" style="left:293px;top:766px;width:5px;height:5px;background:rgb(181,181,184)"></div>
<div class="px" style="left:298px;top:766px;width:5px;height:5px;background:rgb(150,150,153)"></div>
<div class="px" style="left:303px;top:766px;width:5px;height:5px;background:rgb(152,152,155)"></div>
<div class="px" style="left:308px;top:766px;width:5px;height:5px;background:rgb(143,143,146)"></div>
<div class="px" style="left:313px;top:766px;width:5px;height:5px;background:rgb(168,168,171)"></div>
<div class="px" style="left:318px;top:766px;width:5px;height:5px;background:rgb(177,177,180)"></div>
<div class="px" style="left:323px;top:766px;width:5px;height:5px;background:rgb(150,150,153)"></div>
<div class="px" style="left:328px;top:766px;width:5px;height:5px;background:rgb(65,65,68)"></div>
<div class="px" style="left:333px;top:766px;width:5px;height:5px;background:rgb(181,181,184)"></div>
<div class="px" style="left:338px;top:766px;width:5px;height:5px;background:rgb(181,181,184)"></div>
<div class="px" style="left:343px;top:766px;width:5px;height:5px;background:rgb(88,88,91)"></div>
<div class="px" style="left:348px;top:766px;width:5px;height:5px;background:rgb(144,144,147)"></div>
<div class="px" style="left:353px;top:766px;width:5px;height:5px;background:rgb(186,186,189)"></div>
<div class="px" style="left:358px;top:766px;width:5px;height:5px;background:rgb(152,152,155)"></div>
<div class="px" style="left:363px;top:766px;width:5px;height:5px;background:rgb(183,183,186)"></div>
<div class="px" style="left:368px;top:766px;width:5px;height:5px;background:rgb(137,137,140)"></div>
<div class="px" style="left:373px;top:766px;width:5px;height:5px;background:rgb(187,187,190)"></div>
<div class="px" style="left:378px;top:766px;width:5px;height:5px;background:rgb(153,153,156)"></div>
<div class="px" style="left:383px;top:766px;width:5px;height:5px;background:rgb(150,150,153)"></div>
<div class="px" style="left:388px;top:766px;width:5px;height:5px;background:rgb(157,157,160)"></div>
<div class="px" style="left:393px;top:766px;width:5px;height:5px;background:rgb(151,151,154)"></div>
<div class="px" style="left:398px;top:766px;width:5px;height:5px;background:rgb(177,177,180)"></div>
<div class="px" style="left:403px;top:766px;width:5px;height:5px;background:rgb(139,139,142)"></div>
<div class="px" style="left:408px;top:766px;width:5px;height:5px;background:rgb(153,153,156)"></div>
<div class="px" style="left:413px;top:766px;width:5px;height:5px;background:rgb(198,198,201)"></div>
<div class="px" style="left:418px;top:766px;width:5px;height:5px;background:rgb(195,195,198)"></div>
<div class="px" style="left:293px;top:771px;width:5px;height:5px;background:rgb(117,117,120)"></div>
<div class="px" style="left:298px;top:771px;width:5px;height:5px;background:rgb(167,167,170)"></div>
<div class="px" style="left:303px;top:771px;width:5px;height:5px;background:rgb(164,164,167)"></div>
<div class="px" style="left:308px;top:771px;width:5px;height:5px;background:rgb(157,157,160)"></div>
<div class="px" style="left:313px;top:771px;width:5px;height:5px;background:rgb(120,120,123)"></div>
<div class="px" style="left:318px;top:771px;width:5px;height:5px;background:rgb(107,107,110)"></div>
<div class="px" style="left:323px;top:771px;width:5px;height:5px;background:rgb(120,120,123)"></div>
<div class="px" style="left:328px;top:771px;width:5px;height:5px;background:rgb(68,68,71)"></div>
<div class="px" style="left:333px;top:771px;width:5px;height:5px;background:rgb(71,71,74)"></div>
<div class="px" style="left:338px;top:771px;width:5px;height:5px;background:rgb(120,120,123)"></div>
<div class="px" style="left:343px;top:771px;width:5px;height:5px;background:rgb(146,146,149)"></div>
<div class="px" style="left:348px;top:771px;width:5px;height:5px;background:rgb(144,144,147)"></div>
<div class="px" style="left:353px;top:771px;width:5px;height:5px;background:rgb(113,113,116)"></div>
<div class="px" style="left:358px;top:771px;width:5px;height:5px;background:rgb(122,122,125)"></div>
<div class="px" style="left:363px;top:771px;width:5px;height:5px;background:rgb(115,115,118)"></div>
<div class="px" style="left:368px;top:771px;width:5px;height:5px;background:rgb(165,165,168)"></div>
<div class="px" style="left:373px;top:771px;width:5px;height:5px;background:rgb(95,95,98)"></div>
<div class="px" style="left:378px;top:771px;width:5px;height:5px;background:rgb(115,115,118)"></div>
<div class="px" style="left:383px;top:771px;width:5px;height:5px;background:rgb(113,113,116)"></div>
<div class="px" style="left:388px;top:771px;width:5px;height:5px;background:rgb(152,152,155)"></div>
<div class="px" style="left:393px;top:771px;width:5px;height:5px;background:rgb(158,158,161)"></div>
<div class="px" style="left:398px;top:771px;width:5px;height:5px;background:rgb(86,86,89)"></div>
<div class="px" style="left:403px;top:771px;width:5px;height:5px;background:rgb(118,118,121)"></div>
<div class="px" style="left:408px;top:771px;width:5px;height:5px;background:rgb(74,74,77)"></div>
<div class="px" style="left:413px;top:771px;width:5px;height:5px;background:rgb(81,81,84)"></div>
<div class="px" style="left:418px;top:771px;width:5px;height:5px;background:rgb(123,123,126)"></div>
<div class="a" style="left:453px;top:761px;width:135px;height:16px;border-radius:8px;background:#47494d"></div>
<div class="a" style="left:491px;top:758px;width:60px;height:5px;background:#2a2c31"></div>
<div class="a" style="left:491px;top:763px;width:60px;height:15px;background:#3e4044"></div>
<div class="px" style="left:502px;top:763px;width:5px;height:5px;background:rgb(85,85,88)"></div>
<div class="px" style="left:507px;top:763px;width:5px;height:5px;background:rgb(91,91,94)"></div>
<div class="px" style="left:512px;top:763px;width:5px;height:5px;background:rgb(74,74,77)"></div>
<div class="px" style="left:517px;top:763px;width:5px;height:5px;background:rgb(98,98,101)"></div>
<div class="px" style="left:522px;top:763px;width:5px;height:5px;background:rgb(115,115,118)"></div>
<div class="px" style="left:527px;top:763px;width:5px;height:5px;background:rgb(107,107,110)"></div>
<div class="px" style="left:532px;top:763px;width:5px;height:5px;background:rgb(89,89,92)"></div>
<div class="px" style="left:502px;top:768px;width:5px;height:5px;background:rgb(140,140,143)"></div>
<div class="px" style="left:507px;top:768px;width:5px;height:5px;background:rgb(151,151,154)"></div>
<div class="px" style="left:512px;top:768px;width:5px;height:5px;background:rgb(169,169,172)"></div>
<div class="px" style="left:517px;top:768px;width:5px;height:5px;background:rgb(100,100,103)"></div>
<div class="px" style="left:522px;top:768px;width:5px;height:5px;background:rgb(82,82,85)"></div>
<div class="px" style="left:527px;top:768px;width:5px;height:5px;background:rgb(164,164,167)"></div>
<div class="px" style="left:532px;top:768px;width:5px;height:5px;background:rgb(82,82,85)"></div>
<div class="px" style="left:502px;top:773px;width:5px;height:5px;background:rgb(92,92,95)"></div>
<div class="px" style="left:507px;top:773px;width:5px;height:5px;background:rgb(91,91,94)"></div>
<div class="px" style="left:512px;top:773px;width:5px;height:5px;background:rgb(105,105,108)"></div>
<div class="px" style="left:517px;top:773px;width:5px;height:5px;background:rgb(110,110,113)"></div>
<div class="px" style="left:522px;top:773px;width:5px;height:5px;background:rgb(73,73,76)"></div>
<div class="px" style="left:527px;top:773px;width:5px;height:5px;background:rgb(89,89,92)"></div>
<div class="px" style="left:532px;top:773px;width:5px;height:5px;background:rgb(110,110,113)"></div>
<div class="a" style="left:596px;top:765px;width:683px;height:8px;border-radius:4px;background:#1c3a63;overflow:hidden"><div style="width:22px;height:8px;background:#3b76c8"></div></div>
<div class="a" style="left:1300px;top:761px;width:43px;text-align:right;font-size:12px;font-weight:bold;color:#e6e6e6;line-height:14px;letter-spacing:-0.45px;white-space:nowrap">W 3%</div>
<div class="a" style="left:203px;top:823px;width:1150px;height:1px;background:#4c4f54"></div>
<div class="a" style="left:205px;top:821px;width:55px;height:5px;background:#2a2c31"></div>
<div class="a" style="left:288px;top:821px;width:145px;height:5px;background:#2a2c31"></div>
<div class="a" style="left:491px;top:821px;width:60px;height:5px;background:#2a2c31"></div>
<div class="px" style="left:210px;top:797px;width:5px;height:5px;background:rgb(140,140,143)"></div>
<div class="px" style="left:215px;top:797px;width:5px;height:5px;background:rgb(122,122,125)"></div>
<div class="px" style="left:220px;top:797px;width:5px;height:5px;background:rgb(121,121,124)"></div>
<div class="px" style="left:225px;top:797px;width:5px;height:5px;background:rgb(86,86,89)"></div>
<div class="px" style="left:230px;top:797px;width:5px;height:5px;background:rgb(104,104,107)"></div>
<div class="px" style="left:235px;top:797px;width:5px;height:5px;background:rgb(90,90,93)"></div>
<div class="px" style="left:240px;top:797px;width:5px;height:5px;background:rgb(95,95,98)"></div>
<div class="px" style="left:245px;top:797px;width:5px;height:5px;background:rgb(102,102,105)"></div>
<div class="px" style="left:250px;top:797px;width:5px;height:5px;background:rgb(152,152,155)"></div>
<div class="px" style="left:210px;top:802px;width:5px;height:5px;background:rgb(79,79,82)"></div>
<div class="px" style="left:215px;top:802px;width:5px;height:5px;background:rgb(164,164,167)"></div>
<div class="px" style="left:220px;top:802px;width:5px;height:5px;background:rgb(88,88,91)"></div>
<div class="px" style="left:225px;top:802px;width:5px;height:5px;background:rgb(170,170,173)"></div>
<div class="px" style="left:230px;top:802px;width:5px;height:5px;background:rgb(146,146,149)"></div>
<div class="px" style="left:235px;top:802px;width:5px;height:5px;background:rgb(144,144,147)"></div>
<div class="px" style="left:240px;top:802px;width:5px;height:5px;background:rgb(144,144,147)"></div>
<div class="px" style="left:245px;top:802px;width:5px;height:5px;background:rgb(140,140,143)"></div>
<div class="px" style="left:250px;top:802px;width:5px;height:5px;background:rgb(171,171,174)"></div>
<div class="px" style="left:210px;top:807px;width:5px;height:5px;background:rgb(119,119,122)"></div>
<div class="px" style="left:215px;top:807px;width:5px;height:5px;background:rgb(116,116,119)"></div>
<div class="px" style="left:220px;top:807px;width:5px;height:5px;background:rgb(89,89,92)"></div>
<div class="px" style="left:225px;top:807px;width:5px;height:5px;background:rgb(100,100,103)"></div>
<div class="px" style="left:230px;top:807px;width:5px;height:5px;background:rgb(108,108,111)"></div>
<div class="px" style="left:235px;top:807px;width:5px;height:5px;background:rgb(84,84,87)"></div>
<div class="px" style="left:240px;top:807px;width:5px;height:5px;background:rgb(109,109,112)"></div>
<div class="px" style="left:245px;top:807px;width:5px;height:5px;background:rgb(114,114,117)"></div>
<div class="px" style="left:250px;top:807px;width:5px;height:5px;background:rgb(128,128,131)"></div>
<div class="px" style="left:293px;top:797px;width:5px;height:5px;background:rgb(73,73,76)"></div>
<div class="px" style="left:298px;top:797px;width:5px;height:5px;background:rgb(111,111,114)"></div>
<div class="px" style="left:303px;top:797px;width:5px;height:5px;background:rgb(126,126,129)"></div>
<div class="px" style="left:308px;top:797px;width:5px;height:5px;background:rgb(142,142,145)"></div>
<div class="px" style="left:313px;top:797px;width:5px;height:5px;background:rgb(87,87,90)"></div>
<div class="px" style="left:318px;top:797px;width:5px;height:5px;background:rgb(86,86,89)"></div>
<div class="px" style="left:323px;top:797px;width:5px;height:5px;background:rgb(120,120,123)"></div>
<div class="px" style="left:328px;top:797px;width:5px;height:5px;background:rgb(121,121,124)"></div>
<div class="px" style="left:333px;top:797px;width:5px;height:5px;background:rgb(97,97,100)"></div>
<div class="px" style="left:338px;top:797px;width:5px;height:5px;background:rgb(135,135,138)"></div>
<div class="px" style="left:343px;top:797px;width:5px;height:5px;background:rgb(93,93,96)"></div>
<div class="px" style="left:293px;top:802px;width:5px;height:5px;background:rgb(128,128,131)"></div>
<div class="px" style="left:298px;top:802px;width:5px;height:5px;background:rgb(160,160,163)"></div>
<div class="px" style="left:303px;top:802px;width:5px;height:5px;background:rgb(141,141,144)"></div>
<div class="px" style="left:308px;top:802px;width:5px;height:5px;background:rgb(158,158,161)"></div>
<div class="px" style="left:313px;top:802px;width:5px;height:5px;background:rgb(137,137,140)"></div>
<div class="px" style="left:318px;top:802px;width:5px;height:5px;background:rgb(190,190,193)"></div>
<div class="px" style="left:323px;top:802px;width:5px;height:5px;background:rgb(168,168,171)"></div>
<div class="px" style="left:328px;top:802px;width:5px;height:5px;background:rgb(68,68,71)"></div>
<div class="px" style="left:333px;top:802px;width:5px;height:5px;background:rgb(157,157,160)"></div>
<div class="px" style="left:338px;top:802px;width:5px;height:5px;background:rgb(165,165,168)"></div>
<div class="px" style="left:343px;top:802px;width:5px;height:5px;background:rgb(141,141,144)"></div>
<div class="px" style="left:293px;top:807px;width:5px;height:5px;background:rgb(70,70,73)"></div>
<div class="px" style="left:298px;top:807px;width:5px;height:5px;background:rgb(98,98,101)"></div>
<div class="px" style="left:303px;top:807px;width:5px;height:5px;background:rgb(168,168,171)"></div>
<div class="px" style="left:308px;top:807px;width:5px;height:5px;background:rgb(130,130,133)"></div>
<div class="px" style="left:313px;top:807px;width:5px;height:5px;background:rgb(97,97,100)"></div>
<div class="px" style="left:318px;top:807px;width:5px;height:5px;background:rgb(128,128,131)"></div>
<div class="px" style="left:323px;top:807px;width:5px;height:5px;background:rgb(123,123,126)"></div>
<div class="px" style="left:328px;top:807px;width:5px;height:5px;background:rgb(117,117,120)"></div>
<div class="px" style="left:333px;top:807px;width:5px;height:5px;background:rgb(92,92,95)"></div>
<div class="px" style="left:338px;top:807px;width:5px;height:5px;background:rgb(110,110,113)"></div>
<div class="px" style="left:343px;top:807px;width:5px;height:5px;background:rgb(82,82,85)"></div>
<div class="a" style="left:453px;top:797px;width:135px;height:16px;border-radius:8px;background:#47494d"></div>
<div class="a" style="left:491px;top:794px;width:60px;height:5px;background:#2a2c31"></div>
<div class="a" style="left:491px;top:799px;width:60px;height:15px;background:#3e4044"></div>
<div class="px" style="left:502px;top:799px;width:5px;height:5px;background:rgb(99,99,102)"></div>
<div class="px" style="left:507px;top:799px;width:5px;height:5px;background:rgb(72,72,75)"></div>
<div class="px" style="left:512px;top:799px;width:5px;height:5px;background:rgb(96,96,99)"></div>
<div class="px" style="left:517px;top:799px;width:5px;height:5px;background:rgb(99,99,102)"></div>
<div class="px" style="left:522px;top:799px;width:5px;height:5px;background:rgb(105,105,108)"></div>
<div class="px" style="left:527px;top:799px;width:5px;height:5px;background:rgb(97,97,100)"></div>
<div class="px" style="left:532px;top:799px;width:5px;height:5px;background:rgb(92,92,95)"></div>
<div class="px" style="left:502px;top:804px;width:5px;height:5px;background:rgb(165,165,168)"></div>
<div class="px" style="left:507px;top:804px;width:5px;height:5px;background:rgb(109,109,112)"></div>
<div class="px" style="left:512px;top:804px;width:5px;height:5px;background:rgb(136,136,139)"></div>
<div class="px" style="left:517px;top:804px;width:5px;height:5px;background:rgb(174,174,177)"></div>
<div class="px" style="left:522px;top:804px;width:5px;height:5px;background:rgb(149,149,152)"></div>
<div class="px" style="left:527px;top:804px;width:5px;height:5px;background:rgb(134,134,137)"></div>
<div class="px" style="left:532px;top:804px;width:5px;height:5px;background:rgb(141,141,144)"></div>
<div class="px" style="left:502px;top:809px;width:5px;height:5px;background:rgb(129,129,132)"></div>
<div class="px" style="left:507px;top:809px;width:5px;height:5px;background:rgb(80,80,83)"></div>
<div class="px" style="left:512px;top:809px;width:5px;height:5px;background:rgb(73,73,76)"></div>
<div class="px" style="left:517px;top:809px;width:5px;height:5px;background:rgb(126,126,129)"></div>
<div class="px" style="left:522px;top:809px;width:5px;height:5px;background:rgb(107,107,110)"></div>
<div class="px" style="left:527px;top:809px;width:5px;height:5px;background:rgb(101,101,104)"></div>
<div class="px" style="left:532px;top:809px;width:5px;height:5px;background:rgb(95,95,98)"></div>
<div class="a" style="left:596px;top:801px;width:683px;height:8px;border-radius:4px;background:#1c3a63;overflow:hidden"><div style="width:22px;height:8px;background:#3b76c8"></div></div>
<div class="a" style="left:1300px;top:797px;width:43px;text-align:right;font-size:12px;font-weight:bold;color:#e6e6e6;line-height:14px;letter-spacing:-0.45px;white-space:nowrap">W 3%</div>
<div class="a" style="left:203px;top:859px;width:1150px;height:1px;background:#4c4f54"></div>
<div class="a" style="left:205px;top:857px;width:55px;height:5px;background:#2a2c31"></div>
<div class="a" style="left:288px;top:857px;width:145px;height:5px;background:#2a2c31"></div>
<div class="a" style="left:491px;top:857px;width:60px;height:5px;background:#2a2c31"></div>
<div class="px" style="left:210px;top:833px;width:5px;height:5px;background:rgb(132,132,135)"></div>
<div class="px" style="left:215px;top:833px;width:5px;height:5px;background:rgb(71,71,74)"></div>
<div class="px" style="left:220px;top:833px;width:5px;height:5px;background:rgb(109,109,112)"></div>
<div class="px" style="left:225px;top:833px;width:5px;height:5px;background:rgb(85,85,88)"></div>
<div class="px" style="left:230px;top:833px;width:5px;height:5px;background:rgb(116,116,119)"></div>
<div class="px" style="left:235px;top:833px;width:5px;height:5px;background:rgb(124,124,127)"></div>
<div class="px" style="left:240px;top:833px;width:5px;height:5px;background:rgb(165,165,168)"></div>
<div class="px" style="left:245px;top:833px;width:5px;height:5px;background:rgb(88,88,91)"></div>
<div class="px" style="left:210px;top:838px;width:5px;height:5px;background:rgb(91,91,94)"></div>
<div class="px" style="left:215px;top:838px;width:5px;height:5px;background:rgb(188,188,191)"></div>
<div class="px" style="left:220px;top:838px;width:5px;height:5px;background:rgb(170,170,173)"></div>
<div class="px" style="left:225px;top:838px;width:5px;height:5px;background:rgb(170,170,173)"></div>
<div class="px" style="left:230px;top:838px;width:5px;height:5px;background:rgb(158,158,161)"></div>
<div class="px" style="left:235px;top:838px;width:5px;height:5px;background:rgb(200,200,203)"></div>
<div class="px" style="left:240px;top:838px;width:5px;height:5px;background:rgb(162,162,165)"></div>
<div class="px" style="left:245px;top:838px;width:5px;height:5px;background:rgb(181,181,184)"></div>
<div class="px" style="left:210px;top:843px;width:5px;height:5px;background:rgb(111,111,114)"></div>
<div class="px" style="left:215px;top:843px;width:5px;height:5px;background:rgb(95,95,98)"></div>
<div class="px" style="left:220px;top:843px;width:5px;height:5px;background:rgb(120,120,123)"></div>
<div class="px" style="left:225px;top:843px;width:5px;height:5px;background:rgb(106,106,109)"></div>
<div class="px" style="left:230px;top:843px;width:5px;height:5px;background:rgb(162,162,165)"></div>
<div class="px" style="left:235px;top:843px;width:5px;height:5px;background:rgb(113,113,116)"></div>
<div class="px" style="left:240px;top:843px;width:5px;height:5px;background:rgb(72,72,75)"></div>
<div class="px" style="left:245px;top:843px;width:5px;height:5px;background:rgb(95,95,98)"></div>
<div class="px" style="left:293px;top:833px;width:5px;height:5px;background:rgb(89,89,92)"></div>
<div class="px" style="left:298px;top:833px;width:5px;height:5px;background:rgb(81,81,84)"></div>
<div class="px" style="left:303px;top:833px;width:5px;height:5px;background:rgb(104,104,107)"></div>
<div class="px" style="left:308px;top:833px;width:5px;height:5px;background:rgb(126,126,129)"></div>
<div class="px" style="left:313px;top:833px;width:5px;height:5px;background:rgb(82,82,85)"></div>
<div class="px" style="left:318px;top:833px;width:5px;height:5px;background:rgb(98,98,101)"></div>
<div class="px" style="left:323px;top:833px;width:5px;height:5px;background:rgb(122,122,125)"></div>
<div class="px" style="left:328px;top:833px;width:5px;height:5px;background:rgb(83,83,86)"></div>
<div class="px" style="left:333px;top:833px;width:5px;height:5px;background:rgb(140,140,143)"></div>
<div class="px" style="left:293px;top:838px;width:5px;height:5px;background:rgb(192,192,195)"></div>
<div class="px" style="left:298px;top:838px;width:5px;height:5px;background:rgb(184,184,187)"></div>
<div class="px" style="left:303px;top:838px;width:5px;height:5px;background:rgb(180,180,183)"></div>
<div class="px" style="left:308px;top:838px;width:5px;height:5px;background:rgb(172,172,175)"></div>
<div class="px" style="left:313px;top:838px;width:5px;height:5px;background:rgb(162,162,165)"></div>
<div class="px" style="left:318px;top:838px;width:5px;height:5px;background:rgb(138,138,141)"></div>
<div class="px" style="left:323px;top:838px;width:5px;height:5px;background:rgb(196,196,199)"></div>
<div class="px" style="left:328px;top:838px;width:5px;height:5px;background:rgb(173,173,176)"></div>
<div class="px" style="left:333px;top:838px;width:5px;height:5px;background:rgb(143,143,146)"></div>
<div class="px" style="left:293px;top:843px;width:5px;height:5px;background:rgb(132,132,135)"></div>
<div class="px" style="left:298px;top:843px;width:5px;height:5px;background:rgb(110,110,113)"></div>
<div class="px" style="left:303px;top:843px;width:5px;height:5px;background:rgb(112,112,115)"></div>
<div class="px" style="left:308px;top:843px;width:5px;height:5px;background:rgb(98,98,101)"></div>
<div class="px" style="left:313px;top:843px;width:5px;height:5px;background:rgb(119,119,122)"></div>
<div class="px" style="left:318px;top:843px;width:5px;height:5px;background:rgb(128,128,131)"></div>
<div class="px" style="left:323px;top:843px;width:5px;height:5px;background:rgb(114,114,117)"></div>
<div class="px" style="left:328px;top:843px;width:5px;height:5px;background:rgb(141,141,144)"></div>
<div class="px" style="left:333px;top:843px;width:5px;height:5px;background:rgb(100,100,103)"></div>
<div class="a" style="left:453px;top:833px;width:135px;height:16px;border-radius:8px;background:#47494d"></div>
<div class="a" style="left:491px;top:830px;width:60px;height:5px;background:#2a2c31"></div>
<div class="a" style="left:491px;top:835px;width:60px;height:15px;background:#3e4044"></div>
<div class="px" style="left:505px;top:835px;width:5px;height:5px;background:rgb(95,95,98)"></div>
<div class="px" style="left:510px;top:835px;width:5px;height:5px;background:rgb(80,80,83)"></div>
<div class="px" style="left:515px;top:835px;width:5px;height:5px;background:rgb(85,85,88)"></div>
<div class="px" style="left:520px;top:835px;width:5px;height:5px;background:rgb(91,91,94)"></div>
<div class="px" style="left:525px;top:835px;width:5px;height:5px;background:rgb(141,141,144)"></div>
<div class="px" style="left:530px;top:835px;width:5px;height:5px;background:rgb(107,107,110)"></div>
<div class="px" style="left:505px;top:840px;width:5px;height:5px;background:rgb(174,174,177)"></div>
<div class="px" style="left:510px;top:840px;width:5px;height:5px;background:rgb(164,164,167)"></div>
<div class="px" style="left:515px;top:840px;width:5px;height:5px;background:rgb(95,95,98)"></div>
<div class="px" style="left:520px;top:840px;width:5px;height:5px;background:rgb(124,124,127)"></div>
<div class="px" style="left:525px;top:840px;width:5px;height:5px;background:rgb(87,87,90)"></div>
<div class="px" style="left:530px;top:840px;width:5px;height:5px;background:rgb(151,151,154)"></div>
<div class="px" style="left:505px;top:845px;width:5px;height:5px;background:rgb(109,109,112)"></div>
<div class="px" style="left:510px;top:845px;width:5px;height:5px;background:rgb(90,90,93)"></div>
<div class="px" style="left:515px;top:845px;width:5px;height:5px;background:rgb(94,94,97)"></div>
<div class="px" style="left:520px;top:845px;width:5px;height:5px;background:rgb(92,92,95)"></div>
<div class="px" style="left:525px;top:845px;width:5px;height:5px;background:rgb(93,93,96)"></div>
<div class="px" style="left:530px;top:845px;width:5px;height:5px;background:rgb(86,86,89)"></div>
<div class="a" style="left:596px;top:837px;width:683px;height:8px;border-radius:4px;background:#1c3a63;overflow:hidden"><div style="width:21px;height:8px;background:#3b76c8"></div></div>
<div class="a" style="left:1300px;top:833px;width:43px;text-align:right;font-size:12px;font-weight:bold;color:#e6e6e6;line-height:14px;letter-spacing:-0.45px;white-space:nowrap">W 3%</div>
<div class="a" style="left:203px;top:895px;width:1150px;height:1px;background:#4c4f54"></div>
<div class="a" style="left:205px;top:893px;width:55px;height:5px;background:#2a2c31"></div>
<div class="a" style="left:288px;top:893px;width:145px;height:5px;background:#2a2c31"></div>
<div class="a" style="left:491px;top:893px;width:60px;height:5px;background:#2a2c31"></div>
<div class="px" style="left:210px;top:869px;width:5px;height:5px;background:rgb(128,128,131)"></div>
<div class="px" style="left:215px;top:869px;width:5px;height:5px;background:rgb(114,114,117)"></div>
<div class="px" style="left:220px;top:869px;width:5px;height:5px;background:rgb(111,111,114)"></div>
<div class="px" style="left:225px;top:869px;width:5px;height:5px;background:rgb(92,92,95)"></div>
<div class="px" style="left:230px;top:869px;width:5px;height:5px;background:rgb(111,111,114)"></div>
<div class="px" style="left:235px;top:869px;width:5px;height:5px;background:rgb(117,117,120)"></div>
<div class="px" style="left:240px;top:869px;width:5px;height:5px;background:rgb(73,73,76)"></div>
<div class="px" style="left:245px;top:869px;width:5px;height:5px;background:rgb(124,124,127)"></div>
<div class="px" style="left:210px;top:874px;width:5px;height:5px;background:rgb(113,113,116)"></div>
<div class="px" style="left:215px;top:874px;width:5px;height:5px;background:rgb(114,114,117)"></div>
<div class="px" style="left:220px;top:874px;width:5px;height:5px;background:rgb(152,152,155)"></div>
<div class="px" style="left:225px;top:874px;width:5px;height:5px;background:rgb(169,169,172)"></div>
<div class="px" style="left:230px;top:874px;width:5px;height:5px;background:rgb(181,181,184)"></div>
<div class="px" style="left:235px;top:874px;width:5px;height:5px;background:rgb(137,137,140)"></div>
<div class="px" style="left:240px;top:874px;width:5px;height:5px;background:rgb(159,159,162)"></div>
<div class="px" style="left:245px;top:874px;width:5px;height:5px;background:rgb(168,168,171)"></div>
<div class="px" style="left:210px;top:879px;width:5px;height:5px;background:rgb(95,95,98)"></div>
<div class="px" style="left:215px;top:879px;width:5px;height:5px;background:rgb(115,115,118)"></div>
<div class="px" style="left:220px;top:879px;width:5px;height:5px;background:rgb(128,128,131)"></div>
<div class="px" style="left:225px;top:879px;width:5px;height:5px;background:rgb(115,115,118)"></div>
<div class="px" style="left:230px;top:879px;width:5px;height:5px;background:rgb(107,107,110)"></div>
<div class="px" style="left:235px;top:879px;width:5px;height:5px;background:rgb(78,78,81)"></div>
<div class="px" style="left:240px;top:879px;width:5px;height:5px;background:rgb(145,145,148)"></div>
<div class="px" style="left:245px;top:879px;width:5px;height:5px;background:rgb(131,131,134)"></div>
<div class="px" style="left:293px;top:869px;width:5px;height:5px;background:rgb(85,85,88)"></div>
<div class="px" style="left:298px;top:869px;width:5px;height:5px;background:rgb(125,125,128)"></div>
<div class="px" style="left:303px;top:869px;width:5px;height:5px;background:rgb(127,127,130)"></div>
<div class="px" style="left:308px;top:869px;width:5px;height:5px;background:rgb(142,142,145)"></div>
<div class="px" style="left:313px;top:869px;width:5px;height:5px;background:rgb(101,101,104)"></div>
<div class="px" style="left:318px;top:869px;width:5px;height:5px;background:rgb(128,128,131)"></div>
<div class="px" style="left:323px;top:869px;width:5px;height:5px;background:rgb(96,96,99)"></div>
<div class="px" style="left:328px;top:869px;width:5px;height:5px;background:rgb(87,87,90)"></div>
<div class="px" style="left:333px;top:869px;width:5px;height:5px;background:rgb(121,121,124)"></div>
<div class="px" style="left:338px;top:869px;width:5px;height:5px;background:rgb(113,113,116)"></div>
<div class="px" style="left:343px;top:869px;width:5px;height:5px;background:rgb(144,144,147)"></div>
<div class="px" style="left:348px;top:869px;width:5px;height:5px;background:rgb(122,122,125)"></div>
<div class="px" style="left:353px;top:869px;width:5px;height:5px;background:rgb(126,126,129)"></div>
<div class="px" style="left:358px;top:869px;width:5px;height:5px;background:rgb(117,117,120)"></div>
<div class="px" style="left:363px;top:869px;width:5px;height:5px;background:rgb(111,111,114)"></div>
<div class="px" style="left:293px;top:874px;width:5px;height:5px;background:rgb(185,185,188)"></div>
<div class="px" style="left:298px;top:874px;width:5px;height:5px;background:rgb(185,185,188)"></div>
<div class="px" style="left:303px;top:874px;width:5px;height:5px;background:rgb(167,167,170)"></div>
<div class="px" style="left:308px;top:874px;width:5px;height:5px;background:rgb(176,176,179)"></div>
<div class="px" style="left:313px;top:874px;width:5px;height:5px;background:rgb(161,161,164)"></div>
<div class="px" style="left:318px;top:874px;width:5px;height:5px;background:rgb(81,81,84)"></div>
<div class="px" style="left:323px;top:874px;width:5px;height:5px;background:rgb(188,188,191)"></div>
<div class="px" style="left:328px;top:874px;width:5px;height:5px;background:rgb(151,151,154)"></div>
<div class="px" style="left:333px;top:874px;width:5px;height:5px;background:rgb(169,169,172)"></div>
<div class="px" style="left:338px;top:874px;width:5px;height:5px;background:rgb(81,81,84)"></div>
<div class="px" style="left:343px;top:874px;width:5px;height:5px;background:rgb(172,172,175)"></div>
<div class="px" style="left:348px;top:874px;width:5px;height:5px;background:rgb(158,158,161)"></div>
<div class="px" style="left:353px;top:874px;width:5px;height:5px;background:rgb(125,125,128)"></div>
<div class="px" style="left:358px;top:874px;width:5px;height:5px;background:rgb(152,152,155)"></div>
<div class="px" style="left:363px;top:874px;width:5px;height:5px;background:rgb(169,169,172)"></div>
<div class="px" style="left:293px;top:879px;width:5px;height:5px;background:rgb(115,115,118)"></div>
<div class="px" style="left:298px;top:879px;width:5px;height:5px;background:rgb(82,82,85)"></div>
<div class="px" style="left:303px;top:879px;width:5px;height:5px;background:rgb(80,80,83)"></div>
<div class="px" style="left:308px;top:879px;width:5px;height:5px;background:rgb(129,129,132)"></div>
<div class="px" style="left:313px;top:879px;width:5px;height:5px;background:rgb(80,80,83)"></div>
<div class="px" style="left:318px;top:879px;width:5px;height:5px;background:rgb(68,68,71)"></div>
<div class="px" style="left:323px;top:879px;width:5px;height:5px;background:rgb(166,166,169)"></div>
<div class="px" style="left:328px;top:879px;width:5px;height:5px;background:rgb(73,73,76)"></div>
<div class="px" style="left:333px;top:879px;width:5px;height:5px;background:rgb(101,101,104)"></div>
<div class="px" style="left:338px;top:879px;width:5px;height:5px;background:rgb(117,117,120)"></div>
<div class="px" style="left:343px;top:879px;width:5px;height:5px;background:rgb(154,154,157)"></div>
<div class="px" style="left:348px;top:879px;width:5px;height:5px;background:rgb(92,92,95)"></div>
<div class="px" style="left:353px;top:879px;width:5px;height:5px;background:rgb(83,83,86)"></div>
<div class="px" style="left:358px;top:879px;width:5px;height:5px;background:rgb(78,78,81)"></div>
<div class="px" style="left:363px;top:879px;width:5px;height:5px;background:rgb(97,97,100)"></div>
<div class="a" style="left:453px;top:869px;width:135px;height:16px;border-radius:8px;background:#47494d"></div>
<div class="a" style="left:491px;top:866px;width:60px;height:5px;background:#2a2c31"></div>
<div class="a" style="left:491px;top:871px;width:60px;height:15px;background:#3e4044"></div>
<div class="px" style="left:502px;top:871px;width:5px;height:5px;background:rgb(117,117,120)"></div>
<div class="px" style="left:507px;top:871px;width:5px;height:5px;background:rgb(90,90,93)"></div>
<div class="px" style="left:512px;top:871px;width:5px;height:5px;background:rgb(107,107,110)"></div>
<div class="px" style="left:517px;top:871px;width:5px;height:5px;background:rgb(79,79,82)"></div>
<div class="px" style="left:522px;top:871px;width:5px;height:5px;background:rgb(95,95,98)"></div>
<div class="px" style="left:527px;top:871px;width:5px;height:5px;background:rgb(84,84,87)"></div>
<div class="px" style="left:532px;top:871px;width:5px;height:5px;background:rgb(82,82,85)"></div>
<div class="px" style="left:502px;top:876px;width:5px;height:5px;background:rgb(136,136,139)"></div>
<div class="px" style="left:507px;top:876px;width:5px;height:5px;background:rgb(129,129,132)"></div>
<div class="px" style="left:512px;top:876px;width:5px;height:5px;background:rgb(168,168,171)"></div>
<div class="px" style="left:517px;top:876px;width:5px;height:5px;background:rgb(125,125,128)"></div>
<div class="px" style="left:522px;top:876px;width:5px;height:5px;background:rgb(141,141,144)"></div>
<div class="px" style="left:527px;top:876px;width:5px;height:5px;background:rgb(170,170,173)"></div>
<div class="px" style="left:532px;top:876px;width:5px;height:5px;background:rgb(175,175,178)"></div>
<div class="px" style="left:502px;top:881px;width:5px;height:5px;background:rgb(72,72,75)"></div>
<div class="px" style="left:507px;top:881px;width:5px;height:5px;background:rgb(105,105,108)"></div>
<div class="px" style="left:512px;top:881px;width:5px;height:5px;background:rgb(73,73,76)"></div>
<div class="px" style="left:517px;top:881px;width:5px;height:5px;background:rgb(109,109,112)"></div>
<div class="px" style="left:522px;top:881px;width:5px;height:5px;background:rgb(109,109,112)"></div>
<div class="px" style="left:527px;top:881px;width:5px;height:5px;background:rgb(82,82,85)"></div>
<div class="px" style="left:532px;top:881px;width:5px;height:5px;background:rgb(145,145,148)"></div>
<div class="a" style="left:596px;top:873px;width:683px;height:8px;border-radius:4px;background:#1c3a63;overflow:hidden"><div style="width:21px;height:8px;background:#3b76c8"></div></div>
<div class="a" style="left:1300px;top:869px;width:43px;text-align:right;font-size:12px;font-weight:bold;color:#e6e6e6;line-height:14px;letter-spacing:-0.45px;white-space:nowrap">W 3%</div>
<div class="a" style="left:203px;top:931px;width:1150px;height:1px;background:#4c4f54"></div>
<div class="a" style="left:491px;top:928px;width:60px;height:4px;background:#2a2c31"></div>
<div class="px" style="left:210px;top:905px;width:5px;height:5px;background:rgb(121,121,124)"></div>
<div class="px" style="left:215px;top:905px;width:5px;height:5px;background:rgb(71,71,74)"></div>
<div class="px" style="left:220px;top:905px;width:5px;height:5px;background:rgb(68,68,71)"></div>
<div class="px" style="left:225px;top:905px;width:5px;height:5px;background:rgb(120,120,123)"></div>
<div class="px" style="left:230px;top:905px;width:5px;height:5px;background:rgb(99,99,102)"></div>
<div class="px" style="left:235px;top:905px;width:5px;height:5px;background:rgb(104,104,107)"></div>
<div class="px" style="left:240px;top:905px;width:5px;height:5px;background:rgb(124,124,127)"></div>
<div class="px" style="left:245px;top:905px;width:5px;height:5px;background:rgb(91,91,94)"></div>
<div class="px" style="left:250px;top:905px;width:5px;height:5px;background:rgb(111,111,114)"></div>
<div class="px" style="left:210px;top:910px;width:5px;height:5px;background:rgb(168,168,171)"></div>
<div class="px" style="left:215px;top:910px;width:5px;height:5px;background:rgb(128,128,131)"></div>
<div class="px" style="left:220px;top:910px;width:5px;height:5px;background:rgb(147,147,150)"></div>
<div class="px" style="left:225px;top:910px;width:5px;height:5px;background:rgb(126,126,129)"></div>
<div class="px" style="left:230px;top:910px;width:5px;height:5px;background:rgb(187,187,190)"></div>
<div class="px" style="left:235px;top:910px;width:5px;height:5px;background:rgb(138,138,141)"></div>
<div class="px" style="left:240px;top:910px;width:5px;height:5px;background:rgb(153,153,156)"></div>
<div class="px" style="left:245px;top:910px;width:5px;height:5px;background:rgb(184,184,187)"></div>
<div class="px" style="left:250px;top:910px;width:5px;height:5px;background:rgb(199,199,202)"></div>
<div class="px" style="left:210px;top:915px;width:5px;height:5px;background:rgb(111,111,114)"></div>
<div class="px" style="left:215px;top:915px;width:5px;height:5px;background:rgb(122,122,125)"></div>
<div class="px" style="left:220px;top:915px;width:5px;height:5px;background:rgb(100,100,103)"></div>
<div class="px" style="left:225px;top:915px;width:5px;height:5px;background:rgb(106,106,109)"></div>
<div class="px" style="left:230px;top:915px;width:5px;height:5px;background:rgb(98,98,101)"></div>
<div class="px" style="left:235px;top:915px;width:5px;height:5px;background:rgb(88,88,91)"></div>
<div class="px" style="left:240px;top:915px;width:5px;height:5px;background:rgb(81,81,84)"></div>
<div class="px" style="left:245px;top:915px;width:5px;height:5px;background:rgb(91,91,94)"></div>
<div class="px" style="left:250px;top:915px;width:5px;height:5px;background:rgb(78,78,81)"></div>
<div class="px" style="left:293px;top:905px;width:5px;height:5px;background:rgb(112,112,115)"></div>
<div class="px" style="left:298px;top:905px;width:5px;height:5px;background:rgb(120,120,123)"></div>
<div class="px" style="left:303px;top:905px;width:5px;height:5px;background:rgb(116,116,119)"></div>
<div class="px" style="left:308px;top:905px;width:5px;height:5px;background:rgb(116,116,119)"></div>
<div class="px" style="left:313px;top:905px;width:5px;height:5px;background:rgb(91,91,94)"></div>
<div class="px" style="left:318px;top:905px;width:5px;height:5px;background:rgb(87,87,90)"></div>
<div class="px" style="left:323px;top:905px;width:5px;height:5px;background:rgb(78,78,81)"></div>
<div class="px" style="left:328px;top:905px;width:5px;height:5px;background:rgb(106,106,109)"></div>
<div class="px" style="left:333px;top:905px;width:5px;height:5px;background:rgb(93,93,96)"></div>
<div class="px" style="left:338px;top:905px;width:5px;height:5px;background:rgb(87,87,90)"></div>
<div class="px" style="left:343px;top:905px;width:5px;height:5px;background:rgb(113,113,116)"></div>
<div class="px" style="left:348px;top:905px;width:5px;height:5px;background:rgb(106,106,109)"></div>
<div class="px" style="left:353px;top:905px;width:5px;height:5px;background:rgb(150,150,153)"></div>
<div class="px" style="left:358px;top:905px;width:5px;height:5px;background:rgb(66,66,69)"></div>
<div class="px" style="left:363px;top:905px;width:5px;height:5px;background:rgb(113,113,116)"></div>
<div class="px" style="left:368px;top:905px;width:5px;height:5px;background:rgb(112,112,115)"></div>
<div class="px" style="left:293px;top:910px;width:5px;height:5px;background:rgb(179,179,182)"></div>
<div class="px" style="left:298px;top:910px;width:5px;height:5px;background:rgb(119,119,122)"></div>
<div class="px" style="left:303px;top:910px;width:5px;height:5px;background:rgb(149,149,152)"></div>
<div class="px" style="left:308px;top:910px;width:5px;height:5px;background:rgb(193,193,196)"></div>
<div class="px" style="left:313px;top:910px;width:5px;height:5px;background:rgb(194,194,197)"></div>
<div class="px" style="left:318px;top:910px;width:5px;height:5px;background:rgb(184,184,187)"></div>
<div class="px" style="left:323px;top:910px;width:5px;height:5px;background:rgb(183,183,186)"></div>
<div class="px" style="left:328px;top:910px;width:5px;height:5px;background:rgb(140,140,143)"></div>
<div class="px" style="left:333px;top:910px;width:5px;height:5px;background:rgb(139,139,142)"></div>
<div class="px" style="left:338px;top:910px;width:5px;height:5px;background:rgb(192,192,195)"></div>
<div class="px" style="left:343px;top:910px;width:5px;height:5px;background:rgb(140,140,143)"></div>
<div class="px" style="left:348px;top:910px;width:5px;height:5px;background:rgb(176,176,179)"></div>
<div class="px" style="left:353px;top:910px;width:5px;height:5px;background:rgb(194,194,197)"></div>
<div class="px" style="left:358px;top:910px;width:5px;height:5px;background:rgb(167,167,170)"></div>
<div class="px" style="left:363px;top:910px;width:5px;height:5px;background:rgb(175,175,178)"></div>
<div class="px" style="left:368px;top:910px;width:5px;height:5px;background:rgb(195,195,198)"></div>
<div class="px" style="left:293px;top:915px;width:5px;height:5px;background:rgb(156,156,159)"></div>
<div class="px" style="left:298px;top:915px;width:5px;height:5px;background:rgb(81,81,84)"></div>
<div class="px" style="left:303px;top:915px;width:5px;height:5px;background:rgb(167,167,170)"></div>
<div class="px" style="left:308px;top:915px;width:5px;height:5px;background:rgb(88,88,91)"></div>
<div class="px" style="left:313px;top:915px;width:5px;height:5px;background:rgb(123,123,126)"></div>
<div class="px" style="left:318px;top:915px;width:5px;height:5px;background:rgb(118,118,121)"></div>
<div class="px" style="left:323px;top:915px;width:5px;height:5px;background:rgb(98,98,101)"></div>
<div class="px" style="left:328px;top:915px;width:5px;height:5px;background:rgb(69,69,72)"></div>
<div class="px" style="left:333px;top:915px;width:5px;height:5px;background:rgb(137,137,140)"></div>
<div class="px" style="left:338px;top:915px;width:5px;height:5px;background:rgb(109,109,112)"></div>
<div class="px" style="left:343px;top:915px;width:5px;height:5px;background:rgb(66,66,69)"></div>
<div class="px" style="left:348px;top:915px;width:5px;height:5px;background:rgb(130,130,133)"></div>
<div class="px" style="left:353px;top:915px;width:5px;height:5px;background:rgb(95,95,98)"></div>
<div class="px" style="left:358px;top:915px;width:5px;height:5px;background:rgb(121,121,124)"></div>
<div class="px" style="left:363px;top:915px;width:5px;height:5px;background:rgb(167,167,170)"></div>
<div class="px" style="left:368px;top:915px;width:5px;height:5px;background:rgb(114,114,117)"></div>
<div class="a" style="left:453px;top:905px;width:135px;height:16px;border-radius:8px;background:#47494d"></div>
<div class="a" style="left:491px;top:902px;width:60px;height:5px;background:#2a2c31"></div>
<div class="a" style="left:491px;top:907px;width:60px;height:15px;background:#3e4044"></div>
<div class="px" style="left:502px;top:907px;width:5px;height:5px;background:rgb(144,144,147)"></div>
<div class="px" style="left:507px;top:907px;width:5px;height:5px;background:rgb(105,105,108)"></div>
<div class="px" style="left:512px;top:907px;width:5px;height:5px;background:rgb(94,94,97)"></div>
<div class="px" style="left:517px;top:907px;width:5px;height:5px;background:rgb(99,99,102)"></div>
<div class="px" style="left:522px;top:907px;width:5px;height:5px;background:rgb(101,101,104)"></div>
<div class="px" style="left:527px;top:907px;width:5px;height:5px;background:rgb(72,72,75)"></div>
<div class="px" style="left:532px;top:907px;width:5px;height:5px;background:rgb(145,145,148)"></div>
<div class="px" style="left:502px;top:912px;width:5px;height:5px;background:rgb(138,138,141)"></div>
<div class="px" style="left:507px;top:912px;width:5px;height:5px;background:rgb(131,131,134)"></div>
<div class="px" style="left:512px;top:912px;width:5px;height:5px;background:rgb(121,121,124)"></div>
<div class="px" style="left:517px;top:912px;width:5px;height:5px;background:rgb(109,109,112)"></div>
<div class="px" style="left:522px;top:912px;width:5px;height:5px;background:rgb(151,151,154)"></div>
<div class="px" style="left:527px;top:912px;width:5px;height:5px;background:rgb(161,161,164)"></div>
<div class="px" style="left:532px;top:912px;width:5px;height:5px;background:rgb(160,160,163)"></div>
<div class="px" style="left:502px;top:917px;width:5px;height:5px;background:rgb(82,82,85)"></div>
<div class="px" style="left:507px;top:917px;width:5px;height:5px;background:rgb(97,97,100)"></div>
<div class="px" style="left:512px;top:917px;width:5px;height:5px;background:rgb(91,91,94)"></div>
<div class="px" style="left:517px;top:917px;width:5px;height:5px;background:rgb(110,110,113)"></div>
<div class="px" style="left:522px;top:917px;width:5px;height:5px;background:rgb(132,132,135)"></div>
<div class="px" style="left:527px;top:917px;width:5px;height:5px;background:rgb(83,83,86)"></div>
<div class="px" style="left:532px;top:917px;width:5px;height:5px;background:rgb(78,78,81)"></div>
<div class="a" style="left:596px;top:909px;width:683px;height:8px;border-radius:4px;background:#1c3a63;overflow:hidden"><div style="width:20px;height:8px;background:#3b76c8"></div></div>
<div class="a" style="left:1300px;top:905px;width:43px;text-align:right;font-size:12px;font-weight:bold;color:#e6e6e6;line-height:14px;letter-spacing:-0.45px;white-space:nowrap">W 3%</div>
<div class="a" style="left:218px;top:950px;font-size:13px;color:#cfd0d2;line-height:15px;letter-spacing:-0.2px;white-space:nowrap">Sold:</div>
<div class="px" style="left:247px;top:949px;width:5px;height:5px;background:rgb(68,68,71)"></div>
<div class="px" style="left:252px;top:949px;width:5px;height:5px;background:rgb(54,54,57)"></div>
<div class="px" style="left:257px;top:949px;width:5px;height:5px;background:rgb(58,58,61)"></div>
<div class="px" style="left:262px;top:949px;width:5px;height:5px;background:rgb(89,89,92)"></div>
<div class="px" style="left:267px;top:949px;width:5px;height:5px;background:rgb(59,59,62)"></div>
<div class="px" style="left:272px;top:949px;width:5px;height:5px;background:rgb(52,52,55)"></div>
<div class="px" style="left:247px;top:954px;width:5px;height:5px;background:rgb(103,103,106)"></div>
<div class="px" style="left:252px;top:954px;width:5px;height:5px;background:rgb(74,74,77)"></div>
<div class="px" style="left:257px;top:954px;width:5px;height:5px;background:rgb(89,89,92)"></div>
<div class="px" style="left:262px;top:954px;width:5px;height:5px;background:rgb(97,97,100)"></div>
<div class="px" style="left:267px;top:954px;width:5px;height:5px;background:rgb(119,119,122)"></div>
<div class="px" style="left:272px;top:954px;width:5px;height:5px;background:rgb(109,109,112)"></div>
<div class="px" style="left:247px;top:959px;width:5px;height:5px;background:rgb(53,53,56)"></div>
<div class="px" style="left:252px;top:959px;width:5px;height:5px;background:rgb(72,72,75)"></div>
<div class="px" style="left:257px;top:959px;width:5px;height:5px;background:rgb(63,63,66)"></div>
<div class="px" style="left:262px;top:959px;width:5px;height:5px;background:rgb(68,68,71)"></div>
<div class="px" style="left:267px;top:959px;width:5px;height:5px;background:rgb(53,53,56)"></div>
<div class="px" style="left:272px;top:959px;width:5px;height:5px;background:rgb(68,68,71)"></div>
<div class="a" style="left:283px;top:949px;width:1px;height:20px;background:#33363b"></div>
<div class="a" style="left:289px;top:950px;font-size:13px;color:#cfd0d2;line-height:15px;letter-spacing:-0.4px;white-space:nowrap">Leads:</div>
<div class="px" style="left:326px;top:949px;width:5px;height:5px;background:rgb(55,55,58)"></div>
<div class="px" style="left:331px;top:949px;width:5px;height:5px;background:rgb(79,79,82)"></div>
<div class="px" style="left:336px;top:949px;width:5px;height:5px;background:rgb(80,80,83)"></div>
<div class="px" style="left:341px;top:949px;width:5px;height:5px;background:rgb(76,76,79)"></div>
<div class="px" style="left:346px;top:949px;width:5px;height:5px;background:rgb(78,78,81)"></div>
<div class="px" style="left:351px;top:949px;width:5px;height:5px;background:rgb(73,73,76)"></div>
<div class="px" style="left:356px;top:949px;width:5px;height:5px;background:rgb(68,68,71)"></div>
<div class="px" style="left:361px;top:949px;width:5px;height:5px;background:rgb(67,67,70)"></div>
<div class="px" style="left:326px;top:954px;width:5px;height:5px;background:rgb(124,124,127)"></div>
<div class="px" style="left:331px;top:954px;width:5px;height:5px;background:rgb(119,119,122)"></div>
<div class="px" style="left:336px;top:954px;width:5px;height:5px;background:rgb(106,106,109)"></div>
<div class="px" style="left:341px;top:954px;width:5px;height:5px;background:rgb(117,117,120)"></div>
<div class="px" style="left:346px;top:954px;width:5px;height:5px;background:rgb(66,66,69)"></div>
<div class="px" style="left:351px;top:954px;width:5px;height:5px;background:rgb(97,97,100)"></div>
<div class="px" style="left:356px;top:954px;width:5px;height:5px;background:rgb(129,129,132)"></div>
<div class="px" style="left:361px;top:954px;width:5px;height:5px;background:rgb(114,114,117)"></div>
<div class="px" style="left:326px;top:959px;width:5px;height:5px;background:rgb(79,79,82)"></div>
<div class="px" style="left:331px;top:959px;width:5px;height:5px;background:rgb(55,55,58)"></div>
<div class="px" style="left:336px;top:959px;width:5px;height:5px;background:rgb(51,51,54)"></div>
<div class="px" style="left:341px;top:959px;width:5px;height:5px;background:rgb(72,72,75)"></div>
<div class="px" style="left:346px;top:959px;width:5px;height:5px;background:rgb(51,51,54)"></div>
<div class="px" style="left:351px;top:959px;width:5px;height:5px;background:rgb(59,59,62)"></div>
<div class="px" style="left:356px;top:959px;width:5px;height:5px;background:rgb(73,73,76)"></div>
<div class="px" style="left:361px;top:959px;width:5px;height:5px;background:rgb(82,82,85)"></div>
<div class="a" style="left:368px;top:949px;width:1px;height:20px;background:#33363b"></div>
<div class="a" style="left:374.5px;top:950px;font-size:13px;color:#cfd0d2;line-height:15px;letter-spacing:-0.2px;white-space:nowrap">Conversion:</div>
<div class="px" style="left:438px;top:949px;width:5px;height:5px;background:rgb(66,66,69)"></div>
<div class="px" style="left:443px;top:949px;width:5px;height:5px;background:rgb(46,46,49)"></div>
<div class="px" style="left:448px;top:949px;width:5px;height:5px;background:rgb(41,41,44)"></div>
<div class="px" style="left:453px;top:949px;width:5px;height:5px;background:rgb(65,65,68)"></div>
<div class="px" style="left:458px;top:949px;width:5px;height:5px;background:rgb(52,52,55)"></div>
<div class="px" style="left:438px;top:954px;width:5px;height:5px;background:rgb(77,77,80)"></div>
<div class="px" style="left:443px;top:954px;width:5px;height:5px;background:rgb(47,47,50)"></div>
<div class="px" style="left:448px;top:954px;width:5px;height:5px;background:rgb(65,65,68)"></div>
<div class="px" style="left:453px;top:954px;width:5px;height:5px;background:rgb(83,83,86)"></div>
<div class="px" style="left:458px;top:954px;width:5px;height:5px;background:rgb(107,107,110)"></div>
<div class="px" style="left:438px;top:959px;width:5px;height:5px;background:rgb(56,56,59)"></div>
<div class="px" style="left:443px;top:959px;width:5px;height:5px;background:rgb(72,72,75)"></div>
<div class="px" style="left:448px;top:959px;width:5px;height:5px;background:rgb(68,68,71)"></div>
<div class="px" style="left:453px;top:959px;width:5px;height:5px;background:rgb(40,40,43)"></div>
<div class="px" style="left:458px;top:959px;width:5px;height:5px;background:rgb(65,65,68)"></div>
<div class="a" style="left:471px;top:949px;width:1px;height:20px;background:#33363b"></div>
<div class="px" style="left:476px;top:949px;width:5px;height:5px;background:rgb(61,61,64)"></div>
<div class="px" style="left:481px;top:949px;width:5px;height:5px;background:rgb(75,75,78)"></div>
<div class="px" style="left:486px;top:949px;width:5px;height:5px;background:rgb(52,52,55)"></div>
<div class="px" style="left:491px;top:949px;width:5px;height:5px;background:rgb(54,54,57)"></div>
<div class="px" style="left:496px;top:949px;width:5px;height:5px;background:rgb(68,68,71)"></div>
<div class="px" style="left:501px;top:949px;width:5px;height:5px;background:rgb(46,46,49)"></div>
<div class="px" style="left:506px;top:949px;width:5px;height:5px;background:rgb(71,71,74)"></div>
<div class="px" style="left:511px;top:949px;width:5px;height:5px;background:rgb(79,79,82)"></div>
<div class="px" style="left:516px;top:949px;width:5px;height:5px;background:rgb(51,51,54)"></div>
<div class="px" style="left:521px;top:949px;width:5px;height:5px;background:rgb(77,77,80)"></div>
<div class="px" style="left:526px;top:949px;width:5px;height:5px;background:rgb(49,49,52)"></div>
<div class="px" style="left:531px;top:949px;width:5px;height:5px;background:rgb(53,53,56)"></div>
<div class="px" style="left:476px;top:954px;width:5px;height:5px;background:rgb(107,107,110)"></div>
<div class="px" style="left:481px;top:954px;width:5px;height:5px;background:rgb(93,93,96)"></div>
<div class="px" style="left:486px;top:954px;width:5px;height:5px;background:rgb(90,90,93)"></div>
<div class="px" style="left:491px;top:954px;width:5px;height:5px;background:rgb(101,101,104)"></div>
<div class="px" style="left:496px;top:954px;width:5px;height:5px;background:rgb(88,88,91)"></div>
<div class="px" style="left:501px;top:954px;width:5px;height:5px;background:rgb(85,85,88)"></div>
<div class="px" style="left:506px;top:954px;width:5px;height:5px;background:rgb(104,104,107)"></div>
<div class="px" style="left:511px;top:954px;width:5px;height:5px;background:rgb(81,81,84)"></div>
<div class="px" style="left:516px;top:954px;width:5px;height:5px;background:rgb(77,77,80)"></div>
<div class="px" style="left:521px;top:954px;width:5px;height:5px;background:rgb(111,111,114)"></div>
<div class="px" style="left:526px;top:954px;width:5px;height:5px;background:rgb(101,101,104)"></div>
<div class="px" style="left:531px;top:954px;width:5px;height:5px;background:rgb(120,120,123)"></div>
<div class="px" style="left:476px;top:959px;width:5px;height:5px;background:rgb(71,71,74)"></div>
<div class="px" style="left:481px;top:959px;width:5px;height:5px;background:rgb(59,59,62)"></div>
<div class="px" style="left:486px;top:959px;width:5px;height:5px;background:rgb(52,52,55)"></div>
<div class="px" style="left:491px;top:959px;width:5px;height:5px;background:rgb(90,90,93)"></div>
<div class="px" style="left:496px;top:959px;width:5px;height:5px;background:rgb(63,63,66)"></div>
<div class="px" style="left:501px;top:959px;width:5px;height:5px;background:rgb(46,46,49)"></div>
<div class="px" style="left:506px;top:959px;width:5px;height:5px;background:rgb(76,76,79)"></div>
<div class="px" style="left:511px;top:959px;width:5px;height:5px;background:rgb(79,79,82)"></div>
<div class="px" style="left:516px;top:959px;width:5px;height:5px;background:rgb(47,47,50)"></div>
<div class="px" style="left:521px;top:959px;width:5px;height:5px;background:rgb(64,64,67)"></div>
<div class="px" style="left:526px;top:959px;width:5px;height:5px;background:rgb(61,61,64)"></div>
<div class="px" style="left:531px;top:959px;width:5px;height:5px;background:rgb(71,71,74)"></div>
<div class="a" style="left:991px;top:950px;font-size:14px;color:#e8e8e8;line-height:16px;letter-spacing:-0.2px;white-space:nowrap">Rows per page:</div>
<div class="a" style="left:1103px;top:949px;font-size:14px;color:#f0f0f0;line-height:16px;white-space:nowrap">10</div>
<svg class="a" style="left:1119px;top:948px;width:24px;height:24px;fill:#f0f0f0" viewBox="0 0 24 24"><path d="M7 10l5 5 5-5z"/></svg>
<div class="a" style="left:1175px;top:950px;font-size:14px;color:#f0f0f0;line-height:16px;white-space:nowrap">1&#8211;10 of 331</div>
<svg class="a" style="left:1279px;top:946px;width:24px;height:24px;fill:#66686c" viewBox="0 0 24 24"><path d="M15.41 7.41L14 6l-6 6 6 6 1.41-1.41L10.83 12z"/></svg>
<svg class="a" style="left:1319px;top:946px;width:24px;height:24px;fill:#fff" viewBox="0 0 24 24"><path d="M10 6L8.59 7.41 13.17 12l-4.58 4.59L10 18l6-6z"/></svg>
<!--/TABLE-->
</body></html>
